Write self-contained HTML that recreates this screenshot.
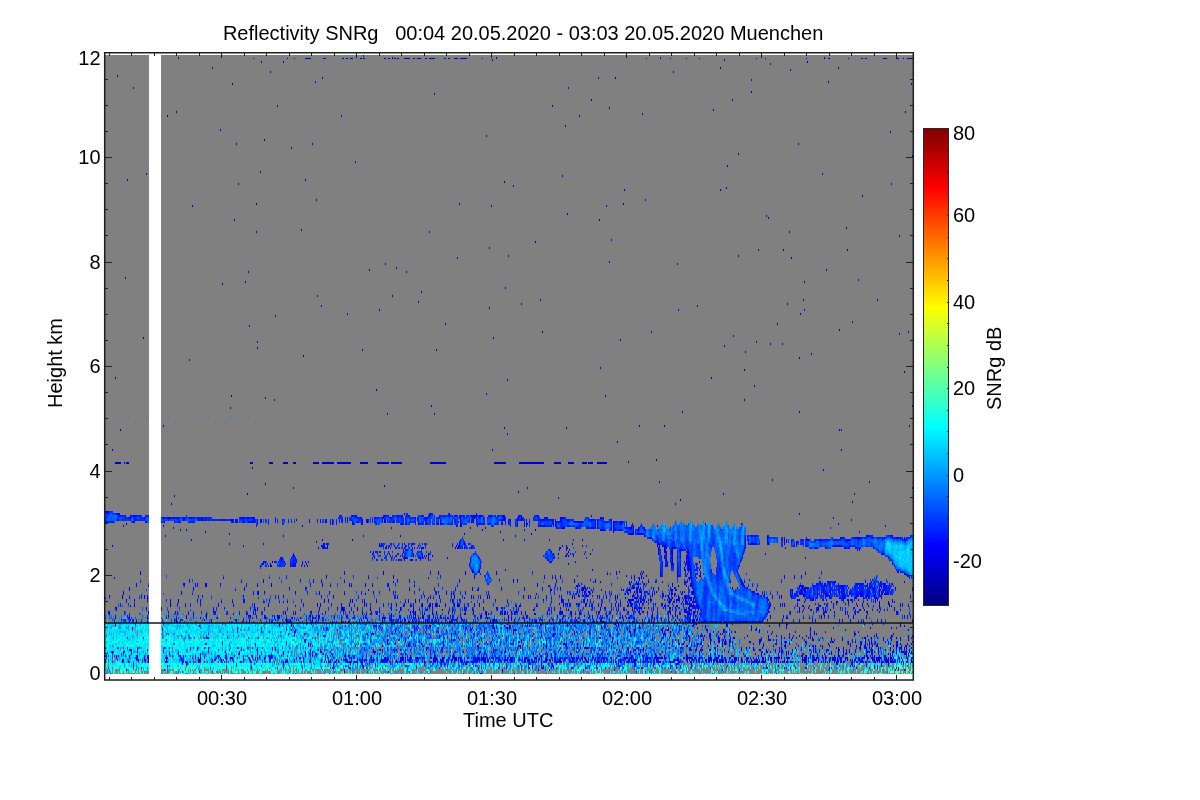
<!DOCTYPE html>
<html><head><meta charset="utf-8"><style>
html,body{margin:0;padding:0;background:#fff;}
svg{display:block;will-change:transform;}
text{font-family:"Liberation Sans",sans-serif;font-size:20px;fill:#000;}
</style></head><body>
<svg width="1200" height="800" viewBox="0 0 1200 800">
<defs><clipPath id="dc"><rect x="105" y="55" width="808" height="619"/></clipPath><linearGradient id="jet" x1="0" y1="0" x2="0" y2="1"><stop offset="0.0000" stop-color="#800000"/><stop offset="0.0312" stop-color="#9f0000"/><stop offset="0.0625" stop-color="#bf0000"/><stop offset="0.0938" stop-color="#df0000"/><stop offset="0.1250" stop-color="#ff0000"/><stop offset="0.1562" stop-color="#ff2000"/><stop offset="0.1875" stop-color="#ff4000"/><stop offset="0.2188" stop-color="#ff6000"/><stop offset="0.2500" stop-color="#ff8000"/><stop offset="0.2812" stop-color="#ff9f00"/><stop offset="0.3125" stop-color="#ffbf00"/><stop offset="0.3438" stop-color="#ffdf00"/><stop offset="0.3750" stop-color="#ffff00"/><stop offset="0.4062" stop-color="#dfff20"/><stop offset="0.4375" stop-color="#bfff40"/><stop offset="0.4688" stop-color="#9fff60"/><stop offset="0.5000" stop-color="#80ff80"/><stop offset="0.5312" stop-color="#60ff9f"/><stop offset="0.5625" stop-color="#40ffbf"/><stop offset="0.5938" stop-color="#20ffdf"/><stop offset="0.6250" stop-color="#00ffff"/><stop offset="0.6562" stop-color="#00dfff"/><stop offset="0.6875" stop-color="#00bfff"/><stop offset="0.7188" stop-color="#009fff"/><stop offset="0.7500" stop-color="#0080ff"/><stop offset="0.7812" stop-color="#0060ff"/><stop offset="0.8125" stop-color="#0040ff"/><stop offset="0.8438" stop-color="#0020ff"/><stop offset="0.8750" stop-color="#0000ff"/><stop offset="0.9062" stop-color="#0000df"/><stop offset="0.9375" stop-color="#0000bf"/><stop offset="0.9688" stop-color="#00009f"/><stop offset="1.0000" stop-color="#000080"/></linearGradient></defs>
<rect x="0" y="0" width="1200" height="800" fill="#fff"/>
<text x="222.9" y="39.5" xml:space="preserve">Reflectivity SNRg   00:04 20.05.2020 - 03:03 20.05.2020 Muenchen</text>
<rect x="105" y="55" width="808" height="619" fill="#808080"/>
<g clip-path="url(#dc)" shape-rendering="crispEdges" stroke-width="2" fill="none">
<path stroke="#0000ef" d="M105 658h808M105 660h808M105 662h808"/>
<g stroke="#0097ff"><path d="M662 524h1m19 0h1m6 0h2m11 0h1m1 0h1m3 0h1m17 0h2M662 526h2m16 0h1m21 0h1m7 0h1m13 0h2m7 0h1m9 0h1M654 528h1m10 0h3m7 0h1m13 0h1m3 0h1m5 0h1m2 0h3m4 0h2m16 0h1M656 530h1m8 0h1m9 0h1m15 0h1m7 0h1m3 0h2m4 0h1m6 0h3m6 0h3m7 0h1m6 0h1M654 532h1m7 0h2m5 0h1m6 0h1m12 0h2m9 0h1m1 0h1m1 0h1m11 0h1m8 0h3m3 0h1m1 0h2M646 534h2m4 0h1m9 0h3m2 0h2m20 0h3m10 0h1m6 0h1m7 0h1m7 0h2m7 0h2m5 0h3M652 536h3m7 0h3m11 0h1m12 0h2m9 0h5m3 0h2m7 0h2m7 0h2m6 0h2m5 0h1m1 0h1M721 546h1m88 0h1m6 0h1m67 0h1m20 0h1M702 548h1m3 0h1m15 0h1m14 0h1m167 0h1M701 550h2m16 0h1m17 0h1m159 0h1m3 0h1m10 0h1M702 552h1m17 0h1m1 0h1m13 0h2M702 554h1m3 0h1m14 0h2m15 0h1m153 0h1M474 556h1m227 0h1m2 0h1m1 0h1m13 0h1m15 0h2m152 0h2M472 558h1m2 0h2m244 0h1m168 0h1m1 0h1m9 0h1M475 560h2m227 0h2m16 0h1m170 0h1M472 562h2m2 0h1m228 0h1m16 0h1m171 0h1m2 0h1M471 564h1m3 0h4m224 0h1m1 0h1m189 0h2M475 566h1m1 0h1m226 0h1M476 568h2m226 0h3m16 0h1m179 0h1m1 0h1M475 570h3m226 0h2m17 0h1m179 0h1m2 0h1M703 572h3m202 0h1M706 574h1m16 0h1m185 0h2m1 0h1M486 576h1m217 0h1m1 0h1m16 0h1m1 0h1M486 578h1m220 0h1m16 0h1m1 0h2m149 0h1M708 580h1m18 0h2M698 582h1m9 0h2m17 0h1M709 584h1m17 0h2M710 586h1m16 0h2M477 588h1m232 0h2M710 590h3m16 0h1M731 592h2M713 594h3m3 0h1m9 0h2m18 0h1M258 596h1m453 0h1m1 0h1m21 0h3M327 598h1m332 0h1m38 0h1m16 0h1m20 0h1m1 0h4M283 600h1m432 0h1m1 0h2m21 0h1m1 0h1m1 0h1m1 0h1M356 602h1m189 0h1m161 0h1m9 0h1m1 0h2m24 0h2M677 604h1m72 0h2m10 0h1M566 606h1m152 0h4m7 0h1m21 0h1m1 0h1M724 608h1M390 610h1m112 0h1m179 0h1m39 0h1m5 0h1m8 0h1M433 612h1m295 0h3m2 0h1m1 0h2m1 0h1m7 0h1m4 0h2m7 0h1M114 614h1m471 0h1m150 0h2m1 0h3m1 0h1m7 0h1M118 616h1m63 0h1m18 0h1m74 0h1m76 0h1m43 0h1m163 0h1m72 0h1m59 0h1"/><path d="M653 538h91" stroke-dasharray="2 13 1 7 1 5 1 6 1 1 1 8 1 2 2 3 1 8 2 7 1 6 3 5 3 999"/><path d="M663 540h250" stroke-dasharray="1 11 1 6 1 7 2 8 1 1 1 5 1 8 1 2 1 4 1 1 1 5 3 5 1 1 1 28 1 90 1 11 1 9 3 1 1 1 1 18 3 999"/><path d="M697 542h214" stroke-dasharray="1 4 1 5 1 12 1 3 3 2 1 2 2 1 1 4 1 1 1 141 2 4 2 1 3 2 1 1 1 5 2 1 1 999"/><path d="M701 544h207" stroke-dasharray="1 17 1 1 1 3 1 8 2 6 2 66 1 1 1 18 1 31 1 21 1 11 2 3 2 2 2 999"/><path d="M119 618h556" stroke-dasharray="1 33 1 26 1 10 1 80 2 6 1 45 1 11 1 29 1 2 1 26 1 26 1 42 1 9 1 79 1 23 1 7 1 4 1 78 1 999"/><path d="M119 620h541" stroke-dasharray="1 6 1 137 1 5 1 55 1 10 1 19 1 109 1 12 1 4 1 15 1 15 1 33 1 15 1 39 1 9 1 3 1 37 1 999"/><path d="M128 622h535" stroke-dasharray="1 2 1 27 1 56 1 75 1 8 1 33 1 40 1 9 1 23 1 26 1 50 1 32 1 8 1 42 1 13 1 3 1 26 1 22 1 20 1 999"/><path d="M187 624h677" stroke-dasharray="1 17 1 65 1 15 1 10 1 16 1 9 1 32 1 2 2 1 1 16 1 4 1 11 1 1 1 2 1 9 2 6 1 3 2 3 1 3 1 18 1 1 1 2 1 3 2 32 1 13 1 7 1 4 1 6 1 2 1 3 1 6 1 9 1 5 1 2 1 2 1 1 1 4 1 4 1 2 1 3 1 4 1 1 1 2 1 3 1 13 1 7 1 1 1 2 1 1 1 7 1 2 1 7 1 7 1 32 1 13 1 160 1 999"/><path d="M111 626h596" stroke-dasharray="1 16 1 36 1 14 1 6 1 1 1 18 1 16 1 29 1 16 1 13 1 11 1 30 1 2 1 5 1 18 1 6 2 21 1 2 1 8 1 1 1 31 1 5 1 5 2 10 1 18 1 4 1 2 2 1 1 2 1 52 1 6 1 4 4 3 1 9 1 5 1 3 1 29 1 33 1 5 1 8 1 7 1 6 1 9 1 19 1 999"/><path d="M118 628h611" stroke-dasharray="1 1 1 5 1 1 1 6 1 41 1 40 1 29 1 15 1 35 1 3 1 9 3 8 1 19 2 4 1 1 1 6 3 2 1 5 1 3 1 12 2 2 1 4 1 2 3 6 1 23 1 37 1 9 3 3 2 2 1 12 1 12 2 5 1 2 1 2 1 20 1 3 2 4 2 4 1 5 1 3 1 15 1 1 1 10 1 9 1 4 2 18 1 2 1 2 1 7 1 17 1 1 1 4 1 5 1 15 1 11 1 13 1 999"/><path d="M128 630h584" stroke-dasharray="1 47 1 32 1 9 1 70 1 1 2 21 1 1 2 1 1 3 1 11 1 2 1 2 1 3 1 1 1 6 2 4 1 4 1 7 1 7 1 10 1 6 1 30 1 1 1 7 1 2 1 9 1 2 2 3 2 21 1 4 1 1 1 5 1 5 1 3 1 11 2 4 2 10 2 19 1 1 2 15 2 1 2 9 1 3 1 5 1 18 1 4 1 14 1 1 1 34 1 18 1 12 2 999"/><path d="M119 632h585" stroke-dasharray="2 41 1 4 1 6 1 29 1 3 1 10 2 42 1 4 1 12 1 3 1 6 1 4 1 17 1 33 3 7 2 48 1 39 1 2 1 3 1 6 1 4 2 15 1 7 1 2 1 1 1 15 1 12 1 14 1 2 1 1 1 5 1 5 1 10 1 2 1 7 1 2 1 3 1 13 1 7 1 9 1 4 1 1 1 4 1 8 1 11 1 2 1 4 1 11 1 2 1 16 1 9 1 999"/><path d="M111 634h589" stroke-dasharray="1 13 1 23 1 39 1 43 1 9 1 2 1 15 1 26 1 8 1 1 1 5 1 32 1 1 1 5 1 3 1 3 1 20 1 1 1 4 1 3 1 7 1 3 1 37 1 11 1 18 1 1 1 5 1 8 1 14 2 3 1 9 1 5 1 9 2 4 1 2 1 26 1 7 1 17 2 10 1 9 2 3 1 6 2 6 1 3 1 1 1 2 1 11 1 4 1 37 1 999"/><path d="M132 636h586" stroke-dasharray="1 67 1 28 1 33 1 14 1 2 1 6 1 13 1 1 1 8 1 22 1 2 1 24 1 11 1 4 1 8 1 8 1 13 1 7 1 3 1 2 1 2 1 29 1 2 1 5 1 20 1 8 1 6 1 3 1 14 1 10 2 19 1 2 1 5 1 3 1 4 1 24 3 20 2 7 1 19 2 1 1 4 1 2 1 7 1 14 1 9 1 13 1 5 1 999"/><path d="M137 638h596" stroke-dasharray="1 25 1 10 1 13 1 1 1 31 1 10 1 3 1 43 1 15 1 19 1 10 1 5 1 20 1 6 1 5 1 9 1 2 2 8 1 20 1 1 1 5 1 5 1 9 1 3 1 24 1 21 1 3 1 2 1 16 1 8 1 1 1 31 1 2 2 3 1 12 1 27 1 4 1 10 1 8 1 1 1 1 1 6 1 8 1 1 1 4 1 23 1 31 1 4 1 11 1 3 1 999"/><path d="M189 640h690" stroke-dasharray="1 91 1 11 1 29 2 7 1 3 1 3 1 3 1 4 1 2 2 8 2 10 3 5 1 12 1 20 1 1 1 8 1 1 1 20 1 5 1 13 1 7 1 8 1 7 3 18 1 36 1 2 2 5 1 3 1 2 1 3 2 7 1 7 2 10 1 5 1 12 1 8 2 3 1 17 1 1 1 28 1 89 1 11 1 29 1 60 1 999"/><path d="M157 642h722" stroke-dasharray="1 26 1 45 1 44 2 31 1 20 1 22 1 5 1 14 1 6 2 8 1 20 1 13 1 14 2 13 2 5 1 42 1 6 1 2 1 24 1 10 1 16 1 9 1 2 1 2 1 2 1 3 2 1 1 28 1 1 1 18 1 3 1 10 1 1 1 7 1 10 1 178 1 2 1 15 1 999"/><path d="M246 644h422" stroke-dasharray="1 51 1 12 1 30 3 9 1 12 1 3 1 39 1 26 1 13 1 1 2 3 1 7 1 7 1 12 1 10 1 2 1 13 1 12 1 2 1 28 2 7 1 9 1 9 3 1 1 8 3 5 1 6 1 8 1 5 1 8 1 8 1 2 1 6 1 5 1 999"/><path d="M112 646h632" stroke-dasharray="1 100 1 15 1 47 1 10 1 3 1 39 1 21 1 10 4 8 1 34 1 5 1 1 1 9 1 14 1 3 1 4 1 1 2 1 1 9 2 8 1 8 1 2 1 5 1 13 1 20 2 2 1 3 1 3 1 4 1 4 1 1 1 10 2 9 1 12 1 1 2 26 1 4 1 24 1 1 1 6 1 1 1 1 1 2 1 24 1 21 2 23 1 3 1 999"/><path d="M141 648h736" stroke-dasharray="1 17 1 3 1 86 1 23 1 3 1 6 1 6 1 3 1 14 1 10 1 13 1 6 1 7 1 1 1 7 1 1 1 1 1 2 1 19 1 3 1 8 1 1 1 4 1 11 2 7 1 6 1 1 1 10 1 3 2 2 2 13 1 25 1 5 1 6 1 1 2 21 1 7 1 6 1 3 1 3 1 3 1 4 1 31 1 4 1 1 1 11 1 6 1 6 1 20 3 1 1 1 1 12 1 4 1 9 1 4 1 38 1 6 1 127 1 8 1 999"/><path d="M124 650h612" stroke-dasharray="1 2 1 49 1 9 1 88 1 1 1 34 1 3 1 3 1 4 1 7 1 3 1 23 1 5 1 3 1 17 1 24 1 11 1 18 1 14 1 7 1 11 1 5 1 10 1 1 1 2 1 6 1 1 1 11 1 2 1 2 1 15 1 18 1 1 1 2 1 40 1 19 1 14 1 1 1 2 1 12 1 20 1 8 1 33 1 6 1 999"/><path d="M107 652h756" stroke-dasharray="1 78 2 14 2 90 1 1 1 29 1 8 1 1 1 1 1 21 1 1 1 2 1 2 1 1 1 5 1 6 1 5 1 2 1 14 1 6 1 2 1 4 1 48 1 1 1 2 2 13 1 3 1 10 1 3 1 3 1 8 1 1 1 10 1 1 1 5 1 10 1 28 1 3 1 24 1 2 1 7 1 10 1 1 2 8 2 3 1 12 2 7 1 3 1 2 1 3 1 2 1 4 1 134 1 32 1 999"/><path d="M106 654h780" stroke-dasharray="1 30 1 7 1 13 1 5 1 37 1 11 1 16 1 1 1 73 1 8 1 17 1 3 1 3 2 15 1 8 1 2 1 15 1 20 1 5 1 16 1 17 1 18 1 23 1 3 1 2 1 11 1 7 1 1 1 25 1 4 1 3 1 4 1 1 1 9 1 5 2 1 1 36 1 19 1 2 1 6 1 17 1 2 1 7 1 22 1 115 1 66 1 999"/><path d="M122 656h716" stroke-dasharray="1 7 1 8 1 5 1 27 1 4 1 13 1 12 1 67 1 9 1 7 1 12 1 4 1 3 1 3 1 17 1 6 1 3 1 4 1 3 1 25 1 4 1 27 1 12 1 1 1 39 2 13 2 17 1 8 1 8 1 2 1 31 1 3 2 15 1 3 1 4 1 8 2 1 1 7 1 21 1 16 1 2 1 1 1 15 1 4 1 2 1 5 1 19 1 5 1 7 1 122 1 999"/><path d="M119 658h701" stroke-dasharray="1 10 1 80 1 68 1 28 3 3 1 15 1 5 1 14 1 7 1 60 1 15 1 56 1 5 1 15 1 3 1 8 1 1 1 11 1 6 1 5 1 13 1 19 1 3 1 5 1 12 1 3 1 10 1 7 1 5 1 24 1 93 1 36 1 20 1 999"/><path d="M130 660h710" stroke-dasharray="1 27 1 5 1 8 1 15 1 5 2 13 2 50 1 30 1 5 1 4 1 4 1 10 1 10 1 17 1 8 1 21 1 42 1 25 1 9 1 7 1 1 1 16 1 21 1 87 1 11 1 33 1 1 1 3 1 3 1 14 1 56 1 52 1 7 1 36 1 16 1 999"/><path d="M113 662h772" stroke-dasharray="1 12 1 17 1 34 1 15 1 13 1 3 1 32 1 7 1 9 1 8 1 8 1 10 1 5 2 3 1 26 1 74 1 11 2 1 1 1 1 8 1 5 1 56 1 7 1 1 1 2 1 10 1 1 1 46 1 8 1 2 2 26 1 43 1 9 1 1 1 30 1 44 1 36 1 70 1 4 1 30 1 999"/><path d="M124 664h671" stroke-dasharray="1 11 1 16 1 34 1 83 1 15 1 12 1 2 1 6 1 5 1 2 1 13 1 94 2 22 2 39 1 29 1 6 1 44 1 19 1 5 1 8 1 16 1 1 1 5 1 3 1 1 1 7 1 55 1 25 1 8 1 33 1 18 1 999"/><path d="M131 666h706" stroke-dasharray="1 4 1 41 1 20 1 33 1 55 1 45 1 1 1 27 1 1 2 13 1 54 1 25 1 30 1 30 1 19 1 44 1 9 1 16 1 9 1 8 1 9 1 52 1 21 1 9 1 5 1 37 1 12 1 47 1 999"/><path d="M136 668h715" stroke-dasharray="1 10 1 65 1 71 1 3 1 53 1 9 1 2 1 13 2 28 1 24 1 1 1 1 1 10 1 6 1 8 3 2 1 10 1 18 1 55 1 2 1 1 1 14 1 65 1 4 1 8 1 2 1 28 1 6 1 7 1 155 1 999"/><path d="M212 670h673" stroke-dasharray="1 28 1 5 1 38 1 35 1 29 1 183 1 23 1 67 1 43 1 5 1 42 1 47 1 17 1 94 1 1 1 999"/><path d="M109 672h632" stroke-dasharray="1 34 1 16 1 54 1 81 1 9 1 24 1 73 1 13 1 158 1 7 1 33 1 11 1 15 2 9 1 78 1 999"/><path d="M139 674h769" stroke-dasharray="1 21 1 125 1 102 1 20 1 82 1 42 1 27 1 14 1 53 1 46 1 36 1 168 1 19 1 999"/></g>
<g stroke="#00b3ff"><path d="M663 524h2m26 0h1m11 0h1m5 0h2m14 0h1M664 526h1m25 0h2m12 0h1m3 0h2m25 0h1M662 528h3m26 0h1m16 0h1m16 0h2m8 0h1m7 0h1M663 530h1m26 0h1m52 0h1M664 532h1m38 0h1m4 0h2m25 0h1m7 0h1M700 534h1m2 0h1m4 0h1M725 536h1M701 538h2m16 0h1m5 0h1m1 0h1M689 540h1m11 0h1m17 0h1m22 0h1m145 0h1M701 542h1m17 0h2m21 0h1m146 0h2m18 0h1m1 0h2M702 544h1m17 0h1m12 0h1m7 0h1m149 0h6m2 0h2m7 0h3m1 0h1M701 546h2m16 0h2m171 0h1m2 0h1m2 0h1m4 0h3m5 0h2M701 548h1m18 0h2m163 0h1m6 0h2m4 0h1m4 0h2m5 0h3M720 550h2m163 0h3m3 0h4m3 0h1m4 0h3m4 0h2M721 552h1m163 0h4m2 0h2m3 0h1m9 0h1m5 0h1M886 554h1m2 0h3m4 0h1m1 0h1m11 0h3M722 556h1m170 0h1m3 0h1m4 0h1m2 0h1m6 0h1M722 558h1m170 0h2m2 0h1m11 0h1m2 0h1M894 560h2m1 0h2m5 0h1m5 0h1m1 0h1M895 562h2m1 0h1m2 0h2m7 0h1m1 0h1M897 564h2m5 0h2m1 0h2m3 0h1M476 566h1m421 0h1m1 0h1m2 0h1m1 0h1m4 0h1m1 0h1M901 568h2m1 0h1m1 0h1M724 570h1m182 0h1m3 0h2M723 572h2m184 0h4M724 574h2m185 0h1M724 576h1M725 578h1M749 582h1M730 590h1M730 592h1M731 594h2M464 596h1m250 0h1M715 598h1m22 0h1M742 600h1M748 602h1M719 604h1m1 0h1m30 0h2M723 606h2m28 0h1M395 608h1m114 0h1m212 0h1M724 610h1m1 0h1m3 0h1M732 612h1M107 614h1m199 0h1m95 0h1m19 0h1m6 0h1m16 0h1m88 0h1m3 0h1m17 0h1M163 616h1m106 0h1m34 0h1m9 0h1m4 0h1m83 0h1m5 0h1m81 0h1m45 0h1m110 0h1M297 620h1m48 0h1m9 0h1m1 0h1m28 0h1m42 0h1m135 0h1m1 0h1m35 0h1m5 0h1m45 0h1M147 670h1m47 0h1m2 0h1m44 0h1m27 0h1m79 0h1m100 0h1m97 0h1m339 0h1M108 672h1m136 0h1m50 0h1m56 0h1m26 0h1m9 0h1m87 0h1m34 0h1m149 0h1m204 0h1m20 0h1m22 0h1M130 674h1m56 0h1m51 0h1m5 0h1m276 0h1"/><path d="M195 618h473" stroke-dasharray="1 1 1 7 1 33 1 35 1 22 1 103 1 3 1 3 1 106 1 21 1 4 1 53 1 11 1 33 1 22 1 999"/><path d="M115 622h608" stroke-dasharray="1 105 1 6 1 9 1 34 1 1 1 82 1 96 1 27 1 22 1 15 1 29 1 69 1 1 1 1 1 29 1 15 1 49 1 999"/><path d="M105 624h613" stroke-dasharray="1 2 1 11 1 35 1 1 1 7 3 3 1 4 1 18 1 3 1 8 1 2 1 24 1 3 1 13 1 1 1 15 1 2 1 7 1 1 1 12 1 7 1 14 1 15 1 17 1 11 1 6 1 2 1 22 1 2 1 31 2 26 1 10 1 29 1 13 1 50 1 5 1 3 1 43 1 37 1 2 1 4 1 37 1 2 1 2 2 1 1 999"/><path d="M107 626h608" stroke-dasharray="1 10 1 1 1 5 1 13 1 10 1 9 1 2 1 3 1 6 3 1 1 29 1 1 1 6 2 37 1 11 1 5 1 1 1 3 1 1 1 8 1 7 1 2 1 17 1 3 2 12 1 1 1 10 1 5 1 1 2 6 1 40 1 5 1 4 1 11 1 27 1 34 1 1 1 1 1 1 1 14 1 6 1 10 1 9 1 4 1 2 1 24 1 49 1 32 1 22 1 30 1 999"/><path d="M106 628h610" stroke-dasharray="1 12 1 29 1 17 1 20 2 26 1 29 1 20 1 4 1 16 1 11 1 8 1 13 1 3 1 18 1 6 2 14 1 23 1 29 1 19 1 5 1 22 1 21 1 18 1 18 1 31 1 14 1 2 1 15 1 25 1 7 1 2 1 12 1 39 2 24 1 999"/><path d="M107 630h713" stroke-dasharray="1 26 1 6 1 6 2 3 1 2 2 9 1 39 1 25 1 13 1 4 1 19 1 10 1 5 1 26 1 2 1 1 1 22 1 4 1 15 1 4 2 8 1 30 1 10 1 20 1 9 1 21 1 20 1 9 1 17 1 24 1 24 1 11 1 28 1 28 1 10 1 18 1 15 1 67 1 60 1 999"/><path d="M109 632h799" stroke-dasharray="1 7 1 6 1 10 1 4 2 3 1 4 1 2 1 6 1 4 1 12 1 17 1 8 1 3 1 8 1 33 1 1 1 17 1 4 1 11 1 3 1 20 1 3 1 6 1 38 1 11 2 5 2 11 2 18 1 17 1 25 1 28 1 18 2 22 1 25 1 5 1 27 1 2 1 7 1 10 2 3 1 6 1 31 1 7 1 17 1 17 1 12 1 191 1 999"/><path d="M106 634h571" stroke-dasharray="1 9 1 36 1 3 1 3 1 5 1 6 1 22 1 6 1 17 1 18 1 11 1 6 1 17 1 12 1 22 1 10 1 3 1 1 1 13 2 5 1 9 1 5 2 11 1 2 1 5 1 45 1 24 2 23 1 6 1 4 1 11 1 3 1 3 1 8 1 35 1 14 1 3 1 5 1 87 1 999"/><path d="M133 636h596" stroke-dasharray="1 26 1 13 1 10 1 16 1 14 1 9 1 15 1 48 1 10 1 25 1 20 1 41 1 1 1 1 1 8 2 16 1 31 1 6 1 9 1 2 1 5 1 7 2 27 1 6 1 9 1 14 1 15 1 28 1 1 1 10 1 3 1 22 1 2 1 89 1 999"/><path d="M132 638h715" stroke-dasharray="1 51 1 24 1 5 1 15 1 4 1 19 1 12 1 2 1 26 1 1 1 38 1 15 1 23 1 11 1 7 1 1 1 73 1 5 1 13 1 13 1 19 1 43 1 12 1 3 1 13 1 12 1 6 1 25 1 30 1 1 1 20 1 140 1 999"/><path d="M128 640h655" stroke-dasharray="1 54 1 71 1 18 1 2 1 43 1 6 1 6 1 6 1 23 1 10 1 2 2 3 1 3 2 35 1 9 1 10 1 10 1 16 1 1 1 6 1 6 1 16 1 16 1 22 1 16 1 36 1 5 1 7 1 13 1 28 1 3 1 67 1 4 1 45 1 999"/><path d="M122 642h768" stroke-dasharray="1 86 1 2 1 18 1 14 1 33 2 14 1 5 1 6 1 20 1 19 1 15 1 8 1 6 1 6 1 39 1 49 1 27 1 3 1 12 1 79 1 17 1 8 1 13 1 4 1 1 1 15 1 65 1 52 1 98 1 2 1 999"/><path d="M116 644h770" stroke-dasharray="1 69 1 49 1 31 1 9 1 25 1 19 1 11 1 68 1 10 1 9 1 30 2 7 1 15 1 36 1 33 1 2 1 18 1 81 1 1 1 8 1 26 1 86 1 26 1 8 1 40 1 25 1 999"/><path d="M113 646h799" stroke-dasharray="1 100 1 7 1 7 1 18 2 52 1 25 1 15 1 5 1 11 1 9 1 24 1 33 1 34 1 13 1 14 1 20 1 58 1 24 1 1 1 11 1 8 1 25 1 12 1 18 1 48 1 19 1 30 1 24 1 10 1 92 1 999"/><path d="M162 648h636" stroke-dasharray="1 24 1 28 1 3 1 1 1 6 1 25 1 3 1 6 1 52 1 5 1 4 1 10 1 4 1 1 1 6 1 11 1 14 1 41 1 36 1 25 1 6 1 1 1 19 1 18 1 6 1 11 1 3 1 20 1 30 1 5 1 4 1 98 1 76 1 999"/><path d="M133 650h768" stroke-dasharray="1 34 1 6 1 64 1 8 1 20 1 14 1 6 1 3 1 3 1 2 1 24 1 10 2 1 1 2 1 12 1 12 1 36 1 27 1 30 1 11 1 39 1 15 1 20 1 6 1 28 1 20 2 47 1 43 1 7 1 12 1 11 1 16 1 7 1 19 1 1 1 7 1 7 1 15 1 10 2 69 1 999"/><path d="M110 652h711" stroke-dasharray="1 22 1 1 1 7 1 1 1 6 1 54 1 7 1 8 1 40 1 21 1 7 1 13 1 18 1 5 1 3 1 7 1 5 1 4 1 20 3 5 1 1 1 30 2 10 1 7 1 30 1 27 1 7 1 1 1 20 1 12 1 7 1 15 1 4 1 28 1 9 1 35 1 8 1 15 1 77 1 24 1 35 1 7 1 1 1 999"/><path d="M125 654h758" stroke-dasharray="1 46 1 4 1 17 1 8 1 3 1 19 1 36 1 3 1 22 1 37 1 3 1 11 1 5 1 25 1 10 1 2 1 1 1 26 1 5 1 5 1 23 1 47 1 2 1 12 1 14 1 22 1 13 1 4 1 10 1 1 1 3 1 10 1 4 1 21 1 24 1 24 1 11 1 2 1 12 1 6 1 20 1 8 1 13 1 17 1 30 1 23 1 16 1 11 1 8 1 8 1 999"/><path d="M115 656h780" stroke-dasharray="1 7 1 28 1 11 1 38 1 8 1 77 1 6 1 5 1 30 1 23 1 1 1 11 2 10 1 7 1 2 1 10 1 2 1 10 1 17 1 7 1 17 1 31 2 8 1 4 1 13 1 3 1 8 1 13 1 21 1 4 1 32 2 7 1 18 1 12 1 4 1 8 1 9 1 19 1 14 1 59 1 48 1 25 1 6 1 2 1 15 1 19 2 999"/><path d="M126 658h750" stroke-dasharray="1 5 1 12 2 4 1 4 2 24 1 3 1 1 1 1 1 2 1 15 1 4 1 43 1 18 1 9 1 14 1 1 3 10 2 2 1 10 1 11 1 3 1 6 1 7 3 13 1 16 1 28 1 21 1 2 1 14 1 37 1 28 1 53 1 4 1 16 1 12 1 17 1 4 1 23 1 2 1 25 1 14 1 10 1 30 1 5 1 11 1 12 1 13 1 9 1 1 1 38 1 24 1 999"/><path d="M119 660h762" stroke-dasharray="1 23 1 9 1 3 1 16 1 1 1 3 1 6 1 31 1 9 1 15 2 14 1 30 1 18 1 5 1 17 1 14 1 1 1 1 1 24 1 19 1 13 1 30 1 25 1 52 1 29 1 17 1 30 1 2 1 3 1 31 1 13 1 3 1 6 1 33 1 17 1 42 1 13 1 7 1 6 1 6 1 9 1 3 1 19 1 11 1 22 1 2 1 10 1 999"/><path d="M127 662h763" stroke-dasharray="1 27 1 6 1 1 1 27 1 12 2 13 1 18 1 2 1 6 1 7 1 9 1 4 1 22 1 9 1 1 1 3 1 8 1 11 1 10 1 15 1 14 2 31 1 61 1 10 1 5 1 6 1 53 1 37 1 9 1 26 1 32 1 54 1 18 1 43 1 20 1 4 1 9 1 1 1 14 1 3 1 14 1 34 1 8 1 999"/><path d="M282 664h603" stroke-dasharray="1 31 2 50 1 1 1 1 1 6 2 22 1 37 1 11 1 3 1 53 1 12 1 14 1 25 1 6 1 14 1 24 1 57 1 27 1 70 1 20 1 95 1 999"/><path d="M137 666h649" stroke-dasharray="1 134 2 8 1 31 1 6 1 28 1 10 1 8 1 18 1 9 1 15 1 18 2 30 1 19 1 24 1 52 1 15 1 12 1 27 1 43 1 45 1 40 1 30 1 1 1 999"/><path d="M143 668h618" stroke-dasharray="1 52 1 1 2 31 1 49 1 32 1 22 1 21 1 28 1 2 1 16 1 9 1 51 1 12 1 9 1 13 1 40 1 21 1 17 1 59 1 55 1 16 1 38 1 999"/></g>
<g stroke="#00ceff"><path d="M664 530h1m43 0h1M887 542h2M886 544h1m3 0h1m10 0h1m9 0h1M886 546h6m1 0h2m2 0h1m1 0h3m5 0h4M886 548h2m1 0h3m2 0h4m1 0h4m3 0h2m1 0h1M888 550h3m4 0h2m2 0h2m1 0h1m3 0h1m2 0h1M889 552h2m2 0h3m1 0h3m1 0h2m1 0h2m2 0h4M893 554h3m1 0h1m1 0h1m1 0h6m2 0h1M894 556h2m2 0h2m1 0h1m1 0h2m1 0h6M895 558h2m1 0h1m2 0h1m1 0h5m2 0h2M896 560h1m2 0h4m2 0h1m1 0h3m1 0h1M899 562h2m2 0h7m1 0h1M899 564h5m2 0h1m2 0h3M899 566h1m1 0h2m1 0h1m1 0h4m1 0h1M907 568h6M908 570h3M719 602h1M720 604h1M725 610h1M147 614h1m88 0h1M162 616h1m18 0h1m158 0h1M122 618h1m41 0h1m70 0h1m120 0h1m210 0h1m15 0h1M184 620h1m96 0h1m83 0h1m102 0h1m119 0h1m58 0h1m19 0h1m2 0h1m12 0h1M172 622h1m89 0h1m114 0h1M108 670h1m73 0h1m393 0h1m195 0h1M131 672h1m155 0h1m127 0h1m105 0h1m105 0h1m64 0h1M145 674h1m188 0h1m63 0h1m214 0h1m50 0h1m58 0h1m164 0h1"/><path d="M109 624h610" stroke-dasharray="1 2 3 1 1 4 2 3 2 1 1 1 1 1 1 6 1 6 2 1 1 1 2 3 1 2 1 4 1 3 2 7 3 5 1 1 1 2 2 6 1 1 3 2 3 2 1 4 1 7 1 1 1 2 2 8 1 3 1 2 2 1 3 4 1 2 1 2 1 9 1 12 1 11 1 2 1 9 1 6 2 1 1 2 1 3 2 5 1 1 2 6 2 1 1 6 1 15 1 6 1 10 2 20 1 24 1 4 2 1 1 1 1 10 1 10 1 3 1 6 1 7 1 8 1 2 1 4 1 20 1 23 1 15 1 29 1 16 1 28 1 11 1 3 1 3 1 2 1 9 1 5 3 7 1 2 1 25 1 999"/><path d="M109 626h620" stroke-dasharray="1 2 1 1 1 14 1 6 1 11 3 6 1 2 1 2 1 3 1 3 4 3 1 3 1 2 1 4 1 5 1 4 1 2 2 1 1 2 1 1 2 2 2 4 1 3 2 3 2 4 1 8 1 1 1 1 1 1 1 5 1 2 1 9 1 2 1 1 1 3 1 1 1 4 2 6 1 3 1 1 1 4 1 2 1 5 1 2 2 3 1 3 2 4 2 2 1 5 1 2 2 7 1 7 1 2 1 16 1 9 1 9 1 32 1 3 1 2 1 15 1 40 1 47 1 15 1 34 1 2 1 8 1 1 1 6 1 3 1 6 1 40 1 44 1 5 1 4 1 999"/><path d="M109 628h650" stroke-dasharray="2 10 1 3 1 4 1 8 1 2 2 2 1 6 1 1 5 1 1 4 1 4 1 2 1 1 1 4 2 9 2 7 2 1 2 1 1 1 2 2 1 1 1 3 1 2 2 1 1 3 1 1 1 2 1 17 1 4 1 7 1 2 1 2 1 1 1 2 1 2 2 2 2 10 5 2 1 30 1 4 1 2 1 2 1 3 1 1 1 1 1 3 1 1 1 26 1 63 1 3 1 5 1 14 1 23 1 17 1 8 1 3 1 4 2 23 1 8 1 5 1 9 1 2 1 8 1 6 1 19 1 7 1 20 1 4 1 19 1 80 1 999"/><path d="M106 630h609" stroke-dasharray="1 2 1 4 1 1 2 1 3 2 1 1 1 2 1 5 1 3 1 2 1 2 1 4 1 3 2 2 1 4 1 5 1 1 1 3 1 2 1 5 2 5 1 1 1 1 1 1 3 1 1 1 1 2 1 1 1 1 1 11 2 1 2 7 1 10 1 3 2 4 2 1 2 2 1 1 1 2 1 1 1 1 1 2 1 9 1 2 1 11 1 11 2 19 1 2 1 2 1 1 1 2 1 3 1 24 1 5 1 5 2 6 1 8 1 1 1 2 1 3 1 14 1 21 1 12 1 13 1 3 1 8 1 37 1 8 1 21 1 7 1 2 2 19 1 2 1 7 1 77 1 4 1 5 1 25 1 999"/><path d="M111 632h656" stroke-dasharray="1 2 2 5 2 2 2 2 1 6 1 2 1 2 1 5 1 9 1 4 2 4 3 10 2 1 1 5 1 2 1 5 1 1 1 4 1 2 2 2 1 6 2 1 1 4 4 5 2 1 1 3 1 1 1 2 2 1 1 1 1 1 1 2 1 9 1 4 1 2 1 3 1 1 1 11 1 3 1 2 2 4 1 2 2 5 3 2 1 7 3 3 1 2 1 3 1 6 3 7 1 2 2 6 1 29 1 35 1 4 1 3 1 12 1 13 2 13 1 13 1 12 1 16 1 9 1 6 1 4 1 15 1 6 1 27 1 8 1 25 1 9 1 27 1 1 1 7 1 17 1 19 1 37 1 999"/><path d="M108 634h734" stroke-dasharray="1 9 2 4 1 2 1 4 1 3 1 2 1 2 1 5 1 6 2 1 1 4 1 7 2 2 1 3 3 5 2 4 1 1 1 3 3 1 1 1 2 6 1 12 2 1 2 5 2 1 1 2 1 8 1 6 1 2 1 1 1 1 1 1 1 2 1 3 2 14 1 4 1 1 1 5 1 4 3 1 2 2 1 3 1 7 1 3 2 10 1 9 1 8 1 1 1 47 1 2 1 23 1 18 1 3 1 2 1 17 1 17 1 3 1 1 1 8 1 10 1 7 1 5 1 13 1 8 1 4 1 15 1 4 1 5 1 8 1 31 1 3 1 24 1 4 1 17 1 22 1 127 1 999"/><path d="M111 636h582" stroke-dasharray="1 1 1 1 2 5 1 1 2 1 1 3 1 4 1 2 1 2 1 6 2 8 1 11 1 1 1 2 1 5 1 4 1 5 1 13 2 1 2 3 2 1 1 2 1 1 1 2 1 1 1 5 1 4 1 7 1 5 1 6 1 3 1 8 1 3 1 1 1 11 1 6 1 6 1 16 1 11 1 14 1 2 1 2 1 4 1 8 1 3 2 5 1 12 1 1 1 20 1 3 1 3 1 20 2 2 2 1 1 25 1 30 1 3 1 55 1 9 1 6 1 27 1 5 1 20 1 20 1 4 1 8 1 5 1 2 1 6 1 999"/><path d="M111 638h795" stroke-dasharray="2 4 2 3 1 3 1 6 2 18 1 1 1 3 1 1 1 10 1 5 1 2 2 22 1 14 2 2 1 4 1 5 1 8 1 4 1 2 1 2 1 18 1 9 1 2 1 12 1 38 1 3 1 4 1 22 2 2 1 19 2 26 1 22 1 3 1 1 1 10 1 26 1 30 1 4 1 1 1 10 1 3 1 16 1 34 1 39 1 13 1 14 1 1 1 1 1 1 1 1 1 8 1 15 1 1 1 15 1 13 1 175 1 999"/><path d="M113 640h787" stroke-dasharray="1 2 1 7 1 2 1 1 2 2 1 9 1 15 1 13 2 18 1 5 1 8 1 9 1 5 1 1 1 6 1 1 1 3 1 7 2 43 1 1 1 2 1 8 1 13 1 17 1 11 1 4 2 21 1 31 1 1 1 10 2 6 1 12 1 22 1 3 1 11 1 34 2 6 1 1 1 8 1 3 1 2 1 7 1 8 2 24 1 26 2 17 1 14 1 15 1 1 1 32 2 62 1 63 1 58 1 12 1 999"/><path d="M105 642h795" stroke-dasharray="3 3 1 6 2 13 1 2 1 1 1 2 1 9 1 3 1 2 1 6 1 13 1 22 1 11 1 3 1 14 1 4 1 9 2 13 2 6 1 2 1 2 1 7 1 24 1 3 1 1 2 3 1 1 1 11 1 8 1 2 1 15 1 3 1 4 1 6 1 12 1 1 1 5 1 2 1 9 1 17 1 4 1 34 1 66 1 17 1 10 1 30 1 8 1 16 1 38 1 26 1 8 1 15 1 4 1 14 1 39 1 6 1 8 1 107 1 999"/><path d="M106 644h662" stroke-dasharray="1 6 1 10 1 5 1 3 1 10 1 1 1 6 2 1 1 12 1 9 1 8 1 1 1 5 1 2 1 3 1 8 1 6 1 4 1 9 1 12 1 1 1 3 1 7 1 2 1 4 1 6 1 11 1 22 1 3 1 4 2 2 2 3 2 14 1 23 1 4 1 15 1 6 1 1 1 2 1 31 1 9 1 3 2 86 1 1 1 2 1 15 1 23 1 2 1 1 1 5 1 6 1 19 1 9 1 12 1 68 1 54 1 999"/><path d="M116 646h773" stroke-dasharray="1 8 1 10 1 2 1 5 1 5 3 2 1 3 2 10 1 12 1 7 1 21 1 12 1 17 3 9 1 10 1 6 1 3 3 2 2 6 1 5 1 14 1 12 1 14 1 6 1 3 1 17 2 1 1 12 1 4 1 2 1 9 1 15 1 4 1 14 2 8 1 11 1 1 1 2 1 15 1 13 1 3 1 21 2 3 1 5 1 3 1 48 1 16 1 8 1 1 1 11 1 10 1 2 2 44 1 12 1 22 1 77 1 85 1 999"/><path d="M106 648h798" stroke-dasharray="1 2 1 2 2 1 1 5 2 7 2 1 1 10 1 21 1 1 1 2 1 9 1 2 1 6 1 8 1 9 2 1 1 11 1 8 2 13 1 1 1 1 1 7 1 1 1 4 2 1 1 15 1 10 1 2 2 4 2 1 1 2 2 11 1 1 2 1 2 9 1 4 1 11 1 14 1 2 1 7 2 19 1 8 1 18 1 28 1 25 1 40 1 109 1 21 1 14 1 53 1 19 1 50 1 5 1 77 1 16 1 999"/><path d="M105 650h807" stroke-dasharray="1 11 1 1 1 3 1 11 1 7 1 15 1 7 1 5 1 2 1 1 1 4 1 8 1 3 1 5 1 1 1 6 1 24 1 7 1 2 1 4 1 1 1 4 1 14 1 5 1 1 1 6 2 6 1 4 1 1 1 1 1 4 1 2 1 1 1 2 1 10 1 13 1 4 1 1 1 1 1 15 1 32 1 1 1 7 1 11 1 14 1 16 1 25 2 25 1 16 1 6 1 4 1 23 1 19 1 2 1 21 1 2 1 11 1 1 1 87 1 23 1 1 1 23 1 30 1 3 1 6 1 3 1 31 1 10 1 11 2 11 1 10 1 10 1 12 1 999"/><path d="M109 652h802" stroke-dasharray="1 9 1 2 1 5 3 5 1 1 2 1 1 11 1 2 1 14 1 1 2 1 2 2 1 8 1 10 1 3 2 3 4 1 1 3 1 12 3 2 3 5 1 2 1 3 3 4 1 10 1 1 1 2 1 1 1 7 2 4 1 9 1 2 1 11 2 1 1 12 1 1 1 24 1 24 1 14 1 4 1 8 1 8 1 15 1 23 1 41 1 6 1 36 1 3 1 7 1 35 1 3 1 7 1 3 1 3 1 6 1 14 1 6 1 7 1 49 1 9 1 3 1 1 1 17 1 1 1 7 1 50 1 75 1 24 1 11 1 999"/><path d="M107 654h791" stroke-dasharray="2 4 1 1 1 2 1 14 1 6 2 1 1 2 2 3 2 1 1 1 1 6 2 3 1 1 1 5 1 15 2 2 1 1 2 1 1 5 1 1 1 4 1 2 1 2 1 15 1 9 3 4 1 1 1 20 1 4 1 4 1 1 1 9 1 5 1 1 1 4 1 2 1 5 1 7 1 7 1 18 2 1 1 6 1 1 1 3 1 45 1 33 1 6 1 17 1 11 1 17 1 3 1 19 1 6 1 20 1 9 1 7 1 33 1 38 1 20 1 26 1 14 1 10 1 12 1 1 1 3 1 29 1 2 1 13 1 3 1 13 1 15 1 2 1 28 1 14 1 24 1 1 1 999"/><path d="M110 656h798" stroke-dasharray="1 8 1 4 1 1 1 1 1 4 1 1 1 7 1 9 3 9 1 1 1 14 1 1 1 1 3 9 1 11 1 4 2 7 1 3 1 1 3 2 1 5 2 1 1 1 1 1 1 4 1 7 4 1 2 7 2 3 1 12 1 1 1 3 1 6 1 17 1 1 1 9 1 4 1 15 1 1 1 7 1 6 2 4 1 16 1 21 1 2 1 2 2 6 1 21 1 20 1 5 1 5 1 28 1 2 1 2 1 8 1 20 1 4 1 5 1 45 1 27 1 2 1 7 1 23 1 24 1 14 1 6 1 15 1 2 1 7 1 18 2 7 1 19 1 12 1 2 1 47 1 1 1 20 1 5 1 6 1 4 1 1 1 4 1 999"/><path d="M110 658h800" stroke-dasharray="1 3 1 3 1 1 1 2 1 3 2 5 1 3 1 3 1 7 1 1 1 1 1 3 1 3 2 4 1 6 1 2 1 5 1 14 1 1 1 8 1 1 1 4 1 1 1 1 1 2 1 4 1 4 1 10 1 7 1 8 2 4 1 10 1 4 2 5 1 2 2 1 2 13 1 22 1 22 1 9 2 2 1 1 2 7 1 5 1 3 1 3 1 8 1 6 2 11 1 11 1 6 2 15 2 6 1 17 1 17 1 26 1 8 1 15 1 30 1 19 1 9 1 18 1 31 1 1 2 5 1 13 1 13 1 23 1 7 1 19 1 30 1 2 1 60 1 10 1 31 1 2 1 8 1 999"/><path d="M110 660h791" stroke-dasharray="2 6 1 2 1 3 1 3 1 4 1 4 1 10 1 1 1 8 1 8 1 7 1 5 1 3 1 1 3 9 2 2 4 3 1 2 1 1 1 8 1 8 1 10 2 5 1 4 1 3 1 10 1 6 1 1 2 5 2 3 1 2 1 6 1 1 1 4 3 3 2 4 1 4 1 3 2 4 1 2 1 12 1 11 1 10 1 14 2 19 1 16 1 6 1 24 1 1 1 2 1 22 2 24 1 19 1 2 1 2 1 7 1 26 1 4 1 5 1 24 1 1 2 50 1 32 1 5 1 22 1 61 1 1 1 4 1 27 1 25 1 2 1 8 1 17 1 14 1 1 1 999"/><path d="M111 662h790" stroke-dasharray="1 12 1 5 1 5 1 2 1 3 1 9 2 2 1 2 1 7 1 1 1 1 1 2 2 1 1 1 1 10 1 11 1 13 1 7 1 1 1 2 2 2 1 9 1 15 1 5 1 22 2 1 1 3 1 9 1 8 1 3 1 3 1 16 1 1 1 1 1 13 1 8 2 7 1 1 2 13 2 7 1 46 1 6 1 2 1 22 1 33 2 2 1 5 1 10 1 13 1 40 2 20 1 24 1 1 1 33 1 16 1 7 1 26 1 39 1 28 1 36 1 21 1 44 1 999"/><path d="M110 664h776" stroke-dasharray="1 2 1 17 1 3 1 5 1 7 1 5 1 8 1 12 1 3 1 18 1 1 1 8 1 2 1 11 1 24 1 1 1 1 1 24 1 4 1 23 1 9 1 9 1 22 1 46 1 12 1 7 1 13 2 34 1 9 1 11 1 8 1 19 1 1 1 26 1 3 1 14 1 1 1 7 1 4 1 10 1 8 1 2 1 57 1 1 1 5 1 29 1 4 1 19 1 2 1 52 1 4 1 18 1 3 1 10 1 15 1 25 1 11 1 2 1 4 1 999"/><path d="M120 666h750" stroke-dasharray="1 7 1 32 1 10 1 58 1 9 1 14 1 7 1 12 1 10 1 6 1 9 1 41 1 11 1 31 1 4 1 16 1 19 1 8 1 6 1 15 1 30 1 4 1 2 1 11 1 33 1 18 1 1 1 4 1 30 1 16 1 12 1 17 1 6 1 3 1 10 1 12 1 39 1 5 1 3 1 1 1 7 1 12 1 1 1 24 1 8 1 51 1 17 1 999"/><path d="M119 668h748" stroke-dasharray="1 17 1 12 1 6 1 22 1 95 1 24 1 2 1 33 1 6 1 8 1 18 1 13 1 4 1 10 1 7 1 1 1 3 1 13 2 4 1 15 1 15 1 17 2 3 1 12 1 10 1 10 1 26 1 40 1 14 1 34 1 17 1 32 1 2 1 8 1 31 1 6 1 6 2 53 1 28 1 16 1 10 1 999"/></g>
<g stroke="#00eaff"><path d="M887 544h3M896 546h1m5 0h1M888 548h1m19 0h1M907 550h2M900 552h1m2 0h1m3 0h1M900 554h1m6 0h2M896 556h1m3 0h1M899 558h2m7 0h1M903 560h1m2 0h1M219 616h1m444 0h1M125 618h1m373 0h1M166 620h1m184 0h1m70 0h1M214 622h1m416 0h1"/><path d="M107 624h656" stroke-dasharray="1 2 2 5 2 4 2 3 1 1 1 3 1 1 2 3 1 1 4 4 1 2 2 5 2 1 1 6 1 2 1 1 1 4 2 2 1 3 2 2 2 2 2 11 1 2 3 1 4 2 1 7 2 1 3 1 1 1 1 1 1 1 2 2 1 3 3 3 1 1 1 2 1 2 4 5 1 1 1 5 1 4 3 3 1 6 1 2 2 2 2 2 1 1 1 4 1 1 1 11 1 9 1 8 1 2 1 11 1 11 1 15 2 63 2 6 1 25 1 39 1 36 1 30 1 24 1 9 1 10 1 10 1 1 1 4 1 5 1 89 1 999"/><path d="M106 626h610" stroke-dasharray="1 1 1 1 1 5 2 3 5 1 1 2 1 1 3 2 2 2 1 1 5 4 2 8 1 3 1 2 1 11 1 2 1 1 1 1 1 2 3 1 1 1 1 5 1 2 1 7 2 4 2 1 2 3 2 3 4 1 1 3 4 5 1 1 2 4 2 4 1 4 1 2 1 10 2 3 1 6 1 5 1 1 2 1 2 1 2 2 1 2 1 12 1 5 1 17 1 4 1 7 1 1 1 2 1 4 1 17 1 12 1 10 1 18 1 8 1 50 1 3 1 44 1 11 1 38 1 37 2 36 1 40 1 999"/><path d="M105 628h645" stroke-dasharray="1 7 2 7 2 7 1 5 1 2 1 4 1 1 2 2 2 1 1 5 1 2 3 3 2 4 1 4 1 2 1 1 1 1 1 2 2 4 4 3 1 2 1 4 2 1 1 2 1 6 1 1 3 7 1 3 1 1 4 4 1 2 4 1 1 1 1 1 2 5 1 4 2 1 2 6 1 2 1 17 1 1 2 1 1 6 1 3 1 7 3 1 1 2 1 5 1 22 1 1 2 2 1 11 1 8 1 9 1 6 1 23 1 12 1 12 1 38 1 2 1 41 1 19 1 1 1 45 1 43 1 17 1 7 1 66 1 999"/><path d="M105 630h624" stroke-dasharray="1 4 4 8 2 3 1 3 1 1 1 2 1 3 1 3 1 1 2 4 1 6 3 3 2 1 1 3 3 4 5 2 5 1 1 3 1 3 1 3 2 8 1 1 3 2 1 2 1 2 4 4 2 1 2 3 1 2 1 4 1 1 1 6 1 2 1 1 1 2 1 1 1 4 1 2 5 2 1 12 1 1 5 2 1 1 1 3 1 8 1 7 2 1 1 7 1 27 1 3 1 3 1 21 1 5 1 6 1 5 1 20 1 8 1 10 1 39 1 2 1 68 1 26 1 12 1 6 1 18 1 8 1 81 1 999"/><path d="M106 632h584" stroke-dasharray="3 1 1 1 2 2 1 1 1 8 2 1 5 3 1 4 1 3 1 1 1 1 2 1 3 2 1 8 1 3 2 1 2 2 1 4 1 2 2 1 1 1 2 1 1 1 1 1 1 3 1 2 1 8 3 5 1 1 2 7 3 6 1 2 1 1 1 7 1 1 1 5 2 1 1 3 1 1 2 1 1 2 1 6 1 1 1 1 1 7 1 3 1 4 2 1 2 11 1 3 4 11 2 2 3 7 1 1 1 2 1 7 1 1 1 94 1 32 1 2 1 3 1 9 1 69 1 24 1 25 1 51 1 999"/><path d="M105 634h624" stroke-dasharray="1 4 1 1 1 2 1 4 1 1 2 2 1 1 2 1 1 2 2 2 1 2 1 1 1 1 1 1 1 2 1 1 1 6 1 4 2 4 1 5 1 1 1 6 2 3 2 6 1 10 3 3 5 1 1 2 2 5 2 5 1 1 1 4 1 1 4 3 1 9 1 1 1 1 2 1 1 1 1 8 3 2 1 5 1 5 1 1 1 9 1 7 1 1 1 1 2 17 2 12 1 2 1 17 1 4 1 49 1 1 1 40 1 6 2 15 1 3 1 3 1 31 1 9 1 26 1 34 1 14 1 2 1 28 1 25 1 43 1 999"/><path d="M105 636h547" stroke-dasharray="1 2 2 2 1 4 1 1 3 6 2 4 2 4 2 2 1 1 1 5 1 1 5 9 1 1 1 8 2 2 2 1 1 5 1 1 1 1 3 2 1 3 1 6 3 4 1 2 1 7 3 2 1 1 1 4 1 2 1 3 4 2 2 2 1 5 3 1 2 1 1 1 2 6 1 1 1 2 1 1 2 4 1 1 1 3 1 4 1 2 3 2 3 2 1 6 2 2 1 1 1 2 1 1 1 6 1 2 1 13 1 10 1 10 1 7 1 23 1 50 1 15 2 10 1 32 2 7 1 26 1 27 1 7 2 25 1 2 1 12 1 8 1 999"/><path d="M105 638h538" stroke-dasharray="3 2 1 3 1 1 1 2 1 1 1 3 1 2 2 5 1 3 2 5 1 3 1 1 1 1 1 1 2 2 1 3 1 3 1 6 2 2 1 13 1 1 1 3 1 2 1 8 2 1 1 1 1 1 1 6 1 4 1 7 4 1 1 1 1 4 1 2 2 6 1 2 1 3 1 2 1 1 1 1 1 1 1 1 2 1 1 2 1 3 2 1 1 3 1 1 1 6 1 1 2 2 1 1 1 2 1 3 3 2 3 1 2 4 1 1 1 4 1 3 1 3 1 6 1 3 1 4 1 2 1 4 1 23 1 11 1 6 1 1 1 2 1 18 2 12 1 21 1 15 1 9 1 5 1 3 1 4 1 42 1 7 1 1 1 5 1 1 1 37 1 2 1 13 1 1 1 5 1 999"/><path d="M109 640h756" stroke-dasharray="4 2 1 4 3 2 1 6 1 1 3 5 1 1 1 1 4 1 1 1 1 1 2 1 1 1 1 4 1 4 2 3 6 1 1 3 3 1 2 5 1 5 3 4 1 2 3 6 1 2 1 2 2 2 1 1 1 2 1 3 1 8 2 2 1 1 3 1 1 3 4 1 2 2 1 5 1 2 1 1 5 2 1 4 1 1 1 1 1 1 2 4 2 1 2 1 1 1 2 7 1 3 2 15 1 11 1 2 1 5 3 2 1 36 1 7 1 4 1 7 1 2 2 3 2 1 2 3 1 51 1 3 1 36 1 2 1 29 1 22 1 4 2 9 1 13 1 9 1 6 1 39 1 171 1 9 1 999"/><path d="M110 642h681" stroke-dasharray="1 4 1 4 1 2 5 2 3 4 1 5 3 2 2 3 2 1 1 3 5 1 1 1 1 1 2 1 2 6 1 1 1 4 1 4 2 5 2 2 1 1 2 5 1 1 1 3 1 4 1 1 1 1 1 3 1 1 1 2 1 2 1 3 1 5 1 3 2 2 1 1 1 1 1 3 2 4 1 6 1 2 3 3 3 7 2 1 1 4 1 5 2 1 1 3 2 3 3 6 1 2 1 1 1 3 2 4 1 5 1 5 1 4 1 40 1 10 1 6 1 2 1 2 1 3 2 27 1 5 1 13 1 3 1 26 1 11 1 3 1 16 1 10 1 15 1 20 1 13 1 3 1 4 1 7 1 31 1 16 1 6 1 12 1 92 1 1 1 999"/><path d="M108 644h695" stroke-dasharray="3 1 1 1 2 1 3 1 1 1 1 4 1 3 1 2 1 2 1 1 1 1 1 1 1 1 1 1 2 8 1 1 1 4 2 4 2 4 3 4 2 2 1 1 1 1 2 1 1 2 2 1 1 1 1 3 4 1 1 2 1 1 1 3 1 4 1 4 4 4 2 1 1 1 1 7 2 2 1 4 1 2 1 2 1 3 2 2 1 3 2 3 1 3 1 5 1 4 1 1 1 1 1 3 1 21 1 3 3 1 2 9 2 2 2 14 2 7 2 5 1 8 1 23 2 14 2 11 1 17 1 6 1 5 1 5 1 9 1 1 1 2 1 10 1 7 1 7 2 3 1 9 1 4 1 6 1 42 2 34 1 14 1 26 1 1 3 2 1 39 1 81 1 999"/><path d="M106 646h615" stroke-dasharray="4 5 1 3 6 4 1 2 1 1 2 1 1 3 1 1 2 2 2 5 1 2 1 4 2 3 1 3 1 2 1 1 1 1 4 1 2 2 2 1 2 3 6 1 1 5 1 1 3 4 2 4 5 5 3 1 2 1 1 1 3 11 1 2 1 1 1 2 5 2 1 1 1 4 1 4 2 2 1 7 1 9 2 4 1 3 4 3 1 5 1 2 1 1 1 1 1 1 3 6 1 15 1 1 1 13 1 10 2 2 2 39 1 2 1 8 1 8 1 15 1 13 1 7 1 11 1 3 2 3 1 27 1 5 1 8 1 1 2 1 1 7 1 1 1 8 1 2 1 2 1 9 1 2 1 6 1 19 1 3 1 1 1 3 2 29 1 1 1 4 1 13 1 23 1 6 1 999"/><path d="M108 648h766" stroke-dasharray="1 1 2 7 1 5 1 2 2 4 2 6 2 2 2 1 1 7 2 1 2 8 1 2 6 1 1 4 2 2 1 2 1 1 1 4 1 1 1 5 1 9 1 1 1 1 1 2 1 1 1 1 1 3 2 2 1 2 2 2 4 7 1 1 1 1 1 1 1 3 1 2 1 2 1 5 2 6 1 1 1 1 1 17 1 5 1 2 1 18 1 3 1 1 1 52 1 46 1 44 1 2 1 14 1 58 1 20 1 12 1 12 1 102 1 97 1 62 1 999"/><path d="M106 650h792" stroke-dasharray="2 1 5 7 1 4 1 1 1 3 1 1 1 3 1 2 2 1 3 1 1 2 1 2 1 2 1 3 2 2 2 4 1 7 1 1 2 1 2 3 1 1 1 1 1 1 1 2 3 2 1 2 1 2 2 1 3 4 1 1 1 2 1 1 1 1 1 3 4 2 1 3 1 2 1 2 1 6 1 4 1 1 2 3 3 1 1 7 1 1 1 2 1 1 3 2 1 1 1 5 1 1 1 3 1 2 1 6 1 7 1 5 1 6 1 10 1 4 1 3 1 28 2 101 1 32 1 15 1 58 1 12 1 15 1 41 1 2 1 37 1 7 1 13 2 13 1 3 1 45 1 96 1 4 1 999"/><path d="M105 652h793" stroke-dasharray="2 1 1 6 4 1 1 4 3 12 1 3 1 6 1 6 2 2 1 1 2 1 2 6 1 3 1 2 4 2 1 1 4 1 2 1 1 2 1 4 1 10 1 2 3 3 1 3 1 3 2 4 3 2 1 2 1 5 3 2 2 1 2 2 3 1 1 1 1 2 1 3 2 12 1 3 3 2 1 8 1 5 1 1 1 5 1 6 1 3 1 4 2 1 1 2 1 3 1 1 2 1 1 45 1 3 1 69 1 5 1 3 1 1 1 28 1 1 1 1 1 3 1 37 1 18 1 9 1 31 1 86 1 11 1 21 1 17 1 29 2 17 1 51 1 11 1 10 1 9 1 999"/><path d="M105 654h806" stroke-dasharray="1 5 1 5 1 1 2 3 1 1 1 1 3 1 1 2 1 8 1 4 1 3 1 1 1 1 1 2 1 1 1 3 1 4 1 2 1 5 1 1 1 1 2 3 1 7 1 12 1 1 1 3 1 2 1 2 3 4 1 3 1 8 1 1 2 3 1 1 2 3 1 1 3 1 3 1 3 3 1 1 1 2 1 2 1 3 2 1 1 2 1 4 1 3 1 3 1 9 1 5 1 4 1 2 1 10 1 1 2 5 1 3 1 1 2 28 1 13 1 24 1 2 1 17 1 17 1 55 1 7 1 2 1 12 1 10 1 120 3 40 1 30 1 2 1 19 1 8 1 77 1 1 1 31 1 1 1 4 2 7 1 1 2 999"/><path d="M107 656h806" stroke-dasharray="1 1 1 10 1 10 2 1 1 3 1 2 2 3 1 2 1 6 1 1 2 1 3 7 1 2 1 1 1 4 1 9 1 2 1 1 2 1 1 2 1 4 3 3 1 6 4 3 1 1 1 6 3 1 1 17 1 19 1 5 3 1 2 10 2 9 1 11 1 4 1 2 1 46 1 39 1 32 1 11 1 38 1 11 1 16 1 12 1 27 1 61 1 35 1 1 1 6 1 23 1 19 1 22 1 46 1 35 1 18 1 47 1 2 1 10 1 1 1 999"/><path d="M107 658h796" stroke-dasharray="2 2 1 1 1 7 2 1 2 5 1 1 1 5 3 18 1 3 1 4 1 1 1 1 2 1 2 1 1 5 1 3 1 1 1 2 1 1 1 5 1 2 4 4 1 9 1 12 1 1 1 1 1 1 1 4 1 3 1 2 1 1 1 4 1 4 1 6 1 4 1 2 3 23 1 5 1 2 1 2 2 3 1 4 2 7 1 3 1 4 1 8 1 10 1 10 1 1 1 1 1 29 1 38 1 63 1 1 1 26 1 8 1 64 1 63 1 36 2 5 1 22 1 7 1 39 1 84 1 11 1 7 1 999"/><path d="M106 660h807" stroke-dasharray="2 8 1 3 1 3 1 7 1 2 1 5 1 13 2 2 2 1 2 11 1 1 1 7 2 14 1 2 2 11 1 7 1 5 1 5 1 1 2 1 1 9 1 3 1 11 1 11 1 7 1 8 1 4 1 3 1 16 1 2 2 12 1 12 1 2 1 11 1 6 1 30 1 12 1 19 1 5 1 48 1 20 2 16 1 32 1 26 1 44 2 30 3 15 1 1 1 36 1 11 1 3 1 25 1 16 1 11 1 10 2 6 1 53 1 24 1 6 1 1 2 2 1 2 1 999"/><path d="M109 662h801" stroke-dasharray="2 4 2 1 3 4 1 5 2 1 2 1 1 3 1 4 1 3 1 10 1 7 1 3 2 2 1 6 1 3 1 12 1 8 1 3 3 12 1 2 1 2 3 7 1 1 2 3 2 1 1 2 2 3 1 4 1 2 1 6 1 1 1 17 1 9 1 3 1 1 1 1 3 6 1 15 1 10 1 12 1 22 1 24 1 31 1 4 1 38 1 12 1 12 1 23 1 22 1 26 1 16 1 18 1 89 1 20 1 31 2 37 1 31 1 56 1 7 2 3 1 999"/><path d="M105 664h794" stroke-dasharray="1 6 1 1 3 5 1 5 2 9 2 5 1 1 1 9 1 8 1 2 1 1 1 10 1 1 1 6 1 2 2 1 1 4 1 3 1 1 2 6 1 4 2 6 1 2 1 6 1 5 1 13 1 1 2 1 1 3 1 1 1 3 1 1 1 3 1 4 2 1 1 1 1 11 1 3 2 16 1 5 1 7 1 4 1 2 2 5 1 1 1 3 1 12 2 5 4 1 3 1 1 3 1 4 1 6 1 1 1 5 1 1 4 4 1 3 1 8 1 1 1 17 2 10 1 2 1 2 1 2 1 5 1 2 1 10 1 2 1 6 1 3 1 6 2 7 1 8 1 2 1 3 2 1 1 6 1 11 1 6 2 13 2 2 1 6 1 4 1 2 1 22 1 1 1 9 1 2 1 3 1 7 1 2 2 5 1 2 1 4 1 5 1 17 1 1 1 4 1 5 1 7 1 3 1 5 1 5 1 4 1 1 2 1 1 6 1 3 1 2 1 8 1 5 1 8 1 6 2 7 1 2 1 6 1 1 1 8 2 4 1 17 2 14 1 1 1 5 1 2 2 3 1 2 1 3 1 6 2 5 2 999"/><path d="M107 666h767" stroke-dasharray="1 1 1 2 1 3 1 2 1 5 1 3 2 3 2 3 1 9 1 5 1 2 1 1 1 3 2 2 1 8 1 4 1 9 1 9 1 2 1 1 1 2 1 6 2 5 1 18 1 3 1 1 1 8 1 4 1 1 1 4 2 2 1 1 1 2 1 11 2 3 2 1 1 6 3 1 1 4 2 1 1 3 1 6 1 2 1 6 1 14 1 1 1 1 1 12 1 4 1 2 3 1 1 4 1 11 1 9 1 1 1 1 1 4 1 7 1 11 1 3 1 2 1 1 1 6 1 4 1 7 1 5 1 12 1 9 1 2 1 4 1 2 2 2 1 7 1 6 1 2 2 1 1 6 1 3 1 9 2 1 1 3 2 18 4 1 1 4 1 3 1 1 2 2 5 3 1 3 1 9 1 1 2 4 1 7 1 1 1 9 1 2 1 14 1 4 1 6 1 7 1 3 1 10 1 1 1 3 1 11 1 16 1 6 4 4 2 3 1 4 1 15 1 6 1 1 1 24 1 15 2 6 1 5 1 3 1 24 1 999"/><path d="M105 668h790" stroke-dasharray="2 4 1 1 1 6 1 3 3 4 1 7 1 6 1 1 2 1 1 3 1 2 1 2 1 6 1 2 2 16 1 5 1 6 1 2 4 2 1 15 1 4 1 2 1 1 1 14 1 3 2 4 2 2 1 3 1 3 1 5 1 26 1 1 1 2 1 13 2 3 1 3 1 8 1 27 1 1 1 1 2 1 1 3 1 5 1 4 2 1 2 5 3 2 2 3 2 8 1 8 2 6 1 1 1 5 1 2 1 1 1 8 1 9 2 1 1 5 1 1 1 4 1 4 1 1 1 11 1 2 2 1 1 11 1 3 1 2 1 6 1 5 1 8 1 4 1 1 1 1 2 8 3 6 1 6 2 11 1 3 1 3 1 17 1 10 1 3 1 1 1 2 1 6 1 2 1 7 1 1 1 4 2 6 2 1 1 14 1 19 1 12 1 1 1 6 1 2 2 23 1 3 1 5 1 2 1 3 2 9 1 13 1 3 1 5 1 9 2 10 1 6 1 6 1 1 1 7 1 25 1 999"/><path d="M105 670h760" stroke-dasharray="1 42 1 9 1 12 1 65 1 23 1 38 1 29 1 29 1 9 1 10 2 3 2 38 1 8 1 18 1 12 1 12 1 14 1 3 1 7 1 7 1 42 1 20 1 45 1 34 1 23 1 70 1 9 1 14 1 31 1 7 1 20 1 22 1 999"/><path d="M129 672h748" stroke-dasharray="1 36 1 65 1 8 1 31 1 2 1 3 1 7 1 8 1 18 1 9 1 28 1 4 1 17 1 13 1 11 1 70 1 16 1 38 1 15 1 11 1 12 1 1 1 15 1 4 1 41 1 22 1 16 1 15 1 8 1 9 1 16 1 66 1 79 1 999"/><path d="M141 674h703" stroke-dasharray="1 46 1 100 1 79 1 22 1 25 1 52 1 87 1 37 1 19 1 10 1 10 1 7 1 2 1 3 1 1 1 3 1 47 1 68 1 5 1 5 1 38 1 14 1 999"/></g>
<g stroke="#07fff8"><path d="M659 616h1M495 618h1m58 0h1M558 620h1M107 622h1m270 0h1m267 0h1"/><path d="M106 624h546" stroke-dasharray="1 18 1 6 1 5 1 3 1 30 1 1 1 7 2 19 1 16 1 5 2 41 1 10 1 13 1 6 1 27 1 15 1 37 1 14 1 97 1 41 1 63 1 47 1 999"/><path d="M105 626h759" stroke-dasharray="1 25 1 7 1 2 1 11 2 14 1 23 1 7 1 27 1 8 2 6 1 1 1 12 1 3 3 25 1 55 1 33 1 25 1 26 1 158 1 266 1 999"/><path d="M107 628h561" stroke-dasharray="2 3 1 2 1 1 1 6 1 4 1 4 1 1 1 1 1 2 1 8 1 17 1 3 2 4 1 5 1 1 1 7 2 24 1 9 1 2 1 1 1 3 1 7 1 3 1 7 1 6 1 3 1 10 2 4 1 19 1 5 1 5 1 57 1 5 1 47 1 166 1 68 1 999"/><path d="M118 630h427" stroke-dasharray="1 6 1 4 1 7 1 4 1 20 1 5 1 6 1 16 1 7 1 8 1 1 1 1 1 15 1 10 1 11 1 11 1 6 1 3 1 10 1 16 2 22 1 20 1 2 1 4 1 1 1 73 1 109 1 999"/><path d="M105 632h487" stroke-dasharray="1 38 1 1 1 14 1 4 1 10 1 2 2 7 1 8 1 14 1 14 1 11 1 1 1 1 1 4 1 9 1 6 1 16 1 3 1 3 1 9 1 14 1 46 1 37 1 27 1 43 1 89 1 27 1 999"/><path d="M114 634h576" stroke-dasharray="1 2 1 3 1 8 1 2 1 6 1 3 1 9 1 5 1 8 1 7 1 4 2 8 1 1 1 1 1 5 1 4 1 4 1 15 1 5 2 8 1 7 1 2 3 1 1 16 2 1 1 1 1 4 1 5 1 3 1 30 1 2 1 17 1 8 1 3 1 47 1 185 1 93 1 999"/><path d="M107 636h437" stroke-dasharray="1 2 1 7 1 4 1 2 1 3 1 7 1 4 1 1 1 1 2 4 1 7 1 2 1 1 2 1 1 2 1 2 1 15 1 3 1 3 1 4 1 4 1 14 2 10 1 9 1 1 1 8 1 3 2 5 1 2 1 4 1 8 2 12 1 12 1 8 1 6 1 14 1 4 1 5 1 11 1 43 1 6 1 85 1 13 1 5 1 19 1 999"/><path d="M108 638h571" stroke-dasharray="2 5 1 4 1 2 2 11 1 4 2 1 1 2 2 2 1 6 1 7 2 1 3 8 1 5 2 4 1 4 1 12 1 8 1 3 1 2 1 5 1 9 1 4 1 11 2 1 1 2 1 4 1 17 1 2 1 1 3 13 2 8 1 3 1 8 1 8 1 18 1 12 1 2 1 11 1 20 1 1 1 12 1 20 1 7 1 12 1 8 1 26 1 29 1 11 1 7 1 28 1 6 1 25 1 26 1 36 1 999"/><path d="M105 640h551" stroke-dasharray="1 1 2 5 1 2 3 3 1 2 1 4 1 5 5 3 1 4 1 1 1 1 1 6 4 2 3 2 1 8 1 12 2 2 1 1 3 3 2 1 1 1 2 3 1 2 3 1 1 3 1 3 1 4 1 3 1 1 1 1 2 3 1 2 2 5 1 2 2 4 1 3 1 3 1 3 1 2 1 5 2 4 1 3 1 13 1 5 1 2 1 3 1 4 1 2 1 2 1 7 1 1 1 6 1 2 1 2 1 39 1 1 1 4 1 29 1 61 1 9 1 7 1 12 1 57 2 9 1 19 1 14 1 11 1 8 1 999"/><path d="M108 642h555" stroke-dasharray="2 3 2 2 1 3 1 6 2 4 2 4 1 1 1 4 1 2 1 1 1 6 1 9 1 5 4 1 1 4 3 1 1 1 2 2 1 2 2 3 1 1 1 2 1 1 2 4 2 2 2 1 1 5 1 5 2 2 1 1 3 3 1 3 1 1 1 2 2 1 1 9 2 2 1 4 1 8 1 4 1 1 1 2 1 2 1 2 1 3 1 14 1 11 1 2 1 8 1 9 1 2 1 1 2 5 2 21 1 6 2 22 1 10 1 5 1 6 1 12 1 32 1 2 1 2 1 10 1 15 1 13 1 3 3 6 1 12 1 16 1 2 1 3 1 9 1 62 1 999"/><path d="M105 644h627" stroke-dasharray="1 1 1 3 1 8 1 1 1 2 3 3 1 1 1 2 1 2 1 1 1 1 1 6 2 1 1 7 3 3 1 1 1 6 1 4 3 10 1 1 1 5 1 8 1 2 1 1 1 1 2 3 2 2 2 1 1 6 2 2 1 1 1 1 1 3 1 1 1 5 4 5 1 2 1 6 1 4 3 1 1 1 1 3 2 2 3 4 1 2 2 6 3 3 1 8 1 18 1 11 1 16 1 6 1 8 1 8 1 21 1 29 1 9 1 5 1 78 1 39 1 8 1 12 1 23 1 55 1 11 1 6 1 21 1 999"/><path d="M111 646h779" stroke-dasharray="1 2 1 2 2 9 1 2 1 1 1 6 1 1 1 7 1 4 1 3 1 4 3 1 3 2 1 1 1 1 1 4 1 3 1 2 1 2 1 1 1 8 1 2 1 2 1 6 1 2 2 10 2 3 1 2 1 1 1 3 1 7 2 2 1 2 1 1 2 8 1 6 1 10 1 3 1 3 1 5 1 2 1 5 1 5 1 3 1 12 1 13 1 1 1 3 1 1 2 16 1 2 1 4 1 98 1 98 1 7 1 5 1 2 1 40 1 7 1 28 1 211 1 999"/><path d="M107 648h420" stroke-dasharray="1 6 1 1 1 7 1 1 1 5 1 3 1 8 1 2 1 2 2 1 1 12 1 14 2 4 1 6 2 6 1 2 1 5 1 1 2 2 1 4 1 3 1 3 1 10 1 22 1 7 1 5 2 2 1 7 1 1 1 5 1 4 1 4 1 6 1 6 1 3 1 61 1 14 1 121 1 999"/><path d="M108 650h522" stroke-dasharray="1 6 2 1 1 3 1 2 1 10 1 2 2 11 1 5 1 1 1 3 1 4 2 3 1 5 1 7 1 5 1 6 1 5 1 7 3 2 1 2 1 3 1 2 2 7 1 6 1 4 1 1 1 4 1 2 1 3 2 6 1 9 1 23 1 4 1 207 1 56 1 37 1 13 1 999"/><path d="M114 652h769" stroke-dasharray="1 6 1 32 1 2 1 3 1 8 1 10 1 15 1 1 1 13 1 2 1 2 1 3 1 3 2 14 1 5 1 23 1 7 1 4 1 2 1 16 2 143 1 76 1 131 1 221 1 999"/><path d="M109 654h601" stroke-dasharray="2 3 1 1 1 5 1 4 1 6 1 1 1 1 1 19 1 2 1 5 1 5 1 1 1 7 1 2 3 1 2 2 1 18 1 4 1 2 1 5 1 2 1 4 1 1 1 2 2 1 1 10 1 15 1 2 1 1 1 3 1 13 1 13 1 211 1 189 1 999"/><path d="M111 656h481" stroke-dasharray="1 1 1 13 1 12 1 19 1 7 1 6 1 1 1 11 1 11 1 9 1 37 2 3 1 22 1 29 1 10 4 16 1 252 1 999"/><path d="M105 658h806" stroke-dasharray="1 3 1 39 1 11 1 8 1 16 1 15 1 18 1 5 1 6 1 5 1 2 1 1 1 3 1 16 1 8 1 9 1 1 1 1 1 1 1 30 1 2 1 9 1 186 1 90 1 19 1 6 1 71 1 52 1 128 2 13 1 999"/><path d="M109 660h796" stroke-dasharray="1 3 1 12 1 4 1 1 1 20 1 14 1 1 2 21 1 29 1 3 1 5 1 6 1 9 1 14 2 3 2 5 1 22 1 14 1 31 1 76 1 475 1 2 1 999"/><path d="M107 662h792" stroke-dasharray="1 32 1 17 1 4 1 7 1 36 1 10 1 18 1 22 1 40 1 24 1 289 1 280 1 999"/><path d="M106 664h807" stroke-dasharray="1 4 1 5 1 2 2 1 1 1 2 5 1 1 1 2 2 5 1 6 2 3 2 1 1 1 1 1 1 2 1 1 2 1 1 1 2 1 1 1 3 9 2 2 1 2 1 1 1 6 1 1 1 3 1 2 2 2 1 4 2 1 1 1 1 1 1 5 3 1 1 1 3 1 2 3 1 3 1 1 2 1 1 4 3 4 1 16 1 1 2 1 2 3 1 5 1 3 1 5 1 1 1 2 4 13 1 3 2 1 2 8 1 3 1 4 1 11 1 18 2 3 1 8 2 10 2 8 1 17 1 29 1 10 2 3 2 1 1 5 1 7 1 1 1 2 1 39 2 3 1 20 1 2 1 2 1 3 1 7 1 3 1 2 1 16 2 6 1 3 3 9 1 2 1 4 1 13 2 9 1 10 1 16 1 3 1 18 1 16 1 4 1 21 1 2 1 11 1 2 1 59 2 16 1 4 1 15 2 6 1 9 1 999"/><path d="M105 666h807" stroke-dasharray="2 6 1 1 1 1 1 3 2 3 1 5 1 7 3 1 5 1 1 1 1 1 1 1 2 1 1 3 1 9 3 4 2 2 2 1 2 1 2 2 3 1 1 1 1 2 2 3 2 1 3 1 1 3 2 1 2 3 1 2 1 4 1 1 4 3 2 6 4 1 1 1 2 5 1 1 1 6 1 2 1 1 1 4 3 6 1 3 1 1 1 2 1 8 2 3 1 1 1 3 1 2 1 14 2 6 1 1 1 1 1 20 1 3 1 5 1 12 2 4 1 13 2 2 1 7 1 21 1 4 2 22 1 1 1 1 1 6 2 5 1 15 2 7 1 32 1 3 1 2 1 1 1 4 1 1 1 19 1 1 1 11 1 1 1 20 1 27 1 2 1 2 2 2 1 16 1 13 1 6 1 1 1 5 1 1 1 1 1 1 1 9 1 13 1 13 1 9 1 5 1 18 1 3 1 10 1 12 2 10 1 4 1 17 1 3 2 7 1 2 1 4 1 1 1 32 1 999"/><path d="M109 668h782" stroke-dasharray="2 3 1 1 1 1 1 2 3 3 4 1 1 2 1 4 1 1 1 1 2 6 2 5 2 2 1 1 1 3 2 3 1 1 3 2 2 1 1 3 1 8 1 3 1 7 1 4 9 1 1 9 1 3 1 7 4 3 3 2 1 2 1 2 2 1 2 2 1 7 1 2 1 1 1 1 2 6 1 3 3 4 2 1 1 4 1 1 1 1 2 1 1 3 2 13 1 2 1 3 2 3 1 6 1 2 1 2 1 13 1 5 2 10 1 15 1 31 1 3 1 11 1 4 1 2 1 6 1 4 1 5 1 8 1 4 1 19 1 10 1 27 1 3 1 2 1 2 1 9 1 1 2 1 1 7 1 5 3 3 1 15 1 3 2 25 1 6 1 1 1 5 1 17 1 7 1 9 1 2 1 9 1 2 1 4 1 3 1 2 1 5 1 13 1 17 1 2 1 4 1 14 1 2 1 12 1 7 1 14 1 8 1 7 2 3 1 12 1 6 1 9 1 2 1 2 1 1 1 999"/><path d="M110 670h765" stroke-dasharray="1 3 1 6 1 8 1 15 1 3 2 14 1 10 1 3 1 2 1 12 1 11 1 5 2 3 2 27 1 5 2 1 1 1 1 1 1 6 2 1 2 2 1 1 1 5 1 4 1 1 1 5 1 5 2 2 3 1 1 2 1 6 1 1 1 8 1 3 2 50 1 7 1 11 1 1 1 6 1 9 2 15 1 6 1 5 1 4 1 5 1 5 2 44 1 6 1 31 1 5 1 6 1 4 1 2 1 5 1 1 1 5 1 3 1 1 1 19 1 3 1 1 1 10 1 6 1 10 1 3 1 10 1 5 1 3 1 4 1 14 1 10 1 11 1 3 1 9 1 2 1 22 1 9 1 7 1 7 1 7 1 1 1 5 1 18 1 5 2 12 1 29 1 999"/><path d="M114 672h753" stroke-dasharray="1 10 1 6 1 3 2 43 1 5 1 7 1 2 1 4 1 1 2 2 1 11 1 1 1 10 2 3 1 6 1 3 1 2 1 5 1 15 1 6 2 8 1 6 1 51 1 17 1 9 1 25 1 4 1 6 1 6 1 3 1 28 1 1 1 2 1 4 1 4 1 12 1 14 1 15 1 13 1 4 1 16 1 1 1 3 1 3 1 4 1 28 1 5 1 11 1 3 1 2 1 1 1 2 1 16 1 4 1 5 1 29 2 4 1 71 2 1 1 7 1 6 1 11 1 32 1 2 1 1 1 10 1 1 2 3 1 7 1 5 1 2 2 999"/><path d="M108 674h765" stroke-dasharray="2 25 1 14 1 7 1 11 1 1 1 6 1 1 1 9 1 2 1 3 1 2 1 2 1 1 1 3 1 16 1 7 2 3 1 5 1 7 1 4 1 11 1 3 1 6 2 7 1 2 1 31 1 4 1 3 1 10 1 17 1 8 1 5 1 8 2 14 1 12 1 12 1 17 1 3 1 4 1 17 1 8 1 15 1 8 1 13 1 3 1 2 1 2 1 13 1 20 1 5 1 15 1 5 1 1 1 4 1 6 1 10 1 21 2 4 1 2 1 31 2 5 1 3 1 1 1 4 1 1 1 6 1 5 1 6 1 4 1 5 2 4 1 21 1 15 2 9 1 49 2 6 2 22 1 999"/></g>
<g stroke="#23ffdc"><path d="M616 618h1M233 624h1m27 0h1m264 0h1M256 626h1M116 628h1m27 0h1m146 0h1M108 630h1m6 0h1m160 0h1M107 634h1m38 0h1m4 0h1m32 0h1m35 0h1m81 0h1m12 0h1M114 636h1m75 0h1m29 0h1m19 0h1m13 0h1M179 648h1m22 0h1m78 0h1M298 650h1m152 0h1M132 652h1m13 0h1m1 0h2m10 0h1m33 0h1m34 0h1m16 0h1M142 654h1m5 0h1m30 0h1m1 0h1m107 0h1M150 656h1m760 0h1M155 658h1M165 660h1m69 0h1m2 0h1M117 662h1m157 0h1"/><path d="M131 638h499" stroke-dasharray="1 6 1 6 1 3 1 15 1 7 1 22 1 37 1 11 1 39 1 17 1 47 1 26 1 35 1 213 1 999"/><path d="M106 640h455" stroke-dasharray="1 78 1 6 1 3 1 20 1 12 1 7 1 4 1 17 1 13 1 2 1 69 1 86 1 124 1 999"/><path d="M112 642h523" stroke-dasharray="1 26 1 6 1 20 1 4 1 9 1 7 1 5 2 27 1 1 1 17 1 6 1 8 1 6 1 22 1 1 1 51 1 171 1 24 1 91 1 999"/><path d="M129 644h396" stroke-dasharray="1 7 1 18 1 2 1 4 1 3 1 6 1 11 1 59 1 15 1 9 1 19 1 23 1 5 1 190 1 9 1 999"/><path d="M105 646h576" stroke-dasharray="1 20 2 2 1 7 1 7 1 11 1 42 1 2 2 1 1 13 1 29 2 17 1 4 1 15 1 9 1 38 1 339 1 999"/><path d="M107 664h803" stroke-dasharray="1 1 1 17 1 2 1 11 2 1 1 4 1 14 1 9 1 8 1 4 1 14 2 7 1 4 1 1 2 6 1 3 1 1 2 6 1 6 1 7 1 6 1 5 1 8 1 14 1 2 3 2 1 9 1 13 1 5 1 2 1 15 1 6 1 4 1 44 1 78 2 56 1 68 1 4 1 198 1 22 1 27 1 30 1 3 1 4 1 999"/><path d="M110 666h800" stroke-dasharray="2 2 1 3 1 4 1 14 1 4 1 7 1 1 1 8 1 3 1 3 2 4 1 6 1 5 1 3 1 12 1 7 1 1 1 4 1 3 1 2 2 2 1 1 1 7 1 3 1 1 1 13 1 4 1 1 1 20 1 33 1 6 1 12 1 28 1 37 1 59 1 23 1 63 1 96 1 1 1 73 1 11 1 31 1 7 1 40 1 19 1 26 1 12 1 8 1 2 2 1 1 3 1 1 1 2 1 999"/><path d="M107 668h805" stroke-dasharray="1 9 1 44 1 1 1 8 1 12 1 3 2 1 2 5 1 22 1 1 1 2 3 2 1 2 1 2 2 1 2 1 1 14 1 12 1 4 1 12 2 2 1 1 1 5 1 12 1 2 1 3 1 4 1 12 1 113 1 41 1 51 1 43 1 8 1 23 1 66 1 4 1 12 1 47 1 29 1 2 1 6 1 20 1 28 1 21 1 6 1 2 1 17 1 6 1 4 1 999"/><path d="M111 670h797" stroke-dasharray="1 10 4 3 1 1 2 4 1 1 2 1 1 1 2 3 1 2 2 26 1 6 1 1 1 1 1 1 1 2 1 6 1 7 1 1 2 14 1 2 2 2 1 2 2 3 3 1 1 4 1 9 1 10 2 11 1 4 1 1 1 4 1 34 1 4 1 5 1 2 1 22 2 18 1 2 1 14 1 23 1 49 1 1 1 6 1 18 1 19 1 30 1 11 1 17 1 2 1 27 1 15 1 13 1 27 1 5 1 3 1 20 1 20 1 1 2 5 1 14 1 4 1 4 1 6 1 4 1 2 2 8 1 16 1 5 1 22 1 8 2 16 2 6 1 4 1 12 1 15 1 999"/><path d="M105 672h777" stroke-dasharray="1 12 1 1 1 1 1 4 1 2 1 3 1 4 2 2 1 6 1 2 1 3 2 5 1 7 1 1 1 2 1 1 1 4 1 1 1 2 1 2 1 4 1 9 1 5 1 23 1 2 1 13 2 4 2 12 1 9 1 1 1 16 1 2 1 4 2 9 1 8 1 5 1 3 1 6 1 24 1 2 1 75 1 31 1 24 1 17 1 49 1 1 1 12 1 17 1 2 1 25 1 4 1 1 1 12 1 18 1 12 1 19 1 1 1 1 1 21 1 7 1 1 1 7 1 11 1 9 1 10 1 10 1 15 1 15 1 6 1 1 1 20 1 19 1 999"/><path d="M105 674h777" stroke-dasharray="1 7 1 1 1 5 1 3 2 25 2 1 1 7 1 7 1 8 1 1 3 5 1 6 1 18 1 6 1 1 2 26 1 6 2 5 1 13 1 2 1 1 1 25 1 1 1 22 1 4 2 4 1 5 1 5 1 4 1 8 1 9 1 25 1 15 1 29 1 58 1 19 1 26 1 8 1 6 1 6 1 9 1 27 2 4 1 33 1 7 1 6 1 47 1 17 1 15 1 1 1 1 2 7 1 28 1 8 2 10 1 36 1 20 1 999"/></g>
<g stroke="#3fffc0"><path d="M691 618h1M116 642h1M205 650h1m31 0h1M202 662h1M118 664h1m82 0h1m103 0h1m100 0h1m118 0h1m195 0h1m108 0h1m68 0h1m6 0h2m3 0h1M127 666h1m51 0h1m21 0h1m79 0h1m27 0h1m237 0h1m100 0h1m33 0h1m3 0h1m208 0h1m5 0h1"/><path d="M115 668h788" stroke-dasharray="1 18 1 31 1 20 1 4 1 10 1 37 1 2 1 14 1 12 1 49 1 13 1 31 1 252 1 65 1 105 1 90 1 6 1 3 1 4 3 999"/><path d="M113 670h784" stroke-dasharray="1 20 1 24 1 14 2 7 1 2 1 15 1 15 1 11 1 3 1 29 1 1 1 15 1 18 1 36 1 39 1 25 2 142 1 94 1 33 1 88 1 29 1 59 1 10 1 20 2 6 1 999"/><path d="M111 672h801" stroke-dasharray="1 1 1 7 1 27 1 2 1 7 1 9 2 13 1 5 1 10 1 11 2 17 1 13 1 3 1 20 1 18 1 22 1 56 1 19 1 37 1 16 1 75 1 77 1 116 1 9 1 20 1 33 1 29 1 51 1 4 1 2 1 20 1 1 1 1 2 2 1 9 1 999"/><path d="M118 674h795" stroke-dasharray="1 18 1 2 1 8 1 4 1 14 1 29 1 3 1 5 1 5 1 34 2 3 1 16 1 17 1 15 1 18 1 1 2 12 1 7 1 1 1 28 1 27 1 14 1 38 1 4 1 109 1 21 2 47 1 66 2 28 1 2 1 20 1 30 1 7 1 16 1 38 1 9 1 1 1 2 2 25 1 5 1 999"/></g>
<g stroke="#5affa5"><path d="M223 662h1m452 0h1m35 0h1m32 0h1M119 664h1m27 0h1m263 0h1m290 0h1m58 0h1M340 666h1m162 0h1m25 0h1m85 0h1m52 0h1m25 0h1m7 0h1M120 670h1m313 0h1m295 0h1m150 0h1m3 0h1m7 0h1m14 0h1M143 674h1m75 0h1m9 0h1m46 0h1m21 0h1m86 0h1m92 0h1m103 0h1m19 0h1m292 0h4m9 0h1m1 0h1"/><path d="M175 668h738" stroke-dasharray="1 3 1 32 1 116 1 116 1 17 1 58 1 56 1 292 1 23 1 6 1 2 1 4 1 999"/><path d="M154 672h757" stroke-dasharray="1 41 1 32 1 6 1 12 1 21 1 28 1 42 1 67 1 99 1 277 1 98 1 7 1 2 1 2 1 3 2 2 1 999"/></g>
<g stroke="#76ff89"><path d="M154 664h1m7 0h1m297 0h1m400 0h1M673 666h1m96 0h1M156 668h1m26 0h1m104 0h1m76 0h1m20 0h1m14 0h1m233 0h1M176 670h1m91 0h1m630 0h1m6 0h1m4 0h1M124 672h1m669 0h1m95 0h3M659 674h1m115 0h1m114 0h1m11 0h1m1 0h1"/></g>
<g stroke="#808080"><path d="M115 658h794" stroke-dasharray="1 1 1 25 1 53 1 35 1 5 1 49 1 11 1 6 1 13 1 17 2 49 1 3 1 3 1 4 1 3 1 19 1 3 1 6 3 15 1 8 1 42 1 11 1 8 1 6 1 2 1 7 2 33 1 3 1 24 1 40 1 9 1 10 1 1 1 3 2 21 1 1 2 21 1 3 2 3 1 2 1 1 4 5 2 2 1 8 1 2 1 1 1 3 1 6 1 1 2 7 1 2 3 3 2 1 1 3 1 7 1 4 2 2 1 2 2 2 1 4 1 1 1 3 3 3 2 1 3 3 1 2 1 5 1 2 2 12 1 3 1 1 1 2 1 10 3 2 1 999"/><path d="M114 660h797" stroke-dasharray="2 30 2 19 2 28 1 24 1 35 1 1 1 4 1 10 1 12 1 18 1 13 1 14 1 52 2 3 1 1 1 6 1 21 3 1 1 1 1 20 1 3 1 8 1 22 1 36 1 3 1 13 1 3 1 12 1 5 1 13 1 2 1 2 1 22 1 1 1 13 2 2 1 6 1 22 4 18 4 11 1 5 2 7 1 15 1 4 1 3 1 2 1 3 1 3 1 1 1 1 2 4 1 1 1 3 1 1 2 4 2 5 4 5 2 1 1 1 1 1 2 3 2 18 2 2 1 1 1 1 1 7 1 5 1 1 1 1 1 1 2 1 1 5 1 5 2 3 1 1 1 4 1 6 1 6 1 3 1 14 1 1 1 999"/><path d="M106 662h805" stroke-dasharray="1 1 1 5 1 6 1 74 2 78 2 6 1 3 1 24 1 8 1 10 1 3 1 25 1 27 1 12 1 10 1 4 1 5 2 8 1 15 1 4 1 20 1 27 1 11 1 21 1 1 1 5 1 3 2 11 3 14 1 29 1 23 2 23 1 5 1 16 3 1 2 4 1 2 1 6 1 2 1 16 1 12 3 3 1 3 1 2 1 9 1 5 1 3 1 1 1 6 1 1 1 3 1 3 1 3 1 3 1 2 2 1 1 6 1 3 4 1 2 1 1 1 1 3 1 2 2 2 1 6 1 3 2 1 1 8 1 5 1 2 1 2 3 3 1 1 1 23 1 5 1 1 1 999"/></g>
<g stroke="#92ff6d"><path d="M611 666h1m287 0h1M381 668h1m494 0h1M578 670h1m215 0h1m117 0h1M133 672h1m161 0h1"/></g>
<g stroke="#aeff51"><path d="M472 666h1"/></g>
<g stroke="#000080"><path d="M648 582h1M122 598h1"/></g>
<g stroke="#000080"><path d="M651 600h1M170 606h1M823 614h1M418 618h1M675 620h1M345 622h1m168 0h1"/></g>
<g stroke="#00009b"><path d="M492 60h1M905 112h1M542 332h1M436 350h1M744 370h1M231 396h1M171 504h1M126 524h1M558 554h1m31 0h1M326 576h1M499 580h1M513 582h1M349 584h1M690 586h1M560 588h1m171 0h1m4 0h1m157 0h1M434 590h1M283 596h1M615 598h1M178 600h1m459 0h1m11 0h1m146 0h1M364 602h1M454 604h1m108 0h1m21 0h1M457 606h1m231 0h1M342 608h1m291 0h1M370 610h1m71 0h1M560 612h1m1 0h1m134 0h1M432 614h1M206 616h1m103 0h1m252 0h1m302 0h1M159 618h1m119 0h1m246 0h1m282 0h1m11 0h1m44 0h1M176 622h1m236 0h1m218 0h1m279 0h1"/></g>
<g stroke="#0000b7"><path d="M496 58h1m327 0h1M724 60h1M261 62h1M770 64h1M720 68h1m117 0h1M322 78h1m275 0h1m16 0h1M828 82h1M232 84h1M133 88h1M732 100h1M609 108h1M713 110h1M176 112h1M167 116h1m411 0h1M565 126h1M264 140h1M236 144h1m561 0h1M291 148h1M738 154h1M912 156h1M260 172h1M504 182h1M238 184h1M316 200h1M256 204h1m202 0h1M491 206h1M301 230h1M899 236h1M535 242h1M155 248h1M783 250h1m63 0h1M791 258h1M677 264h1M369 270h1m456 0h1M406 272h1M804 282h1M317 296h1m74 0h1M803 300h1m73 0h1M521 304h1m265 0h1M489 308h1M379 310h1M777 324h1M839 330h1M733 336h1M143 338h1m349 0h1M782 344h1M362 350h1M745 352h1M811 354h1M303 356h1M799 358h1M189 360h1M115 378h1m595 0h1M507 380h1M754 386h1M376 390h1M605 396h1M274 400h1m469 0h1M912 406h1M664 426h1m244 0h1M566 428h1M120 430h1M617 442h1M492 450h1m348 0h1M656 460h1M628 462h1M772 480h1M265 484h1M293 488h1m618 0h1M247 494h1m606 0h1M680 500h1M852 502h1M675 504h1M591 516h1M296 520h1M173 528h1m217 0h1M180 530h1M500 532h1M515 536h1M582 540h1M572 544h1M438 572h1M393 576h1M149 580h1m363 0h1M263 582h1m129 0h1M184 584h1m180 0h1m22 0h1m283 0h1M205 586h1m472 0h1M244 588h1m256 0h1m131 0h1M368 590h1m208 0h1m4 0h1m38 0h1M156 592h1m24 0h1m76 0h1m5 0h1m64 0h1m116 0h1m187 0h1M451 594h1m36 0h1m139 0h1M454 596h1m130 0h1M454 598h1m207 0h1m9 0h1M324 600h1m127 0h1m6 0h1m168 0h1m41 0h1m5 0h2M178 602h1m304 0h1m208 0h1m155 0h1M170 604h1m146 0h1m73 0h1m12 0h1m25 0h1m351 0h1M158 606h1m271 0h1m27 0h1m20 0h1m346 0h1M319 608h1m17 0h1m19 0h1m196 0h1m120 0h1m12 0h1M342 610h1m225 0h1m230 0h1M311 612h1m98 0h1m4 0h1m101 0h1m110 0h1m46 0h1M109 614h1m123 0h1m157 0h1m81 0h1m12 0h1m15 0h1m18 0h1m49 0h1m7 0h2m17 0h1m310 0h1M309 616h1m37 0h1m132 0h1m5 0h1m188 0h1m145 0h1M147 618h1m38 0h1m30 0h1m100 0h1m128 0h1m9 0h1m50 0h1M269 620h1m5 0h1m85 0h1m20 0h1m10 0h1m11 0h1m118 0h1m27 0h1m229 0h1M436 622h1m99 0h1m66 0h1m47 0h1m13 0h1m28 0h1m166 0h1M115 624h1m580 0h1M132 628h1M668 630h1M683 638h1m14 0h1M529 640h1M725 644h1m181 0h1M784 646h1M155 648h1m116 0h1m154 0h1m210 0h1m204 0h1M239 652h1M195 656h1m351 0h1M482 658h1m204 0h1m116 0h1m27 0h1M199 660h1m33 0h1m69 0h1m32 0h1m191 0h1m51 0h1m48 0h1m76 0h1m108 0h1M437 662h1m161 0h1m243 0h1m39 0h1M713 664h1M829 668h1"/></g>
<g stroke="#0000d3"><path d="M363 56h1M178 58h1m213 0h1m267 0h1M283 62h1m523 0h1M212 68h1M790 70h1M270 72h1m402 0h1M117 76h1M751 92h1M434 94h1M591 100h1M277 106h1m274 0h1M642 114h1M155 124h1M890 132h1M486 136h1M312 144h1M355 162h1M727 166h1M146 174h1M562 176h1M305 180h1M891 184h1M513 186h1M624 190h1m95 0h1M862 196h1M623 204h1M192 206h1m413 0h1M567 214h1M766 216h1M768 218h1M234 220h1m364 0h1M846 228h1M256 232h1m532 0h1M611 240h1M489 248h1M758 250h1M508 256h1m229 0h1M457 258h1M609 262h1M385 264h1M396 268h1M248 272h1M125 278h1M245 282h1M222 284h1M505 288h1M421 292h1M540 300h1M418 302h1M321 306h1m375 0h1M347 314h1m452 0h1M275 316h1M852 322h1M445 324h1M249 326h1M651 332h1m256 0h1M899 334h1M257 342h1m498 0h1M157 344h1m612 0h1M257 348h1M600 368h1M904 372h1M265 398h1M431 406h1M230 408h1M682 412h1M387 414h1m46 0h1M639 426h1M839 430h1m1 0h1M507 434h1M659 482h1m209 0h1M384 486h1M527 488h1M518 492h1M174 496h1M558 498h1M404 514h1m71 0h1m322 0h1M474 516h1m28 0h1M547 518h1m285 0h1M851 520h1M458 522h1m1 0h1M741 524h1M123 526h1m178 0h1m354 0h1M470 528h1M186 530h1m295 0h1m41 0h1m10 0h1M205 532h1m407 0h1m245 0h1M531 534h1M165 536h1m197 0h1m36 0h1m272 0h1M322 540h1m29 0h1m171 0h1M316 542h1M229 544h1m33 0h1m520 0h1M243 546h1m212 0h1m200 0h1M318 548h1m136 0h1m104 0h1m111 0h2M566 550h1m97 0h1m7 0h1m186 0h1M686 552h1M432 556h1M272 562h1M271 566h1M619 572h1M140 574h1m499 0h1m49 0h1m114 0h1M152 576h1m473 0h1m7 0h1m6 0h1m4 0h1M368 578h1m59 0h1m131 0h1m73 0h1m6 0h1m48 0h1m103 0h1M574 580h1m20 0h1M321 582h1m278 0h1m28 0h1m235 0h1M183 584h1m353 0h1m152 0h1M257 586h1m13 0h1m58 0h1m18 0h1m22 0h1m299 0h1m84 0h1M129 588h1m159 0h1m350 0h1M193 590h1m195 0h1m233 0h1m15 0h1m31 0h1M438 592h1m26 0h1m118 0h1m7 0h1m16 0h1m27 0h1m54 0h1m103 0h1m84 0h1M319 594h1m24 0h1m20 0h1m170 0h1m74 0h1m270 0h1M147 598h1m280 0h1m35 0h1m22 0h1m1 0h1m38 0h1m88 0h1m7 0h1m52 0h1m164 0h1M328 600h1m21 0h1m64 0h1m3 0h1m123 0h1m18 0h1m67 0h1m1 0h1m11 0h1m40 0h1M331 604h1m34 0h1m212 0h1m50 0h1m8 0h1m187 0h1m39 0h1m20 0h1m13 0h1M152 608h1m190 0h1m26 0h1m42 0h1m52 0h1m16 0h1m181 0h1m3 0h1m129 0h1m8 0h1m45 0h1M255 610h1m87 0h1m108 0h1m19 0h1m45 0h1m105 0h1m7 0h1m52 0h1m124 0h2m11 0h1m53 0h1m16 0h1M540 624h1m112 0h1m125 0h1m6 0h1m77 0h1m7 0h1M115 626h1m40 0h1m219 0h1m49 0h1m100 0h1m165 0h1m206 0h1M286 628h1m36 0h1m146 0h1m9 0h1m120 0h2m24 0h1m242 0h1M151 630h1m85 0h1m53 0h1m173 0h1m18 0h1m150 0h1m26 0h1m2 0h1m93 0h1M395 632h1m29 0h1m20 0h1m103 0h1m25 0h1m85 0h1m24 0h1m126 0h1M304 634h1m67 0h1m160 0h1m21 0h1m47 0h1m26 0h1m56 0h1m22 0h1M609 636h1m7 0h1m29 0h1m40 0h1m15 0h1m171 0h1m31 0h1M439 638h1m159 0h2m129 0h1m2 0h1m58 0h1m9 0h1m61 0h1M398 640h1m52 0h1m2 0h1m220 0h1m84 0h1m9 0h1m42 0h1m17 0h1M222 642h1m82 0h1m64 0h1m106 0h1m128 0h1m10 0h1m101 0h1m110 0h1m1 0h1m22 0h1m9 0h1M564 644h1m1 0h1m102 0h1m9 0h1m3 0h1m69 0h1m31 0h1m42 0h1m36 0h1m31 0h1M312 646h1m42 0h1m163 0h1m171 0h1m30 0h1m6 0h1m33 0h1m112 0h1m16 0h1m3 0h1M123 654h1m76 0h1m278 0h1m75 0h1m41 0h1m57 0h1m154 0h1m55 0h1m4 0h1m18 0h1M133 664h1m144 0h1m71 0h1m90 0h1m47 0h1m144 0h2m27 0h1m13 0h1m26 0h1m176 0h1M236 666h1m210 0h1m73 0h1m6 0h1m3 0h1m8 0h1m11 0h1m35 0h1m44 0h1m215 0h1M302 668h1m46 0h1m156 0h1m25 0h1m90 0h1m46 0h1m5 0h1m137 0h1M126 670h1m217 0h1M514 674h1m31 0h1"/><path d="M109 596h766" stroke-dasharray="1 12 1 30 1 167 1 117 1 47 1 35 1 48 1 5 1 8 1 9 1 19 1 50 1 95 1 16 1 92 1 999"/><path d="M149 602h740" stroke-dasharray="1 71 1 10 1 11 1 34 1 7 1 62 1 54 1 9 1 36 1 176 2 6 1 2 1 163 1 83 1 999"/><path d="M134 606h775" stroke-dasharray="1 18 1 195 1 89 1 5 1 28 1 44 2 15 1 64 1 16 1 46 1 10 2 201 1 9 1 18 1 999"/><path d="M448 612h450" stroke-dasharray="1 3 1 20 1 31 1 10 1 30 1 22 1 72 1 40 1 2 1 102 1 43 1 31 2 29 1 999"/><path d="M193 614h663" stroke-dasharray="1 61 1 37 1 1 1 75 1 50 1 1 1 11 1 27 1 82 1 1 1 12 1 112 1 179 1 999"/><path d="M168 616h737" stroke-dasharray="1 81 1 13 1 13 1 161 1 9 1 23 1 33 1 17 1 30 1 13 1 80 1 19 1 4 1 146 1 79 1 999"/><path d="M206 618h702" stroke-dasharray="1 58 1 8 1 25 1 122 1 5 1 57 1 52 1 37 1 9 1 68 1 128 1 16 1 103 1 999"/><path d="M180 620h517" stroke-dasharray="1 23 1 6 1 31 1 5 1 62 1 78 1 35 1 10 1 13 1 9 1 29 1 1 1 1 1 17 1 17 1 8 1 17 1 16 1 7 1 16 1 47 1 1 1 9 1 6 1 10 1 13 1 2 1 999"/><path d="M136 622h746" stroke-dasharray="1 4 1 5 1 3 1 84 1 34 1 14 1 54 1 40 1 26 1 2 1 2 1 7 1 14 1 13 1 44 1 62 1 13 1 2 1 15 1 27 1 67 1 191 1 999"/><path d="M190 648h722" stroke-dasharray="1 56 1 9 1 4 1 124 1 189 1 6 3 40 1 53 1 32 2 144 1 5 1 39 1 4 1 999"/><path d="M130 650h772" stroke-dasharray="1 6 1 11 2 254 1 89 1 21 1 88 1 36 1 97 1 17 2 14 1 16 1 108 1 999"/><path d="M112 652h785" stroke-dasharray="1 37 1 57 1 103 1 60 1 20 1 90 1 7 1 82 1 14 1 48 1 138 1 31 1 19 1 6 1 35 1 3 1 14 1 2 1 999"/><path d="M114 656h772" stroke-dasharray="1 119 1 8 1 83 1 26 1 131 1 144 1 10 2 42 2 11 1 18 1 87 1 63 1 14 1 999"/><path d="M180 658h732" stroke-dasharray="1 35 1 48 1 30 1 2 1 3 1 47 1 10 1 18 1 3 1 17 1 20 1 17 1 6 1 4 2 21 2 18 1 12 1 15 1 39 1 5 3 1 2 6 2 76 1 15 1 4 1 6 2 3 1 13 1 6 1 4 2 1 1 9 1 12 1 10 1 11 1 3 2 1 1 9 2 19 1 26 1 9 1 1 1 16 1 14 1 31 1 999"/><path d="M148 660h747" stroke-dasharray="1 17 1 31 1 15 1 42 1 52 1 55 1 10 1 4 1 1 2 16 1 4 1 14 1 28 1 23 2 1 1 31 1 21 1 14 1 11 2 11 2 29 2 35 1 5 1 31 1 14 1 17 1 1 1 2 2 17 1 5 1 17 1 11 1 4 1 10 1 66 2 28 1 3 1 5 1 999"/><path d="M122 662h770" stroke-dasharray="1 19 1 13 1 2 1 5 1 20 1 17 1 69 1 11 1 7 1 61 1 144 1 2 1 24 1 30 2 1 1 39 1 1 1 1 1 7 1 11 1 20 1 29 1 11 1 18 1 7 1 1 1 1 1 22 1 16 1 1 1 7 1 12 1 17 1 15 1 6 1 10 1 15 1 22 1 6 1 3 1 4 1 999"/></g>
<g stroke="#0000ef"><path d="M751 80h1M315 82h1M911 84h1M568 88h1M341 116h1M220 130h1M822 174h1M127 180h1M726 188h1M645 200h1M429 232h1M858 280h1M678 310h1m125 0h1M620 340h1M724 346h1M486 394h1M799 412h1M163 426h1M504 428h1M112 450h1M252 468h1M823 470h1M723 494h1M106 512h3M429 514h2m18 0h1M130 516h1m3 0h1m220 0h1m27 0h2m13 0h1m3 0h1m57 0h1m12 0h1m5 0h2m23 0h1M129 518h1m38 0h2m4 0h1m2 0h1m12 0h1m50 0h1m1 0h2m3 0h1m141 0h1m113 0h1m56 0h2m38 0h1M401 524h1m16 0h1m19 0h1m21 0h1m18 0h1m21 0h1m25 0h1m25 0h1m43 0h1m15 0h1m224 0h1M163 526h1m296 0h2m15 0h1m46 0h1m1 0h1m13 0h1m14 0h1m57 0h1m271 0h1M485 528h1m70 0h1m5 0h3m11 0h1m20 0h1m13 0h1m1 0h1m15 0h2m2 0h1m36 0h1M602 530h1m10 0h1m24 0h1M633 532h1M229 534h1m234 0h1m166 0h3m4 0h1m2 0h1M283 536h1m360 0h1m110 0h1m11 0h1m98 0h2M745 538h1m21 0h1m38 0h1m50 0h2m45 0h1M503 540h1m45 0h1m217 0h1m16 0h1m22 0h1m26 0h1m13 0h2m55 0h1M745 542h1m50 0h1M323 544h1m55 0h1m1 0h1m275 0h2m86 0h1m5 0h2m2 0h1m11 0h2M112 546h1m266 0h2m13 0h1m16 0h1m46 0h1m103 0h1m3 0h1m15 0h1m76 0h1m3 0h2m131 0h1m53 0h1M324 548h1m61 0h1m17 0h1m18 0h1m33 0h1m109 0h1m96 0h1m1 0h1m149 0h1m28 0h1M658 550h1m22 0h2m2 0h1m1 0h1m169 0h1M403 552h1m8 0h1m155 0h1m89 0h1m5 0h1m1 0h1m5 0h1m15 0h1M389 554h1m23 0h1m139 0h1m104 0h1m13 0h1m92 0h1M402 556h1m165 0h1m95 0h1m7 0h1m13 0h1M282 558h1m121 0h1m1 0h1m40 0h1m216 0h1m7 0h1m13 0h1m118 0h1M404 560h1m6 0h1m16 0h1m118 0h1m124 0h1m13 0h1M263 562h1m41 0h1m2 0h1m353 0h1m4 0h1m4 0h1m13 0h1m1 0h1m10 0h1M270 564h1m24 0h1m6 0h1m3 0h1m261 0h1m98 0h1m3 0h2m4 0h1m7 0h1m2 0h2m202 0h1M270 566h1m23 0h1m9 0h1m2 0h1m357 0h1m19 0h1m3 0h1M684 568h1M479 570h1m112 0h1m97 0h1M140 572h1m242 0h1m46 0h1m34 0h1m6 0h1m6 0h1m161 0h1m1 0h1m16 0h1m16 0h1m12 0h1m207 0h1M383 574h1m81 0h1m30 0h1m110 0h1m8 0h1m25 0h1m17 0h1m16 0h1m22 0h1m204 0h1M440 576h1m33 0h1m85 0h1m99 0h1m16 0h1m12 0h1m9 0h1m83 0h1m9 0h1M223 578h1m320 0h1m7 0h1m2 0h1m75 0h1m7 0h1m49 0h1m219 0h1M189 580h1m110 0h1m96 0h1m241 0h1m49 0h1m51 0h1M313 582h1m30 0h1m229 0h1m20 0h1m35 0h1m10 0h1m19 0h1m28 0h1m52 0h1m89 0h1m69 0h1M164 670h1m337 0h1m111 0h1m124 0h1m89 0h1m68 0h1M199 672h1M295 674h1m167 0h1m16 0h2"/><path d="M202 520h410" stroke-dasharray="1 2 1 25 1 130 1 21 1 55 1 19 1 12 1 30 1 21 1 16 1 47 1 19 1 999"/><path d="M106 522h516" stroke-dasharray="1 27 1 19 1 154 1 15 1 36 1 4 1 16 2 54 1 30 1 1 1 34 1 44 1 21 1 2 2 33 1 7 1 999"/><path d="M197 584h693" stroke-dasharray="1 7 2 13 1 50 1 38 1 270 1 55 1 6 1 46 1 133 1 31 1 25 1 1 1 3 1 999"/><path d="M206 586h676" stroke-dasharray="1 144 1 13 1 48 1 42 1 91 1 5 1 20 2 54 1 5 1 47 1 57 1 57 1 38 1 1 1 37 1 999"/><path d="M193 588h693" stroke-dasharray="1 278 1 69 1 39 1 1 2 1 1 48 1 21 1 11 1 3 1 17 1 108 2 2 2 19 1 13 1 32 1 11 1 999"/><path d="M409 590h504" stroke-dasharray="1 9 1 52 1 4 1 46 1 25 2 29 1 1 1 44 3 22 1 16 1 1 1 2 1 17 1 62 1 35 1 8 1 2 2 35 1 31 1 5 2 31 1 999"/><path d="M123 592h761" stroke-dasharray="1 31 1 139 1 11 1 11 1 94 1 162 1 1 1 8 2 37 1 8 1 3 1 3 1 11 1 25 1 10 1 58 2 48 1 1 2 11 1 12 1 13 1 23 1 10 1 3 1 999"/><path d="M123 594h766" stroke-dasharray="1 31 2 100 1 326 1 1 1 50 1 3 1 29 1 2 1 6 1 10 2 63 2 33 1 37 1 8 1 1 1 7 1 7 1 1 1 19 1 1 1 3 1 2 1 999"/><path d="M144 596h767" stroke-dasharray="1 57 1 40 1 89 1 87 1 106 1 57 1 28 1 16 2 11 1 6 1 10 1 10 1 3 1 5 1 118 1 21 1 17 1 16 2 5 1 11 1 30 1 999"/><path d="M105 598h777" stroke-dasharray="1 23 1 228 1 38 1 32 1 2 1 39 1 6 1 80 1 10 1 1 1 31 1 30 1 3 1 1 1 25 1 15 2 2 3 1 1 97 1 21 1 11 1 3 1 9 1 4 1 10 2 11 1 12 1 999"/><path d="M134 600h759" stroke-dasharray="1 35 1 29 1 43 1 24 1 82 1 55 1 152 1 67 1 3 1 6 1 1 1 5 1 18 1 3 1 6 1 11 1 2 1 74 1 30 1 5 1 7 1 12 1 16 1 3 1 19 1 7 1 1 1 14 1 999"/><path d="M324 602h571" stroke-dasharray="1 27 1 23 1 130 1 73 1 2 1 5 1 55 1 21 2 3 1 11 1 150 2 25 1 11 1 3 1 14 1 999"/><path d="M177 604h703" stroke-dasharray="1 76 1 65 1 43 1 57 1 9 1 2 2 37 1 4 1 79 1 7 1 1 1 16 1 14 1 13 1 4 1 7 1 2 1 2 1 1 1 5 1 10 1 1 1 6 1 18 1 1 1 13 1 72 1 47 1 5 1 11 1 19 1 22 1 999"/><path d="M130 606h762" stroke-dasharray="1 54 1 47 1 20 1 13 1 26 1 107 1 6 1 10 2 6 1 6 1 17 1 61 1 50 1 2 1 18 1 1 1 6 1 28 2 2 1 32 1 25 5 2 1 71 1 14 1 12 1 5 1 5 1 52 1 5 1 22 1 999"/><path d="M115 608h780" stroke-dasharray="2 29 1 77 1 25 1 149 1 63 1 31 1 5 1 57 1 39 1 3 2 42 1 4 1 9 1 28 1 5 1 70 1 47 2 60 1 14 1 999"/><path d="M146 610h755" stroke-dasharray="1 5 1 60 1 43 1 83 1 15 1 33 1 8 1 48 1 52 1 13 1 16 1 14 1 17 1 49 1 1 1 18 1 15 1 35 1 1 1 6 1 119 1 6 1 4 1 29 1 23 1 15 1 999"/><path d="M148 612h749" stroke-dasharray="1 26 1 37 1 1 1 30 1 6 1 29 1 1 1 57 1 18 1 36 1 36 1 49 1 24 1 3 1 5 1 76 2 10 1 22 1 4 2 2 1 4 1 40 2 3 1 105 1 25 2 18 1 33 1 16 1 999"/><path d="M177 614h669" stroke-dasharray="1 10 1 17 1 39 1 129 1 38 1 44 1 27 1 11 1 3 1 20 1 8 1 53 1 81 1 9 1 8 2 154 1 999"/><path d="M115 616h739" stroke-dasharray="1 70 1 62 1 24 1 2 1 40 1 27 1 18 1 13 1 11 1 8 1 14 1 6 2 5 1 3 1 19 1 73 1 61 1 2 1 4 1 8 1 15 1 65 1 1 1 2 1 76 1 12 1 64 1 4 1 999"/><path d="M115 618h739" stroke-dasharray="1 84 1 85 1 5 1 22 1 18 1 28 1 2 1 17 2 5 1 12 1 6 1 10 1 12 1 1 1 5 1 17 1 15 1 33 1 80 1 9 1 19 1 3 1 1 2 3 1 11 1 6 1 1 1 13 1 8 1 19 1 72 1 82 1 999"/><path d="M130 620h783" stroke-dasharray="1 43 1 1 1 58 1 24 1 25 1 3 1 27 1 22 1 17 1 7 1 57 1 19 1 10 1 49 1 32 1 60 1 8 1 6 1 6 1 30 1 27 1 14 1 69 1 47 1 26 1 69 1 999"/><path d="M154 622h607" stroke-dasharray="1 19 1 36 1 30 1 44 1 2 1 45 1 22 1 35 1 1 1 2 1 7 1 16 1 1 1 3 1 17 1 1 1 11 1 2 1 8 1 10 1 3 1 1 2 14 1 40 1 12 1 12 1 20 1 4 1 46 1 4 1 15 1 4 1 10 1 4 1 1 1 9 2 2 1 13 2 1 1 11 2 3 1 3 3 5 1 7 1 999"/><path d="M163 624h570" stroke-dasharray="1 58 1 59 1 82 1 73 1 2 1 88 1 9 1 5 1 24 1 45 1 58 1 15 2 31 1 5 1 999"/><path d="M199 626h706" stroke-dasharray="1 79 1 11 1 1 1 51 1 29 1 24 1 13 1 14 1 53 1 8 1 11 1 4 1 12 1 6 1 7 1 16 1 12 1 48 1 1 1 10 1 5 1 3 1 65 1 63 1 9 1 6 1 117 1 999"/><path d="M340 628h552" stroke-dasharray="1 35 1 19 1 17 1 1 1 11 1 1 1 35 1 5 1 11 1 8 1 12 2 1 2 34 1 8 1 84 1 28 1 82 1 58 1 22 1 57 1 999"/><path d="M132 630h679" stroke-dasharray="1 29 1 123 1 39 1 10 1 43 1 13 1 18 1 23 1 7 1 23 2 22 1 20 2 72 1 26 2 9 1 6 1 26 1 5 1 19 1 18 2 15 1 27 1 58 1 999"/><path d="M227 632h628" stroke-dasharray="1 41 1 24 2 103 1 11 1 2 1 43 1 32 1 2 1 12 1 66 1 15 1 5 1 32 2 3 1 35 1 7 1 7 1 20 1 5 1 21 1 31 1 4 1 22 1 58 1 999"/><path d="M166 634h690" stroke-dasharray="1 1 1 39 1 79 1 5 1 72 1 5 1 27 1 9 1 39 1 3 1 17 2 2 1 35 1 39 1 6 1 28 1 20 1 6 1 16 1 29 1 8 1 3 1 8 1 5 1 16 1 12 1 6 1 59 1 24 1 1 1 37 2 999"/><path d="M181 636h732" stroke-dasharray="1 205 1 13 1 9 1 27 1 11 1 44 1 35 1 8 1 10 2 76 1 3 1 30 1 4 1 27 1 3 1 6 2 18 1 17 1 28 1 22 1 91 2 19 1 999"/><path d="M127 638h782" stroke-dasharray="1 15 1 41 1 41 1 20 1 9 1 79 1 31 1 22 1 14 1 34 1 3 1 10 1 47 1 12 1 20 1 7 1 29 1 73 1 36 1 28 2 4 1 9 1 46 1 2 1 4 1 32 1 42 1 5 1 11 1 12 1 11 1 999"/><path d="M166 640h735" stroke-dasharray="1 137 2 99 1 13 1 33 1 27 1 10 1 40 1 90 1 53 1 31 1 8 1 5 1 4 1 28 1 9 1 21 1 12 1 7 1 21 1 7 1 22 1 2 1 31 1 999"/><path d="M286 642h612" stroke-dasharray="1 100 1 31 1 23 1 47 1 21 1 4 2 63 1 28 1 23 1 23 1 11 1 16 1 24 1 3 1 3 1 2 1 3 1 19 2 8 1 21 1 3 2 2 1 15 1 42 1 3 1 32 1 10 2 999"/><path d="M152 644h749" stroke-dasharray="1 52 2 15 1 32 1 30 1 21 1 56 1 42 1 4 1 7 1 9 1 11 1 43 1 2 1 19 1 2 1 29 1 2 1 16 1 13 1 5 1 18 1 14 1 45 1 8 1 9 1 14 1 2 2 22 1 51 1 4 1 7 1 60 1 10 1 7 1 7 1 12 1 9 1 999"/><path d="M149 646h758" stroke-dasharray="1 158 1 1 1 23 1 47 1 23 1 1 1 68 2 41 1 25 1 19 1 10 1 5 1 102 2 14 1 5 1 8 1 55 1 11 1 23 1 3 1 1 1 13 1 20 1 5 1 3 1 3 1 7 1 4 1 18 1 4 1 3 2 999"/><path d="M105 648h800" stroke-dasharray="1 12 1 8 1 9 1 12 1 2 1 10 1 4 1 38 1 28 1 3 1 63 1 31 1 24 1 1 1 61 1 14 1 36 1 26 1 14 1 22 1 2 1 20 1 19 2 2 1 7 1 11 1 16 1 14 1 6 1 18 1 19 1 51 1 4 1 2 1 3 1 8 1 16 1 1 1 40 1 13 1 1 1 20 1 5 1 3 1 8 1 1 1 9 1 10 1 2 1 999"/><path d="M147 650h763" stroke-dasharray="1 42 1 6 1 59 1 17 1 34 1 7 1 45 1 8 1 6 1 1 1 4 1 5 2 1 1 13 1 15 1 10 1 3 1 51 1 2 1 96 1 25 1 15 1 4 1 48 1 10 1 1 1 6 2 55 1 29 1 13 1 2 1 5 1 8 1 9 2 3 1 2 1 2 1 16 1 5 1 5 1 11 1 2 1 5 1 9 1 999"/><path d="M124 652h788" stroke-dasharray="1 6 1 5 1 25 1 14 1 46 1 62 1 16 1 4 1 9 1 22 1 30 1 7 1 47 1 19 1 12 1 15 1 24 2 10 1 29 1 7 1 3 1 43 1 10 1 14 1 1 1 23 1 26 1 46 1 32 1 4 2 2 1 4 1 6 1 3 1 1 1 3 1 22 1 3 1 23 1 2 1 2 1 5 1 11 1 1 1 1 2 19 1 8 1 1 1 2 1 4 1 999"/><path d="M121 654h786" stroke-dasharray="1 9 1 18 1 18 1 8 1 60 1 43 1 21 1 4 1 4 2 14 1 13 1 55 1 3 1 20 1 3 1 3 1 18 1 79 1 5 1 5 1 5 1 15 1 14 1 18 1 5 1 38 1 13 1 49 1 3 1 28 1 11 1 22 1 7 1 4 1 11 1 20 1 4 1 8 1 12 1 2 1 17 1 19 1 12 2 999"/><path d="M105 656h804" stroke-dasharray="2 11 1 6 1 3 1 6 1 7 1 3 1 2 1 14 1 12 2 2 1 16 1 16 1 1 1 5 1 21 1 3 2 6 1 5 1 2 1 2 1 15 1 17 1 4 1 33 2 2 1 58 1 2 1 10 1 12 1 17 1 30 1 11 1 9 1 31 1 3 1 9 1 26 1 3 1 17 1 17 1 20 1 16 1 7 1 3 1 24 1 16 1 10 2 38 1 16 1 22 1 3 1 6 1 4 1 4 1 2 1 8 1 3 1 27 1 7 1 9 1 7 1 13 1 1 1 999"/><path d="M160 664h692" stroke-dasharray="1 21 1 4 1 48 1 46 1 49 1 28 1 6 1 5 1 48 1 12 1 7 1 19 2 53 1 8 2 21 1 3 1 67 1 28 1 4 1 32 1 59 1 5 1 48 1 30 1 13 1 999"/><path d="M133 666h775" stroke-dasharray="1 35 1 16 1 39 1 56 1 49 1 11 1 2 1 13 1 42 1 10 1 19 1 4 1 2 1 14 1 15 1 30 1 36 1 52 1 21 2 15 1 11 1 11 1 1 1 104 1 85 1 1 1 22 1 3 1 25 1 999"/><path d="M141 668h737" stroke-dasharray="1 68 1 40 1 111 1 52 1 61 1 2 1 47 1 12 1 8 1 19 2 12 2 2 1 15 1 35 2 123 2 16 1 1 1 3 1 14 2 24 1 37 1 4 1 2 1 999"/></g>
<g stroke="#000cff"><path d="M105 512h1M117 514h3M600 530h2m1 0h2m9 0h2m3 0h2m9 0h1m2 0h1m3 0h1m6 0h2M627 532h1M628 534h3m8 0h2m1 0h1M745 536h1m5 0h2m3 0h1m11 0h1m99 0h1m3 0h1m17 0h3M459 542h1m4 0h1m190 0h3m90 0h1m6 0h1m11 0h1m16 0h1m1 0h1m4 0h1m5 0h1M403 550h1m2 0h2m4 0h1m146 0h1m9 0h1m95 0h1m5 0h1m7 0h2m7 0h1m55 0h1M370 552h1m2 0h1m1 0h2m2 0h1m8 0h1m32 0h1m129 0h1m33 0h1m79 0h1m5 0h1m8 0h1M262 564h2m26 0h1m2 0h1m175 0h1m10 0h1m181 0h1m2 0h1m7 0h1m6 0h1m5 0h2m8 0h1M470 568h1m9 0h1m196 0h1m9 0h4m9 0h1m18 0h1M471 570h2m32 0h1m154 0h1m1 0h1m14 0h1m6 0h2m2 0h2m1 0h1m3 0h2m2 0h1m19 0h1M344 572h1m128 0h1m22 0h1m119 0h1m83 0h1m17 0h1m18 0h1m159 0h1m2 0h1M344 574h1m93 0h1m41 0h1m204 0h1m1 0h1m7 0h1m42 0h1m165 0h1M353 576h1m130 0h1m59 0h1m10 0h1m21 0h1m83 0h1m16 0h2m5 0h2m8 0h1m3 0h1m101 0h1m105 0h1M114 578h1m171 0h1m106 0h1m80 0h1m168 0h1m47 0h1m92 0h1m16 0h1m17 0h1M263 580h1m145 0h1m49 0h1m57 0h1m72 0h1m43 0h1m56 0h1m48 0h1m8 0h1m122 0h1M374 626h1m4 0h1m50 0h1m62 0h1m2 0h1m43 0h1m33 0h1m26 0h1m2 0h2m73 0h1m12 0h1m33 0h2M538 670h1m10 0h1m172 0h1m172 0h1M178 672h1m165 0h1m43 0h1m113 0h1m133 0h1m8 0h1"/><path d="M119 516h420" stroke-dasharray="2 4 1 7 1 1 2 2 2 4 1 194 2 9 3 2 1 28 1 2 1 3 1 4 1 3 1 6 2 11 2 5 2 9 2 8 1 4 3 2 1 3 1 3 1 3 2 2 2 4 1 7 3 6 1 3 1 15 4 15 2 999"/><path d="M125 518h479" stroke-dasharray="1 2 1 1 1 3 1 9 1 8 3 2 2 3 2 2 1 2 1 2 1 2 1 1 1 4 2 4 1 1 2 1 1 2 1 1 1 1 2 3 1 33 1 1 1 3 2 3 4 87 1 2 1 1 1 8 2 2 2 12 2 2 1 3 2 7 1 18 1 4 1 1 1 7 3 11 1 19 1 12 3 4 1 23 1 1 1 11 1 3 2 16 1 4 3 13 1 2 1 1 1 34 1 2 1 999"/><path d="M117 520h493" stroke-dasharray="2 11 1 4 2 2 1 43 1 15 1 1 1 7 1 3 1 5 1 1 4 5 1 1 2 1 3 16 1 5 2 13 1 33 1 7 1 2 1 4 2 3 1 1 1 6 1 2 1 2 1 1 1 2 1 10 1 4 3 3 1 9 1 2 1 1 1 29 1 6 1 29 1 16 2 3 1 24 3 5 2 6 2 1 3 16 4 1 1 2 3 1 3 1 1 4 2 5 2 20 1 2 1 1 2 1 1 5 1 5 1 999"/><path d="M105 522h518" stroke-dasharray="1 5 2 20 1 11 2 3 1 2 1 1 6 3 1 9 1 4 1 13 1 37 3 1 3 5 2 3 2 1 3 3 1 2 2 6 1 8 1 10 1 31 1 5 1 3 1 1 1 3 1 10 1 4 1 4 1 8 1 7 1 7 1 9 1 1 1 19 1 3 1 57 1 28 1 4 1 15 1 2 1 25 2 1 4 12 1 1 2 2 3 12 1 1 1 6 1 1 1 1 1 2 1 2 3 2 2 1 1 999"/><path d="M257 524h449" stroke-dasharray="1 72 1 1 1 19 2 7 2 13 1 25 1 2 1 3 1 15 2 10 1 2 2 38 1 2 2 4 1 5 1 6 1 14 1 6 1 1 1 28 1 39 1 23 2 11 1 72 1 999"/><path d="M256 526h378" stroke-dasharray="1 199 1 60 1 20 1 2 1 1 3 5 1 1 1 7 1 6 1 11 1 14 1 1 1 13 1 19 1 1 1 999"/><path d="M557 528h274" stroke-dasharray="1 3 1 15 1 1 1 6 2 3 3 1 1 29 2 1 1 2 1 6 2 3 2 185 1 999"/><path d="M650 538h257" stroke-dasharray="2 95 1 20 1 13 1 1 1 55 4 10 3 2 2 11 1 11 1 7 1 1 1 1 3 1 1 5 1 999"/><path d="M191 540h716" stroke-dasharray="1 381 1 78 1 92 1 1 1 34 1 3 1 15 1 3 1 1 1 10 3 3 2 1 1 6 2 2 1 6 2 56 1 1 1 999"/><path d="M324 544h473" stroke-dasharray="1 1 3 61 1 2 1 10 1 6 2 1 1 7 1 34 1 1 1 4 1 194 1 88 1 4 2 1 1 37 1 1 1 999"/><path d="M321 546h533" stroke-dasharray="4 2 1 53 1 4 1 2 1 15 2 11 1 6 1 26 1 6 1 11 1 190 1 2 1 79 1 48 1 11 1 26 5 1 3 11 1 999"/><path d="M322 548h552" stroke-dasharray="2 3 1 57 1 9 2 15 1 4 1 3 2 35 1 3 1 1 1 6 1 87 1 98 2 5 1 5 1 2 2 69 1 39 1 29 1 9 1 18 1 3 2 5 1 4 1 12 1 999"/><path d="M293 554h591" stroke-dasharray="1 78 2 24 1 3 1 19 1 5 1 138 1 2 1 94 2 4 1 8 1 6 2 192 3 999"/><path d="M293 556h396" stroke-dasharray="2 95 1 5 1 7 1 8 1 8 1 1 1 1 1 1 1 136 2 6 1 92 1 13 1 6 2 999"/><path d="M280 558h609" stroke-dasharray="2 9 1 3 1 78 1 16 1 11 1 1 1 13 2 4 1 2 1 124 1 112 1 4 1 8 1 6 3 52 1 145 1 999"/><path d="M281 560h461" stroke-dasharray="1 11 1 2 1 79 1 9 1 6 1 4 1 2 1 8 1 1 1 7 1 49 1 77 1 3 1 112 2 21 2 51 1 999"/><path d="M264 562h629" stroke-dasharray="1 9 2 6 1 1 1 8 1 2 1 5 1 167 1 78 1 1 1 23 1 108 1 2 1 1 1 50 1 151 1 999"/><path d="M260 566h635" stroke-dasharray="1 29 1 1 2 7 1 360 1 4 1 3 1 1 1 6 1 6 2 1 1 5 1 3 1 193 1 999"/><path d="M241 582h640" stroke-dasharray="1 172 1 44 1 96 1 36 1 42 1 1 1 16 1 29 2 43 1 10 2 38 1 37 2 6 3 5 1 35 1 1 1 6 1 999"/><path d="M136 584h757" stroke-dasharray="1 58 1 126 1 72 1 92 1 66 1 22 1 32 1 17 2 5 1 1 1 7 1 37 2 56 2 72 3 1 1 1 1 1 1 4 2 3 1 3 1 16 2 2 4 4 1 1 2 4 1 4 1 3 1 7 1 999"/><path d="M136 586h751" stroke-dasharray="1 11 1 46 1 1 1 48 1 75 1 64 2 148 1 41 1 4 1 49 1 8 1 24 1 22 2 50 1 4 1 3 1 46 3 1 1 9 2 6 1 2 3 3 1 7 1 1 1 1 1 1 1 12 1 1 2 5 2 1 1 1 1 2 1 5 1 2 2 1 1 999"/><path d="M305 588h608" stroke-dasharray="2 171 1 45 1 29 1 28 1 48 1 1 1 2 2 12 1 1 1 21 1 71 1 51 1 4 1 2 2 8 1 5 2 9 1 1 1 2 1 1 3 4 1 6 1 7 1 5 2 3 1 4 1 1 1 1 2 1 1 2 1 22 1 999"/><path d="M129 590h760" stroke-dasharray="1 105 1 8 1 210 1 22 1 63 1 42 2 4 1 1 1 7 1 25 1 8 2 152 1 9 1 2 1 10 1 6 1 1 1 6 1 8 1 2 3 5 1 4 1 1 1 3 1 6 2 4 1 7 2 1 2 1 1 999"/><path d="M257 592h631" stroke-dasharray="1 103 1 11 1 5 1 13 1 1 1 39 2 16 1 64 1 48 1 1 1 15 1 19 1 24 1 8 1 1 1 4 1 7 1 16 1 12 1 6 1 2 1 59 1 22 1 12 1 1 1 6 3 19 1 1 1 1 1 8 1 4 1 1 2 6 1 1 1 4 1 1 1 1 3 4 1 1 1 4 1 10 1 1 1 999"/><path d="M181 594h710" stroke-dasharray="1 71 1 4 1 134 1 29 1 12 1 9 1 6 1 11 1 104 1 2 1 2 1 12 1 35 1 22 1 3 1 1 1 7 1 6 1 2 1 2 1 78 1 7 1 1 1 5 1 19 1 3 2 3 6 12 1 3 1 3 3 14 3 6 1 4 1 3 4 3 2 6 1 8 1 1 2 2 1 999"/><path d="M141 596h740" stroke-dasharray="1 56 1 196 1 28 1 5 1 20 1 10 1 8 1 17 1 40 1 15 1 12 1 1 1 12 1 4 1 2 2 4 1 3 1 6 1 6 1 3 1 26 1 24 1 2 1 19 2 1 1 5 1 66 1 10 1 17 2 12 1 4 1 7 1 8 2 1 1 4 1 1 1 5 1 1 2 2 1 7 3 3 1 2 2 1 1 4 1 6 1 999"/><path d="M144 598h733" stroke-dasharray="1 7 1 122 1 2 1 160 1 31 1 51 1 11 1 10 1 4 1 47 1 34 3 3 1 4 1 4 1 17 1 10 1 2 1 1 1 9 1 72 1 4 1 6 1 1 1 24 1 2 1 7 1 12 1 9 1 1 1 20 1 2 1 2 1 5 2 999"/><path d="M126 600h733" stroke-dasharray="1 20 1 18 1 30 1 45 1 120 1 11 1 50 1 22 1 44 1 72 1 14 2 2 1 43 1 11 1 25 1 9 1 3 1 4 1 2 1 3 1 71 1 30 1 11 3 10 1 24 1 1 3 1 1 3 1 999"/><path d="M126 602h767" stroke-dasharray="1 43 1 29 1 62 1 19 1 44 1 33 1 45 1 51 1 90 1 9 3 19 1 9 1 22 1 3 1 6 1 7 1 2 1 2 1 28 1 3 1 1 1 5 1 3 2 1 1 3 4 31 1 40 1 61 1 20 1 39 1 999"/><path d="M200 604h690" stroke-dasharray="1 17 1 49 1 34 1 37 1 7 1 20 1 25 1 16 1 31 1 11 1 50 1 41 1 14 1 10 1 21 1 12 1 6 1 13 1 28 1 7 1 2 1 12 1 1 1 1 1 1 1 92 1 12 1 17 1 17 1 11 1 2 1 13 1 26 1 999"/><path d="M159 606h742" stroke-dasharray="1 58 1 84 1 13 1 2 1 20 1 12 1 9 1 1 1 16 1 7 1 4 1 14 1 1 1 18 1 2 1 1 1 21 1 4 1 50 1 47 1 14 1 6 1 6 1 22 1 4 1 15 1 31 1 4 1 22 1 1 1 71 1 9 1 21 1 16 2 12 1 23 1 15 1 26 1 999"/><path d="M161 608h703" stroke-dasharray="1 51 1 40 1 2 1 83 1 2 1 46 1 37 1 2 1 19 1 44 1 3 1 2 1 13 1 15 1 48 1 8 1 39 1 2 2 1 4 2 1 25 1 15 1 2 1 4 2 1 1 7 1 98 1 20 1 7 1 6 1 22 1 999"/><path d="M161 610h712" stroke-dasharray="1 92 1 9 1 35 1 18 1 24 1 6 1 27 1 33 1 5 1 5 1 1 1 4 1 31 2 31 1 51 1 4 1 45 1 10 1 11 1 15 1 36 1 7 1 1 1 3 1 77 1 34 1 13 1 37 1 3 1 4 1 7 1 999"/><path d="M108 612h751" stroke-dasharray="2 14 1 43 1 8 1 49 1 67 1 22 1 6 1 23 1 3 1 17 1 5 1 1 1 33 1 18 1 21 1 10 1 19 1 14 1 3 1 2 1 6 1 10 1 25 1 9 1 9 1 7 1 26 1 2 1 7 1 39 1 10 3 14 2 7 1 73 1 28 1 4 1 44 1 6 1 2 2 999"/><path d="M148 614h750" stroke-dasharray="1 65 1 11 1 12 1 7 1 5 1 31 1 36 1 39 1 3 1 3 1 39 1 2 1 51 1 15 1 3 1 19 1 5 1 2 2 19 1 23 3 13 1 57 1 6 1 6 1 4 1 4 1 21 1 7 2 4 2 72 1 99 1 29 1 999"/><path d="M127 616h784" stroke-dasharray="1 1 1 17 1 100 1 7 1 15 1 39 1 3 1 2 1 14 1 19 1 38 1 5 1 9 1 1 1 69 1 102 1 15 1 1 1 4 1 4 1 12 1 4 1 26 1 10 1 18 1 7 2 3 1 127 1 5 1 72 1 2 1 999"/><path d="M128 618h685" stroke-dasharray="2 36 1 9 1 53 1 21 1 11 1 12 2 33 1 9 1 30 1 11 1 16 2 5 1 9 2 8 1 3 1 1 1 4 1 12 1 6 1 7 1 3 1 27 1 13 1 28 1 38 1 5 1 6 1 13 1 30 1 13 1 26 1 25 1 1 2 2 1 70 1 22 1 24 1 999"/><path d="M114 620h768" stroke-dasharray="1 18 1 20 1 81 1 45 1 23 1 3 1 14 1 23 1 34 1 5 1 5 1 1 1 5 1 7 1 3 1 12 1 2 1 3 1 14 1 12 1 25 1 2 1 14 1 2 1 23 2 12 1 10 1 1 1 20 1 9 1 48 1 14 1 6 1 22 1 1 2 1 1 1 1 68 1 35 1 12 1 26 1 10 1 30 1 999"/><path d="M114 622h764" stroke-dasharray="1 14 1 116 1 2 1 22 1 16 1 16 1 5 1 19 1 15 2 6 1 12 1 21 1 24 1 2 1 8 1 21 1 22 1 21 1 28 1 4 1 2 1 2 1 23 1 11 1 6 1 4 2 9 1 5 1 1 1 1 1 4 1 7 1 11 1 4 1 2 1 4 1 6 1 18 1 11 1 7 1 4 1 10 2 4 6 8 4 1 1 1 1 1 1 3 1 1 1 1 3 4 1 1 1 2 3 2 2 1 2 19 1 16 1 58 1 4 1 13 1 999"/><path d="M135 624h766" stroke-dasharray="1 143 1 11 1 14 1 4 1 54 1 13 1 73 1 15 1 22 1 13 1 9 1 41 1 7 1 1 1 17 1 10 1 15 2 111 1 59 1 95 1 16 1 999"/><path d="M162 628h735" stroke-dasharray="1 74 1 23 1 64 2 54 1 69 1 12 1 28 1 1 1 4 1 37 1 50 1 26 1 8 1 8 1 4 1 43 1 12 1 7 1 50 1 29 1 109 1 999"/><path d="M244 630h665" stroke-dasharray="1 16 1 33 1 80 1 49 1 25 1 23 1 30 1 5 2 38 1 15 1 2 1 56 1 42 1 3 1 2 1 9 1 34 1 4 1 26 1 88 1 62 1 999"/><path d="M186 632h673" stroke-dasharray="1 50 1 23 1 108 1 65 2 17 1 28 1 28 1 14 1 12 1 40 1 4 1 21 1 34 1 14 1 4 1 53 1 4 2 1 1 4 1 27 1 65 1 32 1 999"/><path d="M366 634h528" stroke-dasharray="1 25 1 71 1 107 1 1 1 2 1 12 1 5 1 3 1 62 1 1 1 35 1 18 1 50 1 38 1 65 1 16 1 999"/><path d="M206 636h669" stroke-dasharray="1 87 1 28 3 83 1 20 1 46 1 15 1 8 1 107 1 52 1 22 1 13 2 16 1 5 1 43 1 12 1 11 1 12 1 3 1 43 1 12 1 6 1 999"/><path d="M194 638h707" stroke-dasharray="1 9 1 1 3 103 1 2 1 114 1 6 1 6 1 6 1 29 1 10 1 52 1 66 1 31 1 9 1 7 2 5 1 15 2 16 1 6 1 50 1 6 1 27 1 11 1 1 1 1 1 18 1 10 1 19 1 14 1 12 2 8 1 999"/><path d="M388 640h521" stroke-dasharray="1 10 1 25 1 17 1 62 1 14 1 24 1 3 1 61 1 39 1 8 1 27 1 11 1 1 1 14 1 4 1 5 1 31 1 6 1 4 1 2 1 42 1 32 1 18 1 11 1 3 1 3 1 16 1 999"/><path d="M405 642h508" stroke-dasharray="1 3 1 76 1 34 1 19 1 4 1 23 1 1 1 23 1 44 1 36 1 5 1 16 1 8 1 13 1 5 1 1 1 27 1 45 1 26 1 26 2 7 1 1 1 3 1 12 1 23 1 999"/><path d="M174 644h738" stroke-dasharray="1 135 1 76 1 6 1 14 1 12 1 61 1 15 1 22 1 48 1 16 1 68 1 5 1 13 1 12 1 2 1 3 1 11 1 11 1 6 1 29 1 3 1 11 1 30 1 41 1 11 1 10 1 3 1 12 1 7 1 14 1 999"/><path d="M255 646h655" stroke-dasharray="1 153 1 5 1 6 1 20 1 106 1 14 1 23 1 56 1 47 1 2 1 100 1 6 1 6 1 7 1 1 1 42 1 3 1 39 1 999"/><path d="M117 648h784" stroke-dasharray="1 47 1 27 1 3 2 5 1 33 1 9 1 3 1 22 1 6 1 86 1 20 1 3 1 47 1 16 1 24 1 75 1 19 1 11 1 4 1 39 1 37 1 4 1 1 1 7 1 5 1 4 1 31 1 51 1 9 1 17 1 1 1 48 1 6 1 24 1 2 2 999"/><path d="M131 650h774" stroke-dasharray="1 21 1 1 1 7 1 54 1 10 1 11 1 1 1 28 1 47 1 3 1 6 1 18 1 49 1 104 1 60 1 60 1 5 1 4 1 51 2 3 2 18 1 1 1 35 1 25 1 1 1 19 1 7 1 5 1 10 2 27 1 4 1 9 1 14 1 10 1 7 1 999"/><path d="M111 652h799" stroke-dasharray="1 1 1 9 1 31 1 13 1 87 1 25 1 37 1 8 1 29 1 14 1 66 1 11 1 25 1 10 1 9 1 81 1 78 1 17 1 18 1 81 1 31 1 12 1 39 1 14 1 20 1 2 1 3 1 999"/><path d="M112 654h797" stroke-dasharray="1 89 1 23 1 11 1 18 1 3 1 9 1 37 1 2 1 10 1 42 1 52 1 64 1 24 1 37 1 22 2 58 1 7 2 19 1 26 1 12 1 15 1 45 1 2 1 16 1 6 1 28 1 13 1 13 1 42 1 7 1 7 1 3 1 999"/><path d="M108 656h783" stroke-dasharray="1 7 1 20 1 9 1 9 1 14 1 17 1 13 1 13 1 7 1 42 2 1 1 8 1 30 1 3 1 8 1 6 1 16 1 3 1 12 1 4 1 63 1 18 1 19 1 34 1 20 1 9 1 14 1 15 1 20 1 4 1 1 1 19 1 12 1 13 1 8 1 76 2 10 1 13 1 10 1 32 1 7 1 2 1 25 1 2 2 20 1 2 1 4 1 6 1 10 1 999"/><path d="M106 658h807" stroke-dasharray="1 5 1 3 1 30 1 5 1 12 2 13 1 1 1 14 1 5 1 10 1 10 1 10 1 5 1 4 1 3 1 2 1 3 1 12 1 55 1 16 1 7 2 2 1 8 1 3 1 2 1 10 1 3 1 13 1 2 1 1 1 1 2 6 2 1 1 10 1 1 1 14 1 11 2 2 1 6 1 2 1 4 1 3 1 3 1 5 1 11 1 1 1 3 3 8 1 13 1 2 1 5 2 10 1 6 1 6 1 29 1 1 1 20 1 5 1 4 1 14 1 33 1 1 1 1 2 2 1 6 3 6 1 5 1 23 1 2 1 4 1 6 1 24 1 10 1 2 1 13 1 6 1 3 1 8 1 6 2 4 1 1 1 4 1 8 2 6 1 7 1 1 2 2 1 2 2 4 1 1 1 18 1 4 1 999"/><path d="M123 660h789" stroke-dasharray="1 13 1 7 1 33 1 1 1 1 1 28 1 2 1 4 1 2 1 25 1 5 1 8 1 5 1 23 1 33 1 9 1 2 1 1 2 2 1 3 1 5 1 6 1 4 1 11 1 5 1 13 1 1 1 4 1 3 1 3 1 1 1 22 2 3 3 3 1 8 1 2 1 9 1 2 1 15 1 4 1 1 1 6 1 4 1 6 2 1 1 2 1 8 1 1 1 1 1 2 1 7 1 2 1 1 2 9 1 3 1 6 2 4 1 5 1 2 2 5 1 7 2 7 1 2 1 1 1 15 1 6 1 3 1 2 1 2 1 2 1 8 1 3 1 4 1 11 1 4 1 6 1 3 1 7 1 4 1 4 1 11 1 1 1 11 2 3 1 10 2 1 1 36 1 11 1 1 1 1 1 21 1 4 1 4 1 1 1 5 2 1 1 10 1 1 1 2 1 7 3 4 1 4 1 13 1 999"/><path d="M128 662h785" stroke-dasharray="1 16 1 1 2 2 2 30 1 1 1 13 2 6 1 4 1 5 1 2 2 20 1 6 1 5 1 8 1 17 1 3 1 21 1 14 1 1 1 7 2 2 1 6 1 4 2 2 2 1 1 3 1 2 1 1 1 10 1 3 2 1 1 2 1 1 2 1 1 2 1 3 1 1 1 1 1 5 2 6 1 4 1 8 1 2 2 6 1 11 1 5 3 8 2 3 2 5 2 3 1 1 1 3 1 12 1 2 2 2 1 9 1 2 2 3 1 5 1 6 1 10 1 2 1 10 1 1 2 10 1 9 1 6 1 9 1 1 1 12 1 1 2 1 1 3 1 7 1 3 1 9 1 1 1 3 1 7 1 1 1 8 1 4 1 5 1 2 1 9 1 1 1 2 1 1 2 1 1 3 1 2 1 1 1 4 1 4 1 10 1 4 2 1 5 17 1 9 1 4 1 3 1 9 1 2 1 3 2 9 1 10 1 3 1 12 1 5 1 3 1 1 1 2 1 2 1 4 1 2 1 1 1 1 1 5 1 4 1 6 1 1 1 1 1 3 1 4 1 999"/><path d="M186 664h718" stroke-dasharray="1 67 1 98 1 3 1 3 1 5 1 76 1 18 1 42 1 34 1 6 1 2 1 42 1 23 1 35 1 21 1 57 1 101 1 15 1 13 1 21 1 14 1 999"/><path d="M167 666h612" stroke-dasharray="1 93 1 101 1 11 1 1 1 121 1 51 2 32 1 67 1 16 1 5 1 3 1 10 1 35 1 50 1 999"/><path d="M108 668h791" stroke-dasharray="1 24 1 92 1 50 1 43 1 10 3 164 1 41 1 1 1 52 1 94 1 18 1 52 1 31 1 60 1 39 1 1 1 999"/></g>
<g stroke="#0027ff"><path d="M109 512h1m1 0h2M106 514h3m4 0h2m1 0h1m289 0h2m23 0h2m15 0h1M559 528h1m15 0h1m2 0h1m1 0h1m7 0h3m3 0h1m3 0h1m2 0h3m6 0h1m3 0h3m10 0h1m14 0h1M605 530h1m3 0h1m1 0h1m4 0h1m1 0h1m2 0h2m6 0h1m1 0h1m3 0h1M625 532h2m1 0h1m3 0h1m2 0h1m1 0h1m40 0h1M635 534h3m5 0h2m28 0h1m37 0h2M645 536h1m10 0h1m90 0h2m1 0h1m2 0h2m3 0h1m110 0h3m14 0h1m1 0h1m21 0h3M405 550h1m15 0h1m126 0h1m1 0h1m41 0h1m66 0h2m9 0h1m12 0h2m6 0h1m39 0h1m144 0h2M260 568h1m399 0h3m8 0h3m4 0h1m1 0h1m10 0h1m4 0h3m17 0h1m3 0h1m8 0h1m8 0h1m156 0h1M478 570h1m192 0h1m1 0h1m4 0h1m1 0h1m6 0h1m23 0h1m4 0h1m3 0h2m15 0h1m158 0h1m1 0h1M286 576h1m81 0h1m119 0h1m63 0h1m109 0h1m17 0h1m10 0h1m19 0h1m4 0h3m20 0h1m168 0h2m1 0h1M313 580h1m7 0h1m234 0h1m91 0h1m7 0h1m27 0h1m2 0h1m4 0h1m23 0h3m157 0h1m9 0h1M394 624h1m23 0h1m60 0h1m42 0h1m4 0h1m25 0h1m50 0h1m37 0h1m31 0h1M373 626h1m39 0h1m77 0h1m34 0h1m48 0h1m77 0h1m97 0h1M342 628h1m75 0h1m7 0h1m36 0h1m28 0h1m7 0h1m52 0h1m50 0h1m58 0h1m15 0h1M323 630h1m4 0h1m58 0h1m157 0h1m34 0h1m9 0h1m18 0h1m145 0h1M340 632h1m97 0h1m150 0h1m220 0h1M317 634h1m53 0h1m54 0h1m92 0h1m34 0h1m63 0h1m51 0h1m45 0h1M238 636h1m201 0h1m33 0h1m33 0h1m45 0h1m81 0h1m79 0h1m72 0h1M347 638h1m57 0h1m21 0h1m43 0h1m84 0h1m32 0h1m7 0h1m15 0h1m24 0h1m70 0h1m34 0h1m166 0h1M426 642h1m73 0h1m65 0h1m70 0h2m137 0h1m7 0h1m62 0h1M229 644h1m115 0h1m83 0h1m81 0h2m52 0h1m35 0h1m130 0h1m63 0h1m70 0h1m4 0h1M348 646h1m145 0h1m48 0h1m1 0h1m76 0h1m35 0h1M414 652h1m19 0h1m49 0h1m79 0h1m13 0h1m41 0h1m5 0h1m74 0h1m20 0h1m39 0h1m105 0h1m35 0h1M390 664h1m41 0h1m60 0h1m176 0h1m4 0h1m183 0h1M251 666h1m201 0h1m27 0h1m138 0h1m245 0h1m7 0h1m13 0h1M283 668h1m66 0h1m147 0h1m5 0h1m23 0h1m24 0h1m47 0h1m53 0h1M904 670h1M110 674h1m665 0h1"/><path d="M105 516h432" stroke-dasharray="1 12 1 2 4 6 2 4 2 7 4 36 1 152 1 14 1 31 2 5 2 1 1 2 2 5 2 10 1 4 1 10 1 7 7 1 3 4 1 3 2 1 1 1 1 1 1 1 1 6 1 4 1 5 1 3 1 2 1 1 1 3 1 32 3 999"/><path d="M117 518h486" stroke-dasharray="2 7 2 7 1 3 1 1 3 1 1 10 2 2 3 2 2 4 2 2 1 3 1 1 2 2 1 7 1 4 1 1 1 2 3 1 5 27 1 9 2 24 1 62 2 1 1 7 1 8 2 16 2 3 1 2 1 4 1 2 1 4 2 2 2 2 1 3 1 1 4 9 1 3 1 1 1 3 1 1 3 14 1 6 1 3 3 8 2 3 1 2 2 2 1 8 2 20 2 3 1 9 2 2 2 25 1 20 1 1 2 13 1 999"/><path d="M122 520h489" stroke-dasharray="2 1 1 8 1 3 1 1 3 1 1 23 1 8 2 5 1 12 2 1 1 2 2 1 1 1 1 3 1 1 5 1 1 4 5 11 4 2 2 3 2 1 1 1 1 7 1 2 1 8 1 4 1 1 1 3 1 2 1 44 1 4 1 9 2 6 1 10 1 3 1 16 1 1 2 1 2 4 2 1 1 4 1 4 1 2 1 6 2 3 1 3 1 1 1 1 1 13 1 2 1 1 1 3 1 7 1 14 1 13 3 4 1 2 1 6 2 2 1 3 2 4 1 3 6 6 2 3 1 11 1 2 2 2 5 14 1 1 1 2 1 4 1 1 2 8 1 999"/><path d="M107 522h520" stroke-dasharray="4 2 1 18 1 16 1 1 2 8 1 1 1 13 2 1 1 7 5 1 1 44 1 7 1 2 1 3 2 19 1 6 1 8 1 2 1 22 1 5 1 9 1 5 1 1 2 2 1 10 1 1 1 2 1 6 1 1 1 1 1 2 1 11 1 1 2 2 1 3 2 2 3 1 2 2 3 1 1 1 1 5 1 1 1 1 2 3 1 1 1 3 1 1 1 13 1 1 2 5 1 7 1 2 1 11 1 13 1 2 2 12 1 1 1 6 1 15 2 5 1 4 1 4 1 4 1 4 2 4 1 9 1 7 2 8 3 1 1 1 1 9 1 6 1 1 1 999"/><path d="M268 524h359" stroke-dasharray="1 13 2 52 1 17 1 20 1 24 1 2 1 2 1 8 1 3 5 3 1 5 2 1 1 5 2 4 1 1 3 2 2 4 1 2 1 11 3 2 2 5 1 1 1 5 2 7 1 2 3 4 1 22 2 7 2 3 1 3 1 4 3 15 1 12 1 1 1 3 1 3 1 8 1 2 1 1 1 4 1 4 1 999"/><path d="M457 526h184" stroke-dasharray="1 33 2 17 1 4 1 13 1 9 1 2 1 3 5 5 1 3 1 3 1 2 1 1 1 3 2 4 1 1 1 5 1 4 1 1 1 7 1 11 1 11 1 5 1 7 1 999"/><path d="M462 538h448" stroke-dasharray="1 184 3 7 2 14 1 95 2 2 2 57 1 11 1 7 2 7 2 1 3 4 1 1 1 3 4 1 2 1 1 7 1 1 1 3 1 1 2 4 3 999"/><path d="M460 540h444" stroke-dasharray="1 2 1 193 2 2 1 3 1 5 1 1 1 70 1 3 1 6 1 21 1 3 1 6 1 2 3 6 2 1 1 1 1 3 1 5 2 1 1 3 3 2 1 1 1 3 1 3 2 1 2 2 2 4 1 6 3 23 1 18 2 999"/><path d="M460 542h399" stroke-dasharray="1 197 1 3 2 8 3 11 1 26 1 37 2 3 1 11 1 13 1 5 1 9 1 2 1 1 1 1 1 5 1 2 1 4 2 25 2 10 1 999"/><path d="M382 544h477" stroke-dasharray="1 1 1 6 1 10 1 5 1 4 1 5 1 4 3 25 1 10 1 1 1 2 3 189 7 4 4 6 1 27 2 2 1 35 2 8 1 22 1 8 1 8 4 1 1 1 1 50 1 999"/><path d="M382 546h490" stroke-dasharray="2 4 1 8 1 4 1 5 1 11 1 39 1 3 2 6 2 112 1 79 2 4 3 23 2 9 3 69 2 10 1 11 1 1 1 11 2 4 1 12 1 3 1 8 1 2 1 2 1 9 1 3 1 999"/><path d="M325 548h535" stroke-dasharray="2 56 1 4 1 1 1 7 2 2 1 2 1 3 1 4 1 4 1 39 2 4 3 1 1 2 2 92 1 109 1 2 3 4 2 56 1 64 1 1 1 2 1 11 1 19 2 8 4 999"/><path d="M377 552h507" stroke-dasharray="1 2 1 3 1 7 1 24 2 7 1 3 1 44 1 70 2 2 1 109 1 9 1 6 1 1 1 7 1 2 1 8 1 30 1 12 1 134 1 4 1 999"/><path d="M377 554h508" stroke-dasharray="1 6 1 2 1 9 1 6 2 5 1 17 1 43 2 1 1 68 2 5 1 20 1 10 1 74 2 9 1 18 1 1 1 42 1 8 1 140 1 999"/><path d="M292 556h451" stroke-dasharray="1 80 2 5 1 4 2 8 1 4 1 16 2 124 1 4 1 5 1 104 1 1 1 3 1 4 2 5 1 11 1 52 1 999"/><path d="M293 558h597" stroke-dasharray="2 77 1 11 2 8 1 12 1 10 1 2 3 46 1 7 2 65 2 7 1 3 1 27 1 72 1 1 1 3 1 4 1 6 1 12 1 28 1 4 1 4 1 2 1 1 2 153 1 999"/><path d="M279 560h613" stroke-dasharray="2 1 2 6 1 3 2 81 1 3 2 8 1 4 1 2 2 15 1 13 1 49 1 178 1 1 1 8 2 5 1 2 1 6 1 2 1 28 1 4 1 5 1 9 1 148 3 999"/><path d="M265 562h471" stroke-dasharray="1 10 1 1 1 1 2 8 1 1 1 1 2 254 1 114 2 3 2 5 1 2 1 9 1 29 1 10 1 2 2 999"/><path d="M265 564h475" stroke-dasharray="1 1 1 12 1 1 1 2 1 5 2 1 1 365 1 5 1 23 2 3 1 1 1 19 1 1 1 13 2 4 1 999"/><path d="M261 566h479" stroke-dasharray="1 3 2 1 1 10 3 2 1 6 1 3 1 173 1 10 1 179 1 5 1 5 1 4 1 16 1 23 2 13 2 3 2 999"/><path d="M478 572h426" stroke-dasharray="1 8 1 44 1 129 1 15 1 1 1 4 1 2 1 2 1 18 2 4 2 2 1 8 1 91 1 79 3 999"/><path d="M430 574h392" stroke-dasharray="1 43 2 10 1 1 1 121 1 50 2 15 1 1 1 10 1 4 2 19 2 2 1 12 1 11 1 74 1 999"/><path d="M269 578h608" stroke-dasharray="1 9 1 46 1 50 1 239 1 20 1 38 1 10 1 7 1 4 1 14 1 1 1 2 1 18 1 133 1 1 1 999"/><path d="M140 582h748" stroke-dasharray="1 48 1 207 1 11 1 107 1 138 1 27 1 2 1 4 1 12 1 12 1 111 4 40 1 1 1 1 1 2 1 5 1 999"/><path d="M246 584h646" stroke-dasharray="1 10 1 93 1 20 1 65 1 48 1 147 1 4 1 2 1 48 3 11 1 10 2 22 1 10 1 47 1 11 1 6 1 1 1 5 2 3 2 24 1 4 1 14 2 1 2 8 1 999"/><path d="M184 586h710" stroke-dasharray="1 35 1 89 1 127 1 109 1 81 1 14 1 47 1 10 1 1 1 35 1 69 1 2 5 2 2 5 1 5 3 1 1 5 1 1 1 6 3 4 5 4 1 1 1 6 1 5 1 1 3 1 1 1 1 999"/><path d="M409 588h482" stroke-dasharray="1 24 1 7 1 12 1 94 1 6 1 17 1 1 1 11 1 39 1 1 1 11 1 44 1 4 1 1 1 8 3 23 1 13 3 50 1 5 1 6 1 2 2 1 1 1 1 2 2 6 4 5 1 5 1 1 1 5 1 1 1 1 7 2 1 1 2 2 2 2 1 11 2 1 1 999"/><path d="M157 590h739" stroke-dasharray="1 343 1 58 1 18 1 46 1 14 1 16 1 17 1 11 1 5 2 8 2 1 1 9 1 17 1 7 1 6 1 40 1 6 1 3 1 4 1 1 2 2 1 3 3 2 1 1 3 2 1 1 2 1 2 1 2 8 1 6 1 1 1 2 2 1 2 2 2 4 1 2 1 2 1 5 1 2 1 1 1 1 2 2 1 999"/><path d="M253 592h638" stroke-dasharray="1 90 1 106 1 8 1 27 1 61 1 3 1 27 1 62 1 1 1 14 1 6 1 2 1 7 1 8 1 14 1 12 1 16 2 15 1 10 1 1 1 32 1 8 1 2 2 2 2 4 1 2 1 1 1 1 1 2 1 2 1 3 1 1 1 1 1 2 1 2 1 3 1 4 1 1 1 1 1 3 2 1 1 3 1 1 2 1 1 6 1 3 1 1 3 999"/><path d="M192 594h701" stroke-dasharray="1 102 1 20 1 12 1 31 1 11 1 86 1 93 1 20 1 2 1 3 1 7 1 14 1 3 1 23 1 1 1 8 1 4 1 13 1 24 1 2 1 2 2 7 1 1 3 36 1 7 1 3 1 20 1 18 2 7 2 2 1 4 2 2 2 3 2 3 1 5 3 10 1 2 1 1 4 2 1 7 1 2 2 2 2 2 1 13 2 999"/><path d="M147 596h735" stroke-dasharray="1 127 1 2 1 79 1 35 1 2 1 75 1 4 1 1 1 153 1 3 1 1 1 9 1 16 1 3 1 15 1 1 1 5 1 8 2 22 1 23 1 5 1 1 1 2 1 15 1 12 1 1 5 6 1 2 1 1 1 2 2 5 1 1 2 4 1 1 3 4 1 2 1 6 1 3 1 3 1 7 1 5 1 5 2 1 1 2 1 999"/><path d="M139 598h772" stroke-dasharray="1 13 1 57 1 46 1 74 1 60 2 25 1 29 1 78 1 66 1 5 1 35 1 47 2 6 2 7 3 20 1 6 1 31 1 25 3 12 2 1 3 2 2 4 1 1 1 7 1 9 1 3 1 8 1 10 1 8 1 2 1 32 1 999"/><path d="M232 600h642" stroke-dasharray="1 33 1 34 1 54 1 5 1 42 1 34 1 12 1 53 1 55 1 26 1 10 1 7 1 5 1 20 1 27 1 9 1 11 1 9 1 7 2 21 1 5 1 23 1 57 1 6 1 18 2 28 1 1 1 999"/><path d="M197 602h677" stroke-dasharray="1 45 1 20 1 4 1 31 1 125 1 12 1 12 1 3 1 144 1 40 1 53 1 6 2 27 2 22 1 9 1 75 1 29 1 999"/><path d="M120 604h781" stroke-dasharray="1 7 1 5 1 50 1 4 1 42 1 149 1 4 1 40 1 7 1 15 1 4 2 8 1 24 1 72 1 3 1 7 1 12 2 50 1 4 1 16 1 20 1 1 1 1 1 2 1 2 1 1 1 4 2 6 1 16 1 4 1 23 1 10 2 10 1 119 1 999"/><path d="M120 606h783" stroke-dasharray="1 34 1 21 1 12 1 61 1 151 1 23 1 39 1 37 1 30 1 27 1 3 1 41 1 18 1 4 1 3 1 2 1 10 1 7 2 20 1 15 1 4 2 10 1 11 1 27 1 11 1 13 1 119 1 999"/><path d="M179 608h702" stroke-dasharray="1 36 1 47 1 22 1 40 1 22 1 27 1 10 1 36 1 21 1 15 1 6 1 40 1 2 1 32 1 1 1 42 1 16 1 6 1 4 2 26 1 5 1 14 1 5 2 13 1 2 1 2 1 6 1 4 2 2 2 39 1 11 1 5 1 19 1 21 1 5 1 22 1 7 1 26 1 999"/><path d="M116 610h772" stroke-dasharray="1 99 1 70 1 49 1 58 1 11 1 17 1 33 1 1 1 10 1 9 1 26 1 2 1 20 1 16 1 8 1 17 1 3 1 8 2 12 1 20 1 7 1 6 1 9 1 17 1 2 1 8 1 13 1 4 3 2 1 50 1 10 1 48 1 25 1 2 1 34 1 6 1 999"/><path d="M188 612h668" stroke-dasharray="1 12 1 12 1 24 1 15 1 5 1 31 1 16 1 34 1 29 2 35 1 9 1 68 1 9 2 56 1 20 1 7 1 7 1 30 1 24 1 26 1 15 1 4 1 2 1 1 1 5 2 2 1 53 1 43 1 2 1 6 2 30 1 999"/><path d="M124 614h773" stroke-dasharray="1 4 1 97 1 34 1 20 1 26 1 7 1 26 1 68 1 33 1 58 1 62 1 34 1 3 1 10 1 6 1 11 1 27 2 22 1 5 1 1 3 2 2 10 1 49 1 23 1 33 1 22 1 48 1 999"/><path d="M193 616h627" stroke-dasharray="1 71 1 13 1 1 1 24 1 34 1 21 1 19 1 43 1 9 1 7 1 6 1 7 1 14 1 35 1 11 1 18 1 77 1 10 1 19 1 32 2 15 1 3 1 5 1 44 1 9 1 52 1 999"/><path d="M131 618h774" stroke-dasharray="1 61 1 56 1 5 1 9 1 24 1 2 1 13 1 4 1 5 1 3 1 23 1 6 1 52 1 6 1 13 1 12 1 8 1 2 1 27 1 3 1 33 1 2 1 6 1 21 1 5 1 21 1 17 1 1 1 1 1 2 1 7 1 6 1 11 1 19 1 21 1 11 2 1 1 6 1 7 1 17 1 1 1 36 1 2 1 1 1 17 1 44 1 73 1 1 1 999"/><path d="M121 620h757" stroke-dasharray="1 2 2 3 1 6 1 25 1 19 1 89 1 12 1 1 1 8 1 1 1 23 2 76 1 1 1 11 1 16 1 22 2 5 1 4 1 8 1 2 1 16 1 8 1 13 1 15 1 7 1 10 1 11 1 4 1 3 1 5 1 9 1 5 1 37 1 1 1 51 1 10 1 4 2 16 1 23 1 12 1 2 1 30 1 67 1 1 1 13 1 999"/><path d="M125 622h761" stroke-dasharray="1 6 1 24 1 13 1 5 1 6 1 44 1 31 1 4 1 2 1 18 1 2 1 10 1 8 1 3 2 26 1 20 1 2 1 24 2 7 1 2 1 13 1 2 1 7 1 2 1 1 1 6 1 3 1 15 1 34 1 30 1 11 1 2 1 10 1 10 1 5 1 1 1 6 1 17 1 29 1 5 1 2 1 45 1 15 2 1 1 5 3 6 4 8 1 1 1 1 1 1 1 3 1 8 1 1 1 1 1 4 1 36 1 18 1 2 1 23 1 10 1 34 1 999"/><path d="M364 640h492" stroke-dasharray="1 5 1 12 1 3 1 25 1 45 1 19 1 33 1 50 1 11 1 29 1 13 1 8 1 42 1 38 1 10 1 132 1 999"/><path d="M123 648h734" stroke-dasharray="1 322 1 33 1 34 1 1 1 4 1 6 1 7 1 28 1 39 1 15 1 178 1 54 1 999"/><path d="M129 650h778" stroke-dasharray="1 78 1 221 1 2 1 8 1 14 1 8 1 41 1 2 1 10 1 13 1 22 1 19 1 14 1 4 1 16 1 11 1 72 1 22 1 21 1 7 1 27 1 88 1 34 1 999"/><path d="M211 654h668" stroke-dasharray="1 120 1 41 1 4 1 106 1 7 1 6 1 96 1 13 1 13 1 8 1 12 1 153 1 40 1 2 1 31 1 999"/><path d="M112 656h787" stroke-dasharray="1 57 1 14 1 144 1 71 1 47 1 2 1 23 1 14 1 151 1 70 1 3 1 11 1 13 1 35 1 15 1 100 1 999"/><path d="M129 658h778" stroke-dasharray="1 5 1 134 1 54 1 1 1 5 1 25 1 30 1 24 1 7 1 6 1 21 1 23 1 21 1 9 1 18 1 31 1 37 1 8 1 3 1 21 2 3 1 10 1 3 1 7 1 5 1 35 1 12 1 68 1 1 1 25 1 16 1 55 1 20 1 999"/><path d="M142 660h754" stroke-dasharray="1 39 1 47 1 56 1 44 1 39 1 13 1 5 1 24 1 6 1 54 1 59 1 23 2 14 1 17 1 13 1 7 1 4 2 32 1 21 1 74 1 12 1 5 1 33 1 14 1 6 1 10 1 18 1 1 1 28 1 3 1 999"/><path d="M133 662h763" stroke-dasharray="1 94 1 33 1 7 1 75 1 2 1 35 1 26 1 1 1 1 1 13 1 9 1 34 1 24 1 11 1 41 1 3 1 17 1 33 1 31 1 55 1 35 1 30 1 8 1 8 1 72 1 11 1 26 1 999"/></g>
<g stroke="#0043ff"><path d="M110 512h1M105 514h1m3 0h1m2 0h1m2 0h1M558 528h1m1 0h1m38 0h2m3 0h1m13 0h4m2 0h1m7 0h1m7 0h1m36 0h1m18 0h1m15 0h1m26 0h1M645 534h1m3 0h3m26 0h2m6 0h1m1 0h1m17 0h1m6 0h1m26 0h1M291 560h2m79 0h1m42 0h1m63 0h1m180 0h1m18 0h1m11 0h2m24 0h2m9 0h2m2 0h2m1 0h2M266 562h1m12 0h1m3 0h1m7 0h1m188 0h2m178 0h2m16 0h2m11 0h1m25 0h3m9 0h2m1 0h2m2 0h1M471 568h1m7 0h1m199 0h1m12 0h1m1 0h1m22 0h2m2 0h1m8 0h1m1 0h6M166 576h1m318 0h1m3 0h1m141 0h1m60 0h1m16 0h2m1 0h1m1 0h2m3 0h4m6 0h1m8 0h1m137 0h1M155 584h1m174 0h1m6 0h1m49 0h1m245 0h1m61 0h1m8 0h2m13 0h1m2 0h1m17 0h1m16 0h1m113 0h4M108 660h1m84 0h1m50 0h1m116 0h1m147 0h1m103 0h1m8 0h1M167 662h1m123 0h1m133 0h1m32 0h1m72 0h1m59 0h1m12 0h1m46 0h1m51 0h1m45 0h1m123 0h1M365 664h1m26 0h1m47 0h1m31 0h1m55 0h1m48 0h1m14 0h1m85 0h1M301 666h1m58 0h1m46 0h1m50 0h1m14 0h1m36 0h1m15 0h1m47 0h1m39 0h1m35 0h1m32 0h1m16 0h1M382 668h1m56 0h1m45 0h1m35 0h1m34 0h1m16 0h1m23 0h1m39 0h1m24 0h1m17 0h1m45 0h1M905 670h1M409 672h1m20 0h1m240 0h1M525 674h1"/><path d="M106 516h395" stroke-dasharray="3 8 1 23 1 8 3 242 1 9 1 13 2 9 3 8 1 36 1 4 1 9 2 4 2 999"/><path d="M105 518h482" stroke-dasharray="3 3 1 9 4 6 1 1 1 2 2 2 1 8 2 1 1 27 1 5 3 6 2 48 1 94 1 9 2 1 3 14 1 1 1 6 2 4 2 1 1 4 1 5 2 2 1 2 3 9 1 1 1 1 2 5 1 10 2 1 3 2 2 2 1 1 1 2 2 3 2 5 1 1 1 6 1 9 4 3 1 5 2 17 1 14 1 50 1 999"/><path d="M105 520h498" stroke-dasharray="2 9 1 2 3 2 1 1 4 3 1 3 1 5 1 1 1 8 7 1 6 1 3 1 3 3 1 2 1 2 2 3 5 12 1 2 2 27 2 4 2 2 3 4 1 6 1 2 1 16 1 10 1 28 1 9 1 15 1 3 2 2 2 1 1 14 3 1 1 9 2 1 1 5 4 4 1 2 1 4 1 6 1 1 1 3 1 1 1 2 1 8 1 4 1 9 1 6 1 3 2 8 4 2 1 3 2 1 2 4 2 65 2 19 2 1 1 11 1 2 1 999"/><path d="M114 522h562" stroke-dasharray="1 16 1 15 1 14 1 12 2 64 2 20 1 1 2 17 1 37 1 30 1 1 1 3 2 15 1 4 1 9 1 4 1 2 1 12 1 9 1 4 3 4 1 2 1 10 1 2 1 4 2 4 1 5 1 8 1 1 2 2 1 3 1 1 2 5 2 11 1 6 1 21 2 2 5 1 3 12 4 2 1 18 1 1 1 2 2 3 1 10 2 7 1 4 1 51 1 999"/><path d="M256 524h433" stroke-dasharray="1 76 1 44 1 28 2 19 3 1 1 11 1 2 1 1 1 4 1 2 1 4 2 1 2 20 1 6 1 3 1 17 1 12 1 10 1 3 3 3 2 6 3 3 4 12 3 2 2 4 1 1 1 6 1 2 1 6 1 4 1 1 2 3 1 1 1 16 1 46 1 999"/><path d="M493 526h220" stroke-dasharray="1 22 1 45 2 1 2 3 3 3 3 3 1 2 1 2 1 2 1 1 1 4 1 1 2 1 2 10 7 2 1 16 2 68 2 999"/><path d="M610 530h131" stroke-dasharray="1 6 1 8 2 4 1 3 1 2 1 3 1 5 2 7 1 18 1 27 1 5 2 7 2 18 1 999"/><path d="M624 532h116" stroke-dasharray="1 4 3 6 2 3 1 1 1 3 1 23 1 3 1 9 2 4 1 11 1 5 1 27 1 999"/><path d="M650 536h240" stroke-dasharray="2 3 1 1 1 3 1 3 1 6 1 4 3 5 2 9 1 9 1 4 4 6 1 6 1 3 1 6 2 3 1 4 1 7 1 129 1 1 1 999"/><path d="M656 538h255" stroke-dasharray="1 9 1 12 1 6 1 8 1 15 4 16 2 5 3 3 1 6 2 1 3 1 1 12 2 2 3 3 1 49 1 19 1 11 1 3 4 3 3 4 1 4 1 3 2 18 1 999"/><path d="M461 540h440" stroke-dasharray="1 191 1 2 1 3 1 5 2 8 2 1 1 6 3 7 1 14 5 23 2 10 2 1 1 1 2 10 1 41 1 3 1 2 1 12 1 1 1 10 1 7 1 1 2 5 3 4 1 10 1 1 1 1 1 10 1 2 1 3 1 999"/><path d="M462 542h444" stroke-dasharray="2 190 1 4 3 2 3 4 1 7 2 4 1 1 2 3 1 18 2 1 1 17 1 6 1 4 1 8 2 4 1 9 1 4 1 2 1 3 1 10 1 1 1 5 1 1 1 3 3 3 2 1 1 5 7 6 1 2 1 3 1 1 3 2 3 2 3 1 1 9 2 2 2 11 1 19 2 999"/><path d="M383 544h495" stroke-dasharray="1 14 2 9 1 50 1 206 1 2 1 7 1 1 1 1 1 2 3 1 1 2 1 3 2 10 1 3 1 1 1 2 1 13 1 8 1 3 1 12 2 10 1 11 1 15 2 7 1 1 1 11 2 14 1 1 3 3 1 2 4 4 1 1 1 3 1 4 1 3 3 4 1 999"/><path d="M391 546h483" stroke-dasharray="1 69 2 3 1 202 3 3 1 4 3 2 8 4 1 6 1 7 3 11 1 4 2 7 1 3 1 46 2 10 1 4 1 12 2 1 1 1 1 5 1 10 7 2 1 2 1 2 1 2 2 3 1 1 1 1 1 1 2 999"/><path d="M401 548h475" stroke-dasharray="1 6 1 16 1 35 1 8 1 3 1 98 1 95 2 7 1 3 1 2 1 2 2 1 2 3 4 4 1 5 2 2 1 3 1 12 3 4 1 71 1 1 1 4 2 8 4 43 2 999"/><path d="M408 550h476" stroke-dasharray="1 2 1 137 1 127 2 10 1 2 1 4 3 4 1 6 1 3 1 1 1 14 1 10 1 134 1 4 1 999"/><path d="M404 552h479" stroke-dasharray="3 12 2 154 1 83 1 29 1 1 1 4 3 1 1 8 2 6 2 5 1 6 4 7 1 1 1 134 4 999"/><path d="M406 554h337" stroke-dasharray="1 5 1 3 2 3 1 8 1 116 1 2 2 14 1 5 1 104 1 1 1 12 1 3 5 15 1 7 1 6 3 1 1 6 1 999"/><path d="M378 556h511" stroke-dasharray="2 12 1 12 1 5 2 2 1 3 3 49 1 5 2 65 1 1 2 2 4 124 2 10 2 5 4 3 1 11 1 2 1 4 1 4 1 1 5 149 4 999"/><path d="M292 558h450" stroke-dasharray="1 93 1 5 1 154 2 1 3 107 1 18 1 11 2 6 2 3 1 11 2 12 1 2 1 2 1 3 2 999"/><path d="M261 564h633" stroke-dasharray="1 15 1 1 1 1 1 1 2 185 1 8 1 181 1 16 2 12 1 25 1 1 1 8 4 2 1 157 1 999"/><path d="M277 566h461" stroke-dasharray="2 3 2 186 1 8 1 181 1 16 2 11 2 24 1 2 1 4 1 3 4 2 1 1 1 999"/><path d="M473 570h427" stroke-dasharray="1 187 1 10 1 6 1 13 2 2 1 12 1 6 2 7 1 2 2 2 4 160 1 1 1 999"/><path d="M477 572h428" stroke-dasharray="1 183 1 17 1 13 2 2 1 11 1 9 1 1 1 5 1 5 2 1 1 68 1 98 1 999"/><path d="M476 574h432" stroke-dasharray="1 10 1 44 1 146 1 13 1 9 1 6 4 2 1 2 2 1 1 4 1 9 1 168 2 999"/><path d="M152 578h761" stroke-dasharray="1 187 1 96 1 2 1 44 1 3 2 201 3 9 1 5 3 2 1 1 1 1 2 1 1 6 1 9 1 171 2 999"/><path d="M140 580h736" stroke-dasharray="1 51 1 48 1 102 1 140 1 1 1 3 1 70 1 114 1 15 3 4 1 2 3 4 3 6 3 7 2 8 1 4 1 36 1 83 1 4 1 4 1 999"/><path d="M149 582h729" stroke-dasharray="1 131 1 18 1 8 1 176 1 3 1 71 1 114 1 15 3 3 1 4 1 1 1 4 2 2 3 3 2 6 1 10 1 134 1 1 1 999"/><path d="M155 586h736" stroke-dasharray="1 181 1 240 1 54 1 54 1 6 1 9 1 1 1 4 1 4 2 6 1 94 1 6 2 3 3 11 1 28 1 1 2 11 1 999"/><path d="M157 588h721" stroke-dasharray="1 231 1 191 1 11 1 33 1 66 1 1 1 6 1 3 2 8 2 5 3 13 1 2 1 12 1 41 1 12 1 3 1 3 2 55 2 999"/><path d="M146 590h748" stroke-dasharray="1 142 1 15 1 248 1 2 1 82 1 2 1 5 1 18 1 20 1 6 1 9 1 1 2 8 1 6 2 6 1 2 1 1 2 2 1 1 6 49 1 8 1 6 2 10 1 5 1 2 1 14 3 10 2 5 1 4 1 16 1 999"/><path d="M356 592h538" stroke-dasharray="1 129 1 103 1 20 1 14 1 22 1 2 1 35 1 6 1 7 1 1 5 8 1 6 1 7 1 2 1 2 2 2 2 1 1 23 1 20 1 15 2 2 1 3 2 10 2 4 1 13 1 4 3 21 1 1 1 12 3 999"/><path d="M264 594h615" stroke-dasharray="1 42 1 106 1 20 1 50 1 63 1 16 1 56 1 2 1 19 1 34 1 13 1 7 1 12 2 5 4 8 1 2 2 2 1 9 1 1 1 35 1 15 2 1 1 2 1 2 1 14 3 4 1 6 1 18 2 5 1 6 1 999"/><path d="M129 596h744" stroke-dasharray="1 140 1 56 1 105 1 104 1 64 1 37 1 2 1 15 1 15 1 26 1 2 1 1 1 1 2 6 1 6 3 12 1 3 2 7 3 1 1 1 1 33 1 12 2 3 1 4 1 2 1 1 1 17 1 1 1 4 1 5 1 1 1 15 3 999"/><path d="M109 598h770" stroke-dasharray="1 31 1 56 1 44 1 77 1 140 1 15 1 59 1 45 2 46 1 38 1 25 1 4 2 7 2 11 1 3 1 2 1 1 1 1 1 11 1 3 2 1 1 1 4 1 2 1 2 29 1 8 1 15 1 43 1 6 1 6 1 999"/><path d="M149 600h715" stroke-dasharray="1 71 1 65 1 169 1 2 1 22 1 62 1 4 1 50 1 17 1 76 1 4 2 2 2 3 2 15 1 3 1 1 1 17 1 1 1 1 1 1 1 7 1 96 1 999"/><path d="M134 602h625" stroke-dasharray="1 12 1 145 1 106 1 18 1 51 1 5 1 17 1 47 1 24 1 18 1 43 1 4 1 7 1 5 1 28 1 21 3 2 1 8 2 9 2 7 1 7 1 12 1 1 1 999"/><path d="M159 604h750" stroke-dasharray="1 92 1 157 2 9 1 42 1 2 1 47 1 4 1 15 2 39 1 11 1 111 2 2 2 5 1 2 1 10 2 6 3 2 1 1 1 14 1 1 1 2 1 5 1 58 1 81 1 999"/><path d="M118 606h731" stroke-dasharray="1 3 1 77 1 130 1 38 1 82 1 39 1 14 1 41 1 28 1 6 1 45 1 1 1 2 1 29 1 27 1 7 1 2 1 3 3 1 2 1 1 9 1 5 1 1 1 3 1 2 1 6 1 5 1 1 1 9 1 27 1 22 1 8 1 20 1 999"/><path d="M142 608h768" stroke-dasharray="1 24 1 194 1 38 1 17 1 2 1 2 1 140 1 11 1 34 1 2 1 20 1 45 2 15 2 1 2 8 1 3 1 10 1 3 4 13 1 1 1 3 1 1 1 65 1 3 1 14 1 66 1 999"/><path d="M167 610h674" stroke-dasharray="1 22 1 59 1 77 1 33 1 38 1 20 1 30 1 1 1 10 1 29 1 83 1 76 1 12 1 4 1 12 1 14 2 1 1 3 3 2 3 31 2 13 1 62 1 12 1 999"/><path d="M193 612h717" stroke-dasharray="1 68 1 77 1 25 1 47 1 5 1 3 1 150 1 44 1 13 2 31 1 12 1 10 1 9 2 1 1 1 1 9 1 4 2 4 2 27 1 9 2 21 1 119 1 999"/><path d="M108 614h727" stroke-dasharray="1 59 1 5 2 39 1 45 1 49 1 13 1 17 1 9 1 23 1 55 1 8 1 9 1 1 1 35 2 20 1 4 1 63 1 14 1 9 1 3 1 5 1 11 1 73 2 7 2 8 3 3 2 4 2 13 1 1 1 4 2 4 1 3 1 23 1 23 1 20 1 999"/><path d="M149 616h754" stroke-dasharray="1 9 1 16 1 28 1 80 1 44 1 5 1 51 2 16 1 5 1 4 1 9 1 135 2 63 1 2 1 14 1 54 3 7 1 2 2 3 5 2 2 7 1 3 1 7 1 2 1 1 1 1 1 4 1 3 2 20 2 15 1 5 1 92 1 999"/><path d="M105 618h765" stroke-dasharray="1 21 1 7 1 13 1 18 1 9 1 37 1 26 1 4 1 48 1 8 1 3 1 3 1 26 2 3 1 32 1 10 1 53 2 14 1 25 1 1 2 14 1 10 1 8 1 2 1 10 1 24 1 7 1 28 1 5 2 1 1 46 1 42 1 2 1 1 3 2 3 4 1 2 2 1 1 1 1 1 3 4 1 1 1 4 1 5 1 3 1 4 1 5 2 56 1 4 1 44 1 999"/><path d="M112 620h774" stroke-dasharray="1 10 1 8 1 14 1 23 1 3 1 5 1 20 1 68 1 5 2 9 2 26 1 72 1 2 1 4 1 10 1 9 2 6 1 1 1 6 1 10 1 2 1 3 1 3 1 5 1 9 1 25 1 29 1 41 2 2 1 57 1 10 1 3 1 17 1 4 1 12 2 14 1 2 1 2 1 4 1 3 2 2 3 1 2 2 2 6 5 2 2 1 1 6 1 7 1 124 1 999"/><path d="M105 622h767" stroke-dasharray="1 17 2 8 1 28 1 17 1 15 1 12 1 21 1 11 1 9 1 29 1 26 1 7 1 3 2 6 1 11 1 25 1 3 1 11 1 5 1 5 1 1 1 6 1 27 1 1 1 11 1 6 1 1 2 7 1 28 1 22 1 16 1 30 3 8 1 8 1 4 1 1 1 17 2 4 1 6 1 20 1 12 2 17 1 9 2 8 1 3 1 56 1 9 1 74 1 28 1 999"/><path d="M391 624h295" stroke-dasharray="2 9 1 3 1 26 1 67 1 49 1 30 1 5 1 2 1 1 1 26 1 1 1 62 1 999"/><path d="M348 626h334" stroke-dasharray="1 42 1 25 1 16 1 9 1 13 1 4 1 5 1 9 1 30 1 1 1 32 1 24 1 22 1 48 1 24 1 13 1 999"/><path d="M303 628h385" stroke-dasharray="1 35 1 33 2 3 1 1 1 9 1 24 1 9 1 12 1 40 1 6 1 62 1 7 1 12 2 4 1 28 1 18 1 21 1 15 1 7 1 10 1 5 1 999"/><path d="M351 630h302" stroke-dasharray="1 46 1 9 1 7 2 63 1 27 1 44 2 7 1 21 1 8 1 11 1 13 1 12 1 18 1 999"/><path d="M355 632h337" stroke-dasharray="1 26 1 9 1 74 1 2 1 3 1 22 1 48 1 21 1 11 1 37 1 5 1 60 1 5 1 999"/><path d="M318 634h329" stroke-dasharray="1 75 1 24 2 2 1 5 1 13 2 1 1 77 1 16 1 15 1 8 1 42 1 36 1 999"/><path d="M300 636h390" stroke-dasharray="1 7 1 24 1 17 1 19 1 5 1 1 1 39 1 27 1 23 1 12 1 57 1 17 1 1 1 64 1 3 1 20 1 36 1 999"/><path d="M189 638h724" stroke-dasharray="1 174 1 2 1 15 1 10 1 4 1 16 1 45 1 10 1 25 1 38 1 10 1 9 1 6 1 16 1 18 1 1 1 19 1 287 1 999"/><path d="M333 640h449" stroke-dasharray="1 7 1 49 1 11 1 45 1 22 1 50 1 31 1 3 1 26 1 66 1 32 1 94 1 999"/><path d="M395 642h480" stroke-dasharray="1 20 1 1 1 32 1 6 1 9 1 27 1 9 1 20 1 33 1 9 1 120 1 33 1 147 1 999"/><path d="M364 644h511" stroke-dasharray="1 23 1 6 1 19 1 24 1 6 1 14 1 9 1 6 1 70 1 3 1 5 1 52 1 21 1 60 1 29 1 147 1 999"/><path d="M423 646h359" stroke-dasharray="1 7 1 12 1 21 1 25 1 6 1 6 1 11 1 8 1 43 1 8 1 28 1 1 1 29 1 30 1 59 1 48 1 999"/><path d="M138 648h539" stroke-dasharray="1 91 1 58 1 81 1 26 1 29 1 21 1 20 1 5 1 15 1 16 1 7 1 55 1 1 1 1 1 22 1 6 1 5 1 17 1 3 1 28 2 1 1 7 1 999"/><path d="M366 650h288" stroke-dasharray="1 12 1 11 1 22 1 8 1 35 1 12 1 5 1 6 1 55 1 7 1 23 2 16 1 8 1 33 1 7 1 9 2 999"/><path d="M397 652h420" stroke-dasharray="1 6 1 28 1 6 1 14 1 6 1 10 1 21 1 35 1 4 1 24 1 3 1 28 1 24 1 1 1 11 1 31 1 3 1 25 1 21 1 21 1 76 1 999"/><path d="M231 654h651" stroke-dasharray="1 68 1 76 1 6 1 5 1 15 1 11 1 53 1 10 1 8 1 30 1 62 1 1 1 13 1 31 1 37 1 208 1 999"/><path d="M390 656h397" stroke-dasharray="1 2 2 35 1 6 1 28 1 14 1 46 1 17 1 70 1 2 1 26 1 4 1 133 1 999"/><path d="M377 658h485" stroke-dasharray="1 8 1 72 1 35 1 8 1 23 1 32 1 5 1 37 1 1 1 12 1 2 1 199 1 37 1 999"/></g>
<g stroke="#005fff"><path d="M110 514h2M109 516h1m1 0h3m2 0h1m316 0h1m35 0h1M471 558h1m5 0h1m71 0h1m128 0h1m26 0h1m12 0h1m1 0h1m4 0h1m1 0h2m2 0h1M549 560h3m171 0h1m1 0h2m4 0h1m2 0h1m2 0h3m152 0h1M471 562h1m220 0h1m10 0h1m20 0h2m1 0h2m8 0h3M278 564h1m414 0h1m12 0h1m3 0h1m10 0h1m2 0h3m1 0h1m7 0h3M693 566h1m12 0h1m2 0h2m13 0h1m1 0h1m1 0h1m7 0h1M472 568h2m219 0h1m13 0h2m1 0h1m15 0h3m2 0h1m165 0h1M692 570h1m15 0h2m17 0h2m2 0h2m167 0h2M474 572h1m132 0h1m84 0h1m14 0h1m18 0h1m3 0h1m4 0h1m169 0h1M692 574h1m15 0h2m19 0h2m4 0h1m172 0h1M223 576h1m45 0h1m423 0h2m33 0h1m6 0h3m139 0h1M353 578h1m133 0h2m206 0h1m9 0h1m7 0h2m8 0h1m4 0h1m7 0h3M148 584h1m265 0h1m42 0h1m181 0h1m28 0h1m27 0h1m1 0h3m2 0h1m8 0h1m1 0h3m3 0h2m1 0h3M183 586h1m211 0h1m298 0h1m1 0h1m2 0h1m2 0h2m7 0h1m1 0h4m2 0h6m1 0h1m12 0h3m134 0h1M339 658h1m6 0h1m3 0h1m25 0h1m95 0h1m74 0h1m20 0h1m10 0h1m35 0h1m6 0h1m75 0h1m5 0h1M341 670h1m136 0h1m56 0h1m9 0h1m37 0h1m50 0h1m140 0h1m12 0h1M212 672h1m154 0h1m114 0h1m100 0h1m25 0h1m39 0h1m25 0h1"/><path d="M108 518h429" stroke-dasharray="3 1 4 3 2 11 1 5 1 7 3 2 1 200 1 34 1 6 3 22 1 1 1 9 3 8 1 4 1 2 1 4 2 4 1 5 2 1 1 6 1 3 2 9 1 5 1 37 1 999"/><path d="M107 520h480" stroke-dasharray="9 15 1 14 8 7 1 10 1 3 1 3 2 5 3 5 2 125 1 32 2 21 1 1 2 6 1 18 1 3 3 5 1 2 1 5 1 8 1 4 1 4 5 10 1 1 3 14 2 6 1 2 1 1 2 90 1 999"/><path d="M148 522h534" stroke-dasharray="1 91 1 4 2 9 1 26 1 70 1 22 4 7 1 11 1 6 2 10 2 12 1 7 1 3 1 1 1 1 2 12 5 10 1 2 2 5 1 2 1 3 1 55 1 18 1 1 1 11 4 1 1 9 2 80 1 999"/><path d="M377 524h366" stroke-dasharray="1 1 1 66 1 44 1 1 1 47 3 5 1 7 1 10 2 2 1 2 4 4 1 3 3 9 1 1 1 2 4 1 1 13 1 59 1 58 1 999"/><path d="M557 526h185" stroke-dasharray="1 1 1 15 1 7 2 1 1 3 1 8 1 5 1 2 1 1 1 11 1 30 1 19 1 3 3 4 5 4 1 3 1 3 1 3 2 21 1 12 1 999"/><path d="M605 528h137" stroke-dasharray="5 7 1 4 2 17 1 9 1 20 2 4 2 3 1 2 3 5 2 2 1 1 2 3 1 1 1 3 1 1 1 5 2 2 1 16 2 999"/><path d="M623 530h123" stroke-dasharray="1 1 1 2 1 11 3 8 1 5 1 3 1 7 2 2 1 4 2 4 5 5 4 8 2 5 2 7 1 14 3 5 1 999"/><path d="M636 532h110" stroke-dasharray="1 3 3 1 1 5 2 1 1 3 2 11 1 3 2 3 1 1 1 1 4 5 1 1 4 8 1 5 3 4 4 5 1 3 1 5 1 1 1 4 1 999"/><path d="M655 534h90" stroke-dasharray="1 2 4 3 2 5 1 4 1 3 2 2 1 1 1 5 6 6 1 1 1 8 1 3 5 3 2 8 2 4 1 999"/><path d="M658 536h81" stroke-dasharray="3 5 1 3 2 8 1 2 1 3 2 3 4 1 1 7 1 9 2 5 3 4 1 1 1 4 3 999"/><path d="M655 538h258" stroke-dasharray="1 3 3 3 1 1 1 1 1 2 1 4 1 6 2 1 2 3 3 1 1 1 1 6 2 9 1 4 2 5 2 6 1 11 1 1 1 2 1 3 1 129 3 21 2 999"/><path d="M462 540h446" stroke-dasharray="1 191 2 3 1 8 3 1 1 5 1 2 1 3 1 6 3 3 2 5 2 3 1 10 1 1 2 5 3 3 1 1 1 10 2 2 1 4 2 9 2 3 1 1 1 54 1 10 1 12 2 7 3 1 6 3 1 1 1 1 1 2 1 9 2 1 3 1 1 5 1 999"/><path d="M461 542h443" stroke-dasharray="1 205 4 4 4 4 1 5 1 1 1 1 2 1 1 1 1 6 1 1 1 1 2 4 1 12 1 2 1 5 1 2 1 9 1 6 1 15 1 2 1 16 1 15 2 5 1 1 1 9 1 4 1 1 2 1 3 1 1 9 1 3 1 2 4 2 2 2 2 6 3 1 2 20 1 999"/><path d="M461 544h445" stroke-dasharray="2 205 1 6 2 2 1 3 2 3 1 1 2 1 1 1 1 3 2 2 2 6 1 3 2 6 2 1 1 1 1 1 1 1 1 4 1 1 1 52 1 22 5 3 2 1 3 1 1 2 3 5 3 1 2 4 1 1 2 1 1 2 2 1 1 2 1 1 3 3 2 3 2 3 2 20 1 999"/><path d="M398 546h487" stroke-dasharray="1 269 1 7 1 1 2 3 1 9 4 6 1 4 1 7 2 4 4 7 1 4 2 1 3 65 1 3 1 1 2 6 1 3 2 2 1 24 1 3 1 2 3 3 1 4 1 2 2 4 2 999"/><path d="M677 548h208" stroke-dasharray="1 5 2 5 1 2 3 4 1 2 1 4 2 5 3 5 8 3 2 3 1 1 1 1 1 69 1 62 3 2 4 999"/><path d="M410 550h475" stroke-dasharray="1 279 1 2 4 8 1 3 2 5 1 1 1 4 5 1 2 2 2 5 1 1 1 138 2 1 1 999"/><path d="M407 552h478" stroke-dasharray="1 3 1 137 1 128 1 13 3 9 1 3 1 6 2 6 1 1 2 2 1 8 3 143 1 999"/><path d="M418 554h324" stroke-dasharray="3 54 1 72 2 128 1 11 1 2 1 1 1 8 1 4 2 6 3 3 1 1 6 9 2 999"/><path d="M406 556h336" stroke-dasharray="2 2 1 61 2 2 1 68 1 3 1 110 1 31 2 1 2 6 1 6 1 6 2 4 1 1 1 1 2 1 1 5 1 2 3 999"/><path d="M309 580h566" stroke-dasharray="1 176 1 1 1 1 1 164 1 46 1 3 1 2 1 3 3 6 1 1 2 11 2 134 2 999"/><path d="M192 582h695" stroke-dasharray="1 294 3 53 1 152 2 2 1 2 1 3 1 2 1 2 2 4 2 2 2 13 2 130 1 15 1 999"/><path d="M419 588h435" stroke-dasharray="1 201 1 77 2 1 1 10 2 4 1 1 3 17 2 69 1 14 2 8 1 7 1 7 1 999"/><path d="M306 590h541" stroke-dasharray="1 396 1 10 1 1 1 2 1 3 2 2 1 4 1 7 2 55 1 13 2 15 1 16 2 999"/><path d="M192 592h686" stroke-dasharray="1 230 1 30 1 115 1 2 1 2 1 48 1 70 1 4 2 12 2 2 1 2 3 1 3 9 1 2 2 2 1 1 1 2 1 15 1 31 1 66 1 11 1 999"/><path d="M141 594h732" stroke-dasharray="1 21 1 215 1 15 1 58 1 63 1 50 1 15 1 33 1 25 1 56 1 5 3 5 1 3 2 1 1 4 1 4 3 1 1 3 2 2 4 2 1 14 1 45 1 33 1 25 1 999"/><path d="M139 596h715" stroke-dasharray="1 12 1 58 1 162 1 160 1 15 1 32 1 58 1 52 4 2 1 4 1 1 1 7 1 3 1 1 2 4 1 1 1 1 2 6 3 2 2 2 2 60 1 2 1 22 1 14 1 999"/><path d="M202 598h621" stroke-dasharray="1 67 1 12 1 90 1 49 1 134 1 138 1 8 4 2 1 4 1 2 2 2 2 2 2 1 1 10 4 2 1 3 1 1 1 4 1 2 1 58 1 999"/><path d="M263 600h502" stroke-dasharray="1 15 1 156 1 40 1 163 1 56 1 2 1 6 3 2 2 2 1 3 6 2 3 3 2 2 1 8 4 1 1 1 1 3 1 1 4 999"/><path d="M436 602h436" stroke-dasharray="1 13 1 60 1 89 1 7 1 24 1 13 1 2 1 46 1 1 1 6 1 3 4 2 1 4 2 1 1 3 1 1 2 3 5 1 1 1 1 7 1 1 2 5 1 2 1 1 1 30 1 73 1 999"/><path d="M118 604h649" stroke-dasharray="1 34 1 4 1 195 1 48 1 112 1 182 1 7 1 1 2 3 1 1 2 4 1 2 1 3 1 2 1 4 1 2 1 1 3 1 3 11 1 3 1 1 1 999"/><path d="M128 606h639" stroke-dasharray="1 259 1 78 1 109 1 77 1 44 3 4 1 5 1 4 1 6 2 4 2 1 1 1 1 3 2 1 3 1 2 1 1 7 1 4 1 1 2 999"/><path d="M255 608h633" stroke-dasharray="1 44 1 152 2 5 1 1 1 10 1 74 1 19 1 107 1 25 1 4 1 2 1 3 1 3 3 6 1 2 2 4 2 1 3 1 6 1 1 7 2 5 3 104 1 14 1 999"/><path d="M115 610h795" stroke-dasharray="1 26 1 36 1 249 1 24 1 49 1 89 1 9 1 8 1 22 1 28 1 41 1 1 1 3 2 6 1 6 1 5 2 3 7 1 2 3 1 1 2 1 3 1 1 4 1 7 1 78 1 55 1 999"/><path d="M125 612h633" stroke-dasharray="1 80 1 19 1 20 1 212 1 51 1 68 1 126 3 2 2 2 4 2 2 1 1 13 1 1 1 11 2 1 1 999"/><path d="M125 614h774" stroke-dasharray="1 13 2 60 1 5 1 5 1 90 1 30 1 13 1 14 1 18 1 4 2 5 1 24 1 80 1 49 1 47 1 8 1 10 1 6 1 7 1 71 1 1 3 2 3 1 1 1 2 3 3 2 2 1 1 16 1 1 1 2 1 2 4 3 1 89 1 43 1 999"/><path d="M105 616h708" stroke-dasharray="1 3 1 1 1 30 1 23 1 50 1 28 1 77 1 8 1 5 1 17 1 8 1 68 1 5 1 16 1 35 1 52 1 21 1 9 1 53 1 22 1 1 1 39 1 7 1 2 2 2 2 2 3 5 2 5 4 1 3 1 3 2 1 2 2 1 1 1 1 2 1 1 1 1 3 48 1 999"/><path d="M109 618h802" stroke-dasharray="1 3 1 7 1 26 1 12 1 28 1 12 1 45 1 17 1 15 1 17 1 7 1 29 1 8 1 3 1 2 1 4 1 66 1 11 1 34 1 67 1 10 1 32 1 36 1 6 1 1 1 4 1 10 1 11 1 11 1 27 2 5 1 4 4 1 2 6 1 3 1 1 2 1 1 1 1 1 2 1 5 1 2 3 3 1 4 74 1 13 1 61 1 999"/><path d="M128 620h731" stroke-dasharray="1 12 1 11 1 37 1 54 1 19 1 27 1 33 1 42 2 2 1 2 2 15 1 14 1 4 1 7 1 10 1 7 1 44 1 14 1 27 1 9 1 3 1 11 2 29 1 4 1 13 1 1 1 2 1 16 1 10 1 13 1 27 1 19 2 4 4 1 1 1 1 2 1 7 2 2 1 3 2 5 2 2 1 2 5 1 4 4 1 96 1 999"/><path d="M121 622h575" stroke-dasharray="1 41 1 31 1 36 1 18 1 25 1 21 1 17 1 16 1 18 1 8 1 12 1 7 1 18 1 61 1 12 1 21 1 26 1 20 1 8 1 6 1 41 2 8 1 45 1 1 2 30 1 999"/><path d="M149 624h547" stroke-dasharray="1 124 1 38 1 15 1 20 1 6 1 14 1 14 1 5 1 11 1 26 1 11 1 3 1 16 2 5 1 8 1 5 2 11 1 1 1 5 2 5 1 4 1 4 1 3 1 12 1 3 1 8 1 18 1 14 1 15 2 18 1 6 1 10 1 39 1 11 1 999"/><path d="M312 626h397" stroke-dasharray="1 57 1 7 1 1 1 11 1 1 1 2 1 18 1 6 1 1 1 1 1 20 1 13 1 4 1 10 1 3 1 5 2 34 1 8 1 1 1 5 1 21 1 1 2 1 1 2 1 7 1 3 1 5 3 2 1 12 1 11 1 1 2 2 2 21 1 7 1 1 1 14 1 3 1 10 2 12 1 5 1 999"/><path d="M179 628h480" stroke-dasharray="1 20 1 48 1 55 1 11 1 3 1 7 1 19 1 31 1 13 1 2 1 5 1 1 1 1 1 3 1 4 1 5 1 8 1 4 1 5 1 13 1 18 1 8 1 3 2 6 1 7 1 9 1 3 1 40 1 17 2 1 2 11 1 13 1 6 1 3 1 8 3 12 1 6 1 7 1 999"/><path d="M308 630h377" stroke-dasharray="1 16 1 1 1 6 1 10 1 16 1 16 1 6 1 4 1 4 1 12 1 5 1 4 1 2 2 7 1 3 1 5 1 6 2 16 1 11 2 5 1 2 1 11 1 9 1 6 1 4 1 4 3 10 1 4 1 1 1 2 1 5 1 2 1 9 1 2 1 21 1 7 1 3 2 10 1 5 1 13 1 9 1 3 1 2 1 1 1 7 1 13 2 2 1 999"/><path d="M262 632h497" stroke-dasharray="1 17 1 58 1 4 1 30 1 14 2 8 1 1 1 3 1 5 1 10 1 6 1 2 1 7 1 1 1 3 1 6 1 23 2 1 1 13 1 4 1 4 1 9 1 2 1 5 3 2 1 9 2 8 1 7 1 4 1 2 2 34 1 6 1 8 1 15 1 1 1 3 1 7 1 1 1 7 1 11 1 5 1 3 1 45 1 8 1 23 1 999"/><path d="M173 634h553" stroke-dasharray="1 131 1 1 1 42 1 24 1 9 1 3 1 1 1 13 1 22 1 12 1 12 1 1 2 7 1 12 1 2 1 5 1 4 1 2 1 20 1 3 1 5 1 17 2 2 1 1 1 1 1 6 1 47 1 5 1 9 1 1 1 5 3 3 1 2 1 6 1 1 1 3 2 4 1 25 1 11 1 19 1 7 1 999"/><path d="M188 636h509" stroke-dasharray="1 44 1 62 1 45 1 13 2 4 1 2 1 16 1 1 2 16 1 11 1 21 2 5 1 10 1 1 1 8 1 20 1 12 1 10 1 13 1 4 2 44 1 1 1 12 1 15 1 32 2 2 1 6 1 23 2 18 1 1 1 999"/><path d="M363 638h512" stroke-dasharray="1 37 1 11 1 4 1 9 2 3 1 22 1 23 1 3 1 4 1 7 2 9 1 5 1 1 1 7 1 9 1 2 1 8 1 3 2 24 1 5 1 9 1 28 1 1 1 3 1 9 1 7 1 15 1 5 1 19 1 12 1 5 1 10 1 156 1 999"/><path d="M310 640h514" stroke-dasharray="1 68 1 4 1 16 1 19 1 30 1 2 1 10 1 1 1 24 1 7 1 5 1 2 1 13 1 7 1 5 1 4 1 5 1 4 1 14 1 26 1 7 2 1 1 9 1 9 1 12 1 6 1 19 2 26 2 42 1 78 1 4 1 999"/><path d="M304 642h528" stroke-dasharray="1 26 2 18 1 19 1 12 2 24 1 3 2 7 1 18 1 6 1 7 1 8 2 2 1 1 1 17 1 3 1 2 1 10 1 40 1 3 1 3 1 6 1 21 1 15 2 7 1 9 1 5 1 11 1 3 1 22 1 27 1 44 1 91 1 999"/><path d="M173 644h638" stroke-dasharray="1 126 1 31 1 17 1 7 1 7 1 5 2 11 1 18 1 5 1 8 1 16 2 1 1 2 1 25 1 5 1 10 1 8 1 9 1 1 1 1 1 25 1 3 1 5 1 12 1 13 1 2 1 3 1 28 1 1 1 11 2 1 1 12 1 10 1 1 1 30 1 53 1 74 1 999"/><path d="M110 646h587" stroke-dasharray="1 185 2 45 1 16 1 14 1 21 1 6 1 5 1 2 2 4 1 15 1 22 1 2 2 1 1 7 1 35 1 13 1 15 1 2 1 5 1 5 1 41 1 8 1 1 1 1 1 4 1 15 1 4 2 18 1 6 1 9 1 24 1 999"/><path d="M139 648h548" stroke-dasharray="1 65 1 94 1 32 1 5 1 71 1 2 1 1 1 2 1 10 1 4 1 31 1 1 1 5 1 3 1 3 1 7 1 15 1 17 1 8 1 29 1 4 1 2 1 21 2 50 1 1 1 2 1 31 1 2 1 999"/><path d="M186 650h695" stroke-dasharray="1 35 1 104 1 13 1 19 1 15 1 6 1 3 1 6 1 5 1 1 1 2 1 12 1 11 1 3 1 27 1 7 1 2 1 2 1 16 1 2 1 1 1 13 1 11 1 3 1 4 1 15 2 3 1 30 1 3 1 11 3 40 1 4 1 5 1 1 1 6 1 7 1 4 1 1 1 1 2 45 1 4 1 33 1 4 1 93 1 12 1 999"/><path d="M166 652h734" stroke-dasharray="1 124 1 37 1 42 1 12 1 6 1 12 1 5 1 10 1 9 1 2 1 10 2 1 1 6 1 12 1 19 1 4 1 4 1 2 1 17 1 1 2 9 1 1 1 19 1 11 1 2 1 19 1 12 1 5 1 8 1 12 1 11 1 1 1 4 2 6 1 2 1 31 1 21 1 8 1 58 1 51 1 63 1 999"/><path d="M294 654h497" stroke-dasharray="1 27 1 3 1 30 1 1 1 2 1 24 1 12 1 1 2 7 1 4 1 43 1 10 1 6 1 2 1 3 1 10 1 18 2 9 1 2 1 2 1 13 1 7 1 1 1 3 1 2 1 1 2 10 1 12 1 13 1 3 2 5 1 5 1 7 1 15 1 5 1 2 1 10 1 3 1 20 1 2 1 9 1 2 1 10 1 16 1 55 1 999"/><path d="M121 656h763" stroke-dasharray="1 123 1 33 1 34 1 37 1 8 2 14 1 1 1 3 1 4 1 7 1 8 1 17 1 20 1 4 1 11 1 6 1 3 2 5 1 14 1 3 4 2 1 8 1 12 1 6 1 8 1 11 1 13 2 3 1 15 1 3 1 8 1 5 1 15 1 1 2 9 1 13 1 9 1 7 1 19 1 2 1 2 2 4 1 6 1 85 1 4 1 19 1 63 1 999"/><path d="M128 660h692" stroke-dasharray="1 103 1 44 1 7 1 10 1 73 1 58 1 20 1 29 1 9 1 11 1 10 1 7 1 34 2 10 1 6 1 14 1 8 2 31 1 18 1 27 1 14 2 53 1 69 1 999"/><path d="M149 662h640" stroke-dasharray="1 37 1 148 1 2 1 32 1 35 1 19 2 9 1 4 1 2 1 48 1 38 1 13 1 50 1 18 1 45 1 15 1 20 1 2 1 12 1 56 1 12 1 999"/><path d="M397 664h514" stroke-dasharray="1 21 1 5 1 7 1 13 2 9 1 3 1 6 1 15 1 13 1 8 1 26 1 13 1 18 1 5 1 6 1 15 1 18 2 2 1 1 2 22 2 3 1 10 1 1 1 14 1 221 1 8 1 999"/><path d="M302 666h545" stroke-dasharray="1 1 1 20 1 20 1 10 1 8 1 27 1 6 1 4 1 2 1 14 2 4 2 29 1 7 1 6 2 7 1 7 1 13 1 10 1 17 1 2 1 8 2 37 1 28 1 5 1 21 1 26 1 20 1 101 1 44 1 3 1 2 1 999"/><path d="M330 668h507" stroke-dasharray="1 26 1 2 1 1 1 3 2 39 1 20 1 6 1 35 1 53 1 10 1 1 1 6 1 32 1 30 1 5 1 3 1 14 1 4 1 25 1 2 1 21 1 62 1 82 1 999"/><path d="M186 674h683" stroke-dasharray="1 41 1 82 1 12 1 4 1 256 1 1 1 62 1 47 1 12 1 53 1 11 1 89 1 999"/></g>
<g stroke="#007bff"><path d="M110 516h1m3 0h2M116 518h1m329 0h1m4 0h1m41 0h2m4 0h2M132 520h1m275 0h1m11 0h1m12 0h1m9 0h3m47 0h1M442 522h3m1 0h1m45 0h3m76 0h1m118 0h1m12 0h1m22 0h1M705 548h1m1 0h1m11 0h1m16 0h1m3 0h1m1 0h1m136 0h2M409 550h1m290 0h1m2 0h1m2 0h3m13 0h1m5 0h1m6 0h2m1 0h2m1 0h1m137 0h2M408 552h3m137 0h1m146 0h1m5 0h1m1 0h1m1 0h3m11 0h1m7 0h2m6 0h1m5 0h1M407 554h4m283 0h1m6 0h1m1 0h1m1 0h1m1 0h2m11 0h1m15 0h2m1 0h1m145 0h1m1 0h2M408 556h2m65 0h1m218 0h1m6 0h1m4 0h1m1 0h2m10 0h1m5 0h1m162 0h2M473 558h2m223 0h1m2 0h3m2 0h4m13 0h1m2 0h1m10 0h3m151 0h1M471 560h4m2 0h2m199 0h1m23 0h2m2 0h4m10 0h2m5 0h1M474 562h2m1 0h3m213 0h1m8 0h1m1 0h1m1 0h4m11 0h1m1 0h1m2 0h1m166 0h1M472 564h3m227 0h1m1 0h1m2 0h3m12 0h2m3 0h1m166 0h1M471 566h4m3 0h1m224 0h1m1 0h1m1 0h2m12 0h3m3 0h1m167 0h3M474 568h2m2 0h1m224 0h1m5 0h1m12 0h1m1 0h2m170 0h1m1 0h3M474 570h1m228 0h1m2 0h2m14 0h1m2 0h1m176 0h1m1 0h2M475 572h2m229 0h1m1 0h1m13 0h1m2 0h1m2 0h1m177 0h2M694 574h1m9 0h2m1 0h1m18 0h1m1 0h1m7 0h1M487 576h1m217 0h1m1 0h2m4 0h1m12 0h2m182 0h1m1 0h1M166 578h1m539 0h1m1 0h2M281 580h1m207 0h1m211 0h1m5 0h1m15 0h1m2 0h1M499 582h1m201 0h2m22 0h2m1 0h1m93 0h1M634 584h1m62 0h1m3 0h2m4 0h2m1 0h2m1 0h1m12 0h1m12 0h1m8 0h1m5 0h1M611 586h1m25 0h1m59 0h2m1 0h2m6 0h2M235 588h1m461 0h2m2 0h1m7 0h1m2 0h1m2 0h2m3 0h1m6 0h2M442 590h1m254 0h6m10 0h1m1 0h1m4 0h3m5 0h1m2 0h1m5 0h1M316 592h1m48 0h1m262 0h1m68 0h4m9 0h5m5 0h2m7 0h1m7 0h1m10 0h2M356 594h1m81 0h1m258 0h5m9 0h2m9 0h1m15 0h1m11 0h1m60 0h1M354 598h1m255 0h1m16 0h1m72 0h2m12 0h1m2 0h1m1 0h2m2 0h1m12 0h1m11 0h1m1 0h1M293 600h1m287 0h1m34 0h1m82 0h2m14 0h1m4 0h1m16 0h2m1 0h1m3 0h1m1 0h1m13 0h1m4 0h1M576 606h1m131 0h2m19 0h1m7 0h2m7 0h1m4 0h1m7 0h4m1 0h1"/><path d="M445 524h290" stroke-dasharray="1 46 1 77 2 1 2 9 1 5 1 17 1 44 1 20 3 2 3 10 1 5 1 19 1 15 1 999"/><path d="M558 526h185" stroke-dasharray="1 30 1 16 2 1 1 13 1 28 1 1 1 6 1 3 1 8 3 4 3 5 1 2 1 1 1 3 3 2 1 3 1 9 3 6 2 6 1 7 1 999"/><path d="M652 528h94" stroke-dasharray="2 1 1 3 3 12 1 1 1 3 3 1 2 4 1 1 1 4 1 8 1 9 3 5 1 3 2 2 3 1 1 5 1 1 2 999"/><path d="M624 530h121" stroke-dasharray="1 21 3 3 4 3 2 1 1 3 3 2 2 1 1 1 1 3 4 5 1 2 2 4 1 1 3 7 1 4 1 3 1 3 2 3 7 1 1 4 1 2 1 999"/><path d="M646 532h99" stroke-dasharray="3 3 1 2 2 2 3 3 4 2 2 7 1 1 1 8 1 6 2 1 1 5 1 2 1 4 1 1 2 4 2 4 2 5 2 3 2 1 1 999"/><path d="M648 534h98" stroke-dasharray="1 4 2 1 2 11 3 2 3 3 1 2 2 7 1 6 1 1 1 2 1 5 1 3 2 2 2 7 1 2 4 2 2 7 1 999"/><path d="M646 536h97" stroke-dasharray="4 17 3 4 2 5 2 1 1 6 1 6 2 7 1 2 1 8 2 9 1 2 1 8 1 999"/><path d="M652 538h98" stroke-dasharray="1 9 3 5 2 2 2 2 1 1 2 1 1 6 1 6 1 1 1 7 1 1 2 4 1 4 1 2 2 5 1 6 1 11 1 999"/><path d="M662 540h248" stroke-dasharray="1 1 1 9 1 5 1 2 2 10 1 1 1 5 2 2 1 1 1 6 1 1 1 3 1 3 1 1 2 7 1 33 1 1 1 1 1 76 1 21 1 1 1 13 1 1 1 15 2 999"/><path d="M681 542h226" stroke-dasharray="2 1 1 5 1 4 1 3 2 2 2 1 1 9 3 3 3 4 1 5 1 2 1 10 1 8 1 11 3 2 1 41 1 11 4 18 1 11 2 8 4 3 1 2 1 9 1 3 2 1 1 1 1 3 1 999"/><path d="M669 544h236" stroke-dasharray="1 7 1 16 1 3 1 6 3 10 1 3 1 4 1 1 1 6 1 1 1 54 1 15 1 1 1 1 2 7 1 2 1 3 1 2 1 4 1 14 1 11 1 10 2 3 3 21 1 999"/><path d="M677 546h206" stroke-dasharray="1 6 1 15 1 4 3 7 1 2 1 8 4 3 4 73 2 1 1 3 1 10 2 28 1 15 2 2 4 999"/><path d="M242 596h526" stroke-dasharray="1 457 2 11 1 2 1 2 2 1 1 7 1 1 1 2 1 3 1 8 2 6 1 10 1 999"/><path d="M166 602h600" stroke-dasharray="1 99 1 128 1 63 1 218 1 20 1 9 2 13 1 5 1 10 1 3 1 3 3 1 1 5 2 1 2 1 1 999"/><path d="M155 604h611" stroke-dasharray="1 479 1 64 1 7 1 4 1 4 1 4 2 5 2 6 1 6 1 3 1 4 2 3 1 3 1 1 1 999"/><path d="M253 608h648" stroke-dasharray="1 201 1 47 1 87 1 116 2 11 2 2 2 2 1 8 1 3 1 9 3 5 5 135 1 999"/><path d="M224 610h542" stroke-dasharray="1 28 1 141 1 105 1 206 1 9 3 1 1 4 1 3 3 2 2 8 1 4 1 1 1 6 1 1 2 1 1 999"/><path d="M389 612h510" stroke-dasharray="1 159 1 157 1 17 1 7 1 1 1 2 1 2 1 1 4 1 4 6 3 1 4 132 1 999"/><path d="M178 614h586" stroke-dasharray="1 4 1 156 1 6 1 27 1 3 1 1 1 17 1 29 1 7 1 34 1 6 1 36 1 29 1 22 1 14 1 32 1 13 1 28 1 46 1 10 1 12 1 3 2 2 1 3 1 1 3 5 1 8 2 999"/><path d="M121 616h638" stroke-dasharray="1 28 1 22 1 116 1 12 1 24 1 13 1 18 1 22 1 132 1 69 1 2 1 116 2 20 3 12 2 1 1 10 1 999"/><path d="M110 618h642" stroke-dasharray="2 30 1 2 1 25 1 2 1 21 1 49 1 15 1 53 1 10 1 3 1 1 1 3 1 20 1 2 1 5 1 2 1 5 1 19 1 4 1 73 1 15 1 42 1 17 1 89 1 6 1 15 1 14 1 27 1 21 1 6 1 11 1 1 1 999"/><path d="M122 620h750" stroke-dasharray="1 16 1 2 1 46 1 16 1 2 2 23 1 3 1 18 1 15 1 18 1 11 1 3 2 10 1 11 1 1 1 15 1 29 1 13 1 18 1 25 1 37 1 19 1 17 1 3 1 11 1 18 1 10 1 15 1 4 1 42 1 3 1 5 1 29 1 6 1 5 1 1 1 10 1 21 1 4 1 11 3 24 2 112 1 999"/><path d="M148 622h537" stroke-dasharray="1 30 1 6 1 14 1 52 1 102 1 3 1 19 1 3 1 1 1 1 1 36 1 32 2 23 1 17 1 1 1 8 1 17 1 67 1 19 1 10 1 16 1 35 2 999"/><path d="M225 624h514" stroke-dasharray="1 38 1 27 1 10 1 22 1 4 2 2 1 15 1 8 1 2 1 5 1 4 1 1 1 5 1 2 1 23 1 2 1 2 2 21 1 8 1 1 2 6 1 11 1 10 1 1 4 3 1 2 1 13 1 7 1 1 1 19 1 1 1 4 1 1 1 3 2 1 1 3 1 5 1 12 1 1 1 1 1 3 2 15 2 14 1 14 1 3 1 14 1 18 1 12 1 3 1 51 1 999"/><path d="M135 626h704" stroke-dasharray="1 64 1 96 1 15 1 8 1 12 1 4 1 1 1 6 1 1 1 10 1 25 1 13 1 1 1 7 1 5 1 5 1 10 1 13 2 2 3 5 1 2 3 1 1 1 1 1 1 4 1 2 1 24 1 7 3 1 1 2 2 3 1 4 3 3 1 2 1 13 1 6 2 11 1 2 1 3 2 2 2 9 1 7 1 11 1 14 1 1 2 9 1 3 1 2 1 4 1 7 1 2 1 4 1 8 1 13 1 143 1 999"/><path d="M111 628h596" stroke-dasharray="1 96 1 12 1 16 1 53 3 17 1 22 1 21 1 5 2 14 1 6 1 4 1 7 1 7 1 14 1 4 1 1 1 21 1 2 1 1 1 1 1 8 2 8 2 29 1 3 2 6 3 3 1 10 2 1 2 6 1 1 1 1 1 10 1 11 1 9 2 2 1 1 2 20 2 19 1 2 2 3 1 8 1 1 1 6 1 11 1 3 1 6 1 4 1 5 1 11 1 999"/><path d="M212 630h696" stroke-dasharray="1 7 1 19 1 7 1 8 1 38 1 17 1 48 1 4 1 14 1 6 1 3 1 2 1 4 1 1 1 14 1 9 2 6 1 17 2 12 1 3 1 17 1 3 1 1 1 7 1 26 1 7 1 9 1 14 2 10 1 6 1 16 1 3 1 4 1 3 1 9 1 13 1 6 1 1 1 2 1 9 1 12 1 1 1 10 1 15 1 12 1 191 1 999"/><path d="M123 632h588" stroke-dasharray="1 33 1 54 1 20 1 65 1 17 1 4 1 3 1 41 1 3 1 12 4 21 1 4 1 1 1 2 1 21 1 7 1 2 1 10 2 5 2 4 1 8 2 4 1 8 1 9 1 19 1 5 2 4 1 4 1 5 2 4 2 7 1 7 1 15 2 10 1 7 1 24 1 1 1 2 1 2 1 8 1 9 1 5 1 2 1 13 1 8 1 12 1 999"/><path d="M113 634h567" stroke-dasharray="1 48 1 60 1 56 1 4 1 36 1 11 1 3 1 1 1 8 1 8 1 5 1 31 3 7 1 5 1 1 2 2 1 2 1 8 1 7 1 3 1 2 1 1 1 4 2 25 1 9 1 1 1 2 1 14 1 15 1 3 1 8 1 4 1 3 1 3 1 27 3 19 2 5 1 10 1 4 1 11 1 8 1 2 1 3 1 7 1 13 1 4 1 999"/><path d="M106 636h754" stroke-dasharray="1 55 2 25 1 51 1 38 1 26 1 12 1 17 1 1 1 4 2 11 1 4 1 3 2 9 1 10 1 8 1 1 1 3 1 2 1 4 1 5 1 3 1 3 2 13 1 15 1 15 1 5 1 15 1 2 1 6 2 8 1 3 1 2 1 8 1 7 1 4 1 2 3 1 1 4 2 12 1 1 1 9 2 5 1 4 1 1 1 1 1 5 2 7 1 2 1 4 1 6 1 3 1 4 1 6 3 1 2 9 1 13 1 10 1 40 1 133 1 999"/><path d="M203 638h676" stroke-dasharray="1 59 1 38 2 20 1 8 1 10 1 4 1 1 1 13 1 11 1 6 2 3 2 12 2 1 2 13 1 9 1 3 1 2 1 15 1 6 1 6 1 1 1 1 1 5 1 4 1 11 1 9 1 1 1 4 1 2 1 7 1 1 1 3 1 5 1 6 1 4 1 5 1 1 1 11 1 2 1 13 1 5 1 2 2 1 1 10 1 2 1 5 1 9 1 19 1 18 1 9 1 14 1 1 1 1 1 123 1 1 1 49 1 7 1 999"/><path d="M157 640h718" stroke-dasharray="1 26 1 61 1 68 1 27 1 7 1 19 1 1 1 12 1 7 1 1 1 9 1 4 1 2 2 24 1 4 1 16 1 13 1 17 1 5 1 2 1 1 1 5 1 2 2 4 1 1 1 11 1 12 1 10 1 7 1 4 1 1 1 3 2 5 1 5 1 3 1 2 1 20 1 2 1 1 1 2 1 1 1 8 3 1 1 2 2 4 2 13 1 7 1 2 1 10 1 2 1 1 1 5 1 22 1 152 1 999"/><path d="M311 642h580" stroke-dasharray="1 16 1 20 1 3 1 10 1 9 1 1 3 14 1 7 1 5 1 4 1 7 2 16 1 6 1 1 1 2 1 1 2 21 1 6 1 10 1 7 1 1 2 5 1 5 1 15 2 14 1 1 1 3 1 18 1 16 1 6 1 7 1 2 1 5 2 4 1 11 2 1 1 4 1 1 1 8 1 2 1 2 1 15 1 22 1 3 1 189 1 999"/><path d="M351 644h497" stroke-dasharray="1 4 1 6 1 10 1 4 1 2 1 6 2 16 1 6 1 9 1 7 1 18 1 4 1 13 1 15 1 2 1 1 2 10 1 1 1 9 1 2 1 3 1 4 1 7 1 5 1 5 1 1 1 1 1 7 1 8 2 6 1 4 1 4 1 19 1 1 1 5 2 7 1 2 1 5 1 3 1 1 4 11 1 2 1 9 1 21 2 9 1 7 1 6 2 23 1 65 1 41 1 999"/><path d="M289 646h579" stroke-dasharray="1 10 1 20 1 2 3 3 1 16 1 13 1 7 1 21 1 11 1 3 1 3 1 12 1 8 1 4 1 8 1 2 1 22 1 1 1 6 1 3 1 3 1 4 1 4 1 3 1 2 1 5 1 20 1 2 1 13 1 3 1 2 1 10 1 4 1 43 1 4 1 6 1 18 1 6 2 7 2 2 1 3 2 1 1 4 1 11 1 1 1 3 1 87 1 79 1 999"/><path d="M140 648h743" stroke-dasharray="1 149 1 6 1 5 1 13 1 3 1 2 1 25 1 1 1 3 1 1 1 7 1 12 1 4 1 6 1 3 1 4 1 1 1 4 1 15 1 7 3 3 1 1 1 3 2 2 1 3 1 4 1 11 1 1 1 2 2 6 1 4 1 8 1 1 1 1 1 2 1 5 2 17 1 4 2 11 1 2 1 1 1 2 1 2 1 8 1 7 1 8 1 6 2 2 1 9 1 9 1 1 1 23 1 7 1 1 1 3 1 7 1 1 1 6 1 35 1 3 1 62 1 108 1 999"/><path d="M225 650h659" stroke-dasharray="1 30 1 68 1 11 1 5 1 2 1 13 1 2 1 1 1 1 1 24 1 4 1 9 1 3 1 4 1 3 2 6 2 10 1 6 1 1 2 4 1 2 1 1 1 7 1 1 1 9 1 3 1 17 1 11 3 6 1 8 1 10 2 2 1 5 2 16 1 4 1 1 1 16 1 2 1 2 1 15 1 3 1 1 1 2 1 12 1 1 1 12 1 5 1 5 1 5 1 2 1 1 1 3 1 11 1 26 1 26 1 52 1 15 1 7 1 58 1 999"/><path d="M134 652h750" stroke-dasharray="1 126 1 15 2 13 1 15 1 4 2 25 1 4 1 3 1 9 1 2 1 2 1 1 1 19 1 3 1 4 1 13 1 6 1 9 1 10 1 2 1 15 1 1 2 5 3 2 1 9 1 5 1 9 1 2 1 26 1 4 1 8 1 6 1 4 1 8 1 11 1 2 1 18 1 1 1 28 1 6 1 6 1 14 1 13 1 1 2 3 2 4 1 50 1 12 1 131 1 3 1 999"/><path d="M139 654h745" stroke-dasharray="1 65 1 85 1 33 1 11 1 4 1 6 1 11 1 1 1 16 1 5 1 27 1 5 1 2 1 7 1 3 1 5 1 7 1 5 1 3 1 7 2 1 1 3 1 2 1 4 1 8 1 3 1 2 1 5 1 6 1 12 1 2 1 3 1 3 1 6 2 6 1 34 1 1 1 4 1 3 1 2 2 4 1 7 1 4 2 3 1 1 1 1 2 7 1 7 1 7 1 3 1 9 2 9 2 1 2 7 1 1 1 39 1 13 1 23 1 13 1 10 2 51 1 35 1 999"/><path d="M169 656h692" stroke-dasharray="1 44 1 59 1 19 1 3 1 3 1 34 1 18 1 6 1 6 1 16 1 1 1 11 1 9 1 12 1 6 1 7 1 2 1 16 2 6 1 7 1 2 1 8 1 2 2 1 1 14 1 6 2 2 1 2 1 13 1 13 1 6 1 1 1 2 2 1 3 8 1 3 1 2 2 5 1 12 3 23 2 2 1 1 2 22 2 4 1 9 1 2 1 2 1 9 1 76 1 86 1 4 1 999"/><path d="M172 658h556" stroke-dasharray="1 54 1 32 1 13 1 18 1 20 1 28 1 17 1 30 1 5 1 28 1 1 1 39 1 10 1 5 1 3 1 10 1 16 1 19 1 24 1 11 1 4 1 15 1 43 1 10 1 23 1 9 1 10 1 30 1 999"/><path d="M112 660h634" stroke-dasharray="1 14 1 12 1 10 1 121 1 1 1 3 1 2 1 17 1 14 1 47 1 12 1 12 1 8 1 12 1 8 2 49 2 23 2 3 1 1 1 31 1 6 1 19 1 11 1 74 1 14 1 16 1 49 1 13 1 999"/><path d="M181 662h679" stroke-dasharray="1 7 1 3 1 85 1 17 1 72 1 27 1 54 1 1 1 7 1 1 1 15 1 15 1 1 1 9 1 3 1 9 1 6 1 33 1 10 1 2 2 10 1 11 1 6 1 13 1 6 1 15 1 2 1 18 1 8 1 5 1 166 1 8 1 999"/><path d="M330 664h440" stroke-dasharray="1 5 1 3 2 37 1 11 1 2 1 19 1 28 1 17 1 11 1 1 1 5 1 50 2 13 1 16 1 2 1 22 1 9 1 12 1 7 1 10 1 10 1 1 1 35 1 1 2 84 1 999"/><path d="M124 666h690" stroke-dasharray="1 186 1 8 1 9 1 3 1 3 1 4 1 8 1 2 1 29 1 6 1 2 1 12 1 23 1 7 1 11 1 1 1 7 1 16 1 37 1 6 1 13 1 28 1 20 1 21 1 21 2 4 1 6 1 26 1 22 1 12 1 68 1 35 1 999"/><path d="M112 668h781" stroke-dasharray="1 54 1 142 2 36 1 3 1 40 1 42 1 14 1 7 1 6 1 43 1 7 1 5 1 10 1 32 1 18 1 26 1 1 1 1 1 3 1 9 1 3 1 27 1 7 1 4 1 17 1 5 1 32 1 30 1 9 1 58 1 8 1 9 1 38 1 999"/><path d="M109 670h745" stroke-dasharray="1 57 1 128 1 36 1 19 1 53 1 38 1 9 1 15 1 48 1 100 1 28 1 176 1 24 1 999"/><path d="M167 672h721" stroke-dasharray="1 8 1 5 1 106 1 35 1 8 1 17 1 32 1 10 1 77 1 4 1 28 1 52 1 62 1 93 1 4 1 17 1 24 1 8 1 111 1 999"/><path d="M106 674h806" stroke-dasharray="2 69 1 54 1 29 1 138 1 27 1 39 1 4 1 7 1 83 1 47 1 60 1 213 1 21 1 999"/></g>
<path stroke-width="1" stroke="#0000d3" d="M253 58.5h1M287 58.5h1M294 58.5h1M305 58.5h6M323 58.5h3M342 58.5h2M346 58.5h2M350 58.5h3M360 58.5h2M363 58.5h2M384 58.5h2M388 58.5h2M394 58.5h2M397 58.5h2M404 58.5h6M413 58.5h2M417 58.5h4M425 58.5h2M429 58.5h6M444 58.5h2M448 58.5h2M454 58.5h4M460 58.5h7M482 58.5h1M646 58.5h1M670 58.5h1M686 58.5h1M699 58.5h1M756 58.5h1M765 58.5h1M806 58.5h1M828 58.5h2M848 58.5h1M861 58.5h2M865 58.5h2M883 58.5h4M896 58.5h3M903 58.5h1M907 58.5h6"/>
<path stroke-width="1" stroke="#0097ff" d="M108 417.5h1M118 417.5h1M128 417.5h1M138 417.5h1M148 417.5h1M158 417.5h1M168 417.5h1M178 417.5h1M188 417.5h1M198 417.5h1M208 417.5h1M218 417.5h1M228 417.5h1M238 417.5h1M248 417.5h1M258 417.5h1M113 417.5h1M146 417.5h1M203 417.5h1M230 417.5h1"/>
<path stroke-width="2" stroke="#0000d3" d="M115 463h6M124 463h1M126 463h3M250 463h3M269 463h4M283 463h5M293 463h3M313 463h6M322 463h12M337 463h14M360 463h8M377 463h12M391 463h11M430 463h16M494 463h12M519 463h25M554 463h7M568 463h6M582 463h5M588 463h5M597 463h10"/>
</g>
<rect x="149" y="55" width="12" height="619" fill="#fff"/>
<path d="M105 623.1h808" stroke="#151515" stroke-width="1.5" fill="none"/>
<path d="M109.5 677v3M109.5 52v4M131.5 677v3M131.5 52v4M154.5 677v3M154.5 52v4M176.5 677v3M176.5 52v4M199.5 677v3M199.5 52v4M221.5 675v5M221.5 52v6M244.5 677v3M244.5 52v4M266.5 677v3M266.5 52v4M289.5 677v3M289.5 52v4M311.5 677v3M311.5 52v4M334.5 677v3M334.5 52v4M356.5 675v5M356.5 52v6M379.5 677v3M379.5 52v4M401.5 677v3M401.5 52v4M424.5 677v3M424.5 52v4M446.5 677v3M446.5 52v4M469.5 677v3M469.5 52v4M491.5 675v5M491.5 52v6M514.5 677v3M514.5 52v4M536.5 677v3M536.5 52v4M559.5 677v3M559.5 52v4M581.5 677v3M581.5 52v4M604.5 677v3M604.5 52v4M626.5 675v5M626.5 52v6M649.5 677v3M649.5 52v4M671.5 677v3M671.5 52v4M694.5 677v3M694.5 52v4M716.5 677v3M716.5 52v4M739.5 677v3M739.5 52v4M761.5 675v5M761.5 52v6M784.5 677v3M784.5 52v4M806.5 677v3M806.5 52v4M829.5 677v3M829.5 52v4M851.5 677v3M851.5 52v4M874.5 677v3M874.5 52v4M896.5 675v5M896.5 52v6M104 653.5h4M914 653.5h-4M104 627.5h4M914 627.5h-4M104 601.5h4M914 601.5h-4M104 575.5h8M914 575.5h-8M104 549.5h4M914 549.5h-4M104 523.5h4M914 523.5h-4M104 497.5h4M914 497.5h-4M104 471.5h8M914 471.5h-8M104 444.5h4M914 444.5h-4M104 418.5h4M914 418.5h-4M104 392.5h4M914 392.5h-4M104 366.5h8M914 366.5h-8M104 340.5h4M914 340.5h-4M104 314.5h4M914 314.5h-4M104 288.5h4M914 288.5h-4M104 262.5h8M914 262.5h-8M104 235.5h4M914 235.5h-4M104 209.5h4M914 209.5h-4M104 183.5h4M914 183.5h-4M104 157.5h8M914 157.5h-8M104 131.5h4M914 131.5h-4M104 105.5h4M914 105.5h-4M104 79.5h4M914 79.5h-4" stroke="#222" stroke-width="1" fill="none" shape-rendering="crispEdges"/>
<path d="M103.9 52.8H914M103.9 679.9H914M104.7 52V680.7M913.3 52V680.7" fill="none" stroke="#1e1e1e" stroke-width="1.5"/>
<rect x="923.5" y="128.5" width="25" height="477" fill="url(#jet)" stroke="#2a2a2a" stroke-width="1"/>
<path d="M946.5 583.5h1.5M946.5 561.5h1.5M946.5 540.5h1.5M946.5 518.5h1.5M946.5 496.5h1.5M946.5 475.5h1.5M946.5 453.5h1.5M946.5 431.5h1.5M946.5 410.5h1.5M946.5 388.5h1.5M946.5 367.5h1.5M946.5 345.5h1.5M946.5 323.5h1.5M946.5 302.5h1.5M946.5 280.5h1.5M946.5 258.5h1.5M946.5 237.5h1.5M946.5 215.5h1.5M946.5 193.5h1.5M946.5 172.5h1.5M946.5 150.5h1.5" stroke="#000" fill="none" shape-rendering="crispEdges"/>
<text x="100.6" y="680" text-anchor="end">0</text><text x="100.6" y="582" text-anchor="end">2</text><text x="100.6" y="478" text-anchor="end">4</text><text x="100.6" y="373" text-anchor="end">6</text><text x="100.6" y="269" text-anchor="end">8</text><text x="100.6" y="164" text-anchor="end">10</text><text x="100.6" y="65" text-anchor="end">12</text>
<text x="222.00" y="705" text-anchor="middle">00:30</text><text x="357.00" y="705" text-anchor="middle">01:00</text><text x="492.00" y="705" text-anchor="middle">01:30</text><text x="627.00" y="705" text-anchor="middle">02:00</text><text x="762.00" y="705" text-anchor="middle">02:30</text><text x="897.00" y="705" text-anchor="middle">03:00</text>
<text x="953" y="140">80</text><text x="953" y="222">60</text><text x="953" y="309">40</text><text x="953" y="395">20</text><text x="953" y="482">0</text><text x="953" y="568">-20</text>
<text x="463" y="727">Time UTC</text>
<text transform="translate(62,408) rotate(-90)">Height km</text>
<text transform="translate(1001,410) rotate(-90)">SNRg dB</text>
</svg>
</body></html>
